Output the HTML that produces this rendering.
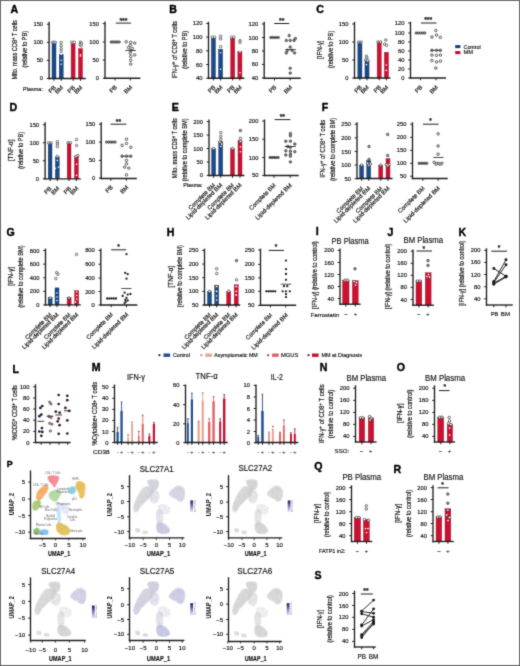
<!DOCTYPE html>
<html><head><meta charset="utf-8"><style>
html,body{margin:0;padding:0;background:#fff;}
body{width:520px;height:666px;overflow:hidden;position:relative;}
svg{position:absolute;left:0;top:0;display:block;}
svg text{font-family:"Liberation Sans", sans-serif;}
</style></head><body>
<svg width="520" height="666" viewBox="0 0 520 666" font-family='"Liberation Sans", sans-serif'>
<filter id="gb" x="0" y="0" width="520" height="666" filterUnits="userSpaceOnUse" color-interpolation-filters="sRGB"><feConvolveMatrix order="3" kernelMatrix="0.0192 0.1001 0.0192 0.1001 0.5228 0.1001 0.0192 0.1001 0.0192" edgeMode="duplicate"/></filter>
<g filter="url(#gb)">
<rect x="0" y="0" width="520" height="666" fill="#fff"/>
<text transform="translate(10.48 12.9) scale(1 1)" x="0" y="0" font-size="10.6" font-weight="bold" fill="#000" stroke="#000" stroke-width="0.4">A</text>
<text transform="translate(16.71 49.85) rotate(-90)" x="0" y="0" font-size="7" text-anchor="middle" fill="#111" stroke="#111" stroke-width="0.2" textLength="59.5" lengthAdjust="spacingAndGlyphs">Mito. mass CD8<tspan font-size="75%" dy="-1.6">+</tspan><tspan dy="1.6"> T cells</tspan></text>
<text transform="translate(27.09 49.2) rotate(-90)" x="0" y="0" font-size="7" text-anchor="middle" fill="#111" stroke="#111" stroke-width="0.2" textLength="36.5" lengthAdjust="spacingAndGlyphs">(relative to PB)</text>
<line x1="49.1" y1="21.8" x2="49.1" y2="79.17" stroke="#1e1e1e" stroke-width="1.35"/>
<line x1="46.8" y1="24.21" x2="49.1" y2="24.21" stroke="#1e1e1e" stroke-width="1"/>
<text x="43.1" y="26.29" font-size="5.8" text-anchor="end" fill="#111" stroke="#111" stroke-width="0.16">150</text>
<line x1="46.8" y1="42.27" x2="49.1" y2="42.27" stroke="#1e1e1e" stroke-width="1"/>
<text x="43.1" y="44.36" font-size="5.8" text-anchor="end" fill="#111" stroke="#111" stroke-width="0.16">100</text>
<line x1="46.8" y1="60.34" x2="49.1" y2="60.34" stroke="#1e1e1e" stroke-width="1"/>
<text x="43.1" y="62.42" font-size="5.8" text-anchor="end" fill="#111" stroke="#111" stroke-width="0.16">50</text>
<line x1="46.8" y1="78.4" x2="49.1" y2="78.4" stroke="#1e1e1e" stroke-width="1"/>
<text x="43.1" y="80.49" font-size="5.8" text-anchor="end" fill="#111" stroke="#111" stroke-width="0.16">0</text>
<rect x="52" y="42.47" width="4" height="35.93" fill="#1b4a88" stroke="#102f5a" stroke-width="0.4"/>
<rect x="59.2" y="54.39" width="4" height="24.01" fill="#1b4a88" stroke="#102f5a" stroke-width="0.4"/>
<rect x="71.1" y="42.47" width="4" height="35.93" fill="#cc1030" stroke="#901028" stroke-width="0.4"/>
<rect x="78.5" y="48.61" width="4" height="29.79" fill="#cc1030" stroke="#901028" stroke-width="0.4"/>
<line x1="48.43" y1="78.5" x2="85.7" y2="78.5" stroke="#1e1e1e" stroke-width="1.35"/>
<line x1="54" y1="78.5" x2="54" y2="80.8" stroke="#1e1e1e" stroke-width="1"/>
<line x1="61.2" y1="78.5" x2="61.2" y2="80.8" stroke="#1e1e1e" stroke-width="1"/>
<line x1="73.1" y1="78.5" x2="73.1" y2="80.8" stroke="#1e1e1e" stroke-width="1"/>
<line x1="80.5" y1="78.5" x2="80.5" y2="80.8" stroke="#1e1e1e" stroke-width="1"/>
<circle cx="52.6" cy="42.3" r="1.25" fill="#c8d0dc" stroke="#4a5a70" stroke-width="0.7"/>
<circle cx="54" cy="42.3" r="1.25" fill="#c8d0dc" stroke="#4a5a70" stroke-width="0.7"/>
<circle cx="55.4" cy="42.3" r="1.25" fill="#c8d0dc" stroke="#4a5a70" stroke-width="0.7"/>
<circle cx="71.7" cy="42.3" r="1.25" fill="#fff" stroke="#555" stroke-width="0.7"/>
<circle cx="73.1" cy="42.3" r="1.25" fill="#fff" stroke="#555" stroke-width="0.7"/>
<circle cx="74.5" cy="42.3" r="1.25" fill="#fff" stroke="#555" stroke-width="0.7"/>
<circle cx="61.2" cy="42.6" r="1.25" fill="#fff" stroke="#333" stroke-width="0.7"/>
<circle cx="61.2" cy="45.8" r="1.25" fill="#fff" stroke="#333" stroke-width="0.7"/>
<circle cx="61.2" cy="48.8" r="1.25" fill="#fff" stroke="#333" stroke-width="0.7"/>
<circle cx="61.2" cy="51.5" r="1.25" fill="#fff" stroke="#333" stroke-width="0.7"/>
<circle cx="61.2" cy="54.3" r="0.8" fill="#fff"/>
<circle cx="61.2" cy="60.3" r="0.8" fill="#fff"/>
<circle cx="61.2" cy="64.2" r="0.8" fill="#fff"/>
<circle cx="80.5" cy="42.2" r="1.25" fill="#fff" stroke="#333" stroke-width="0.7"/>
<circle cx="81.5" cy="43.4" r="1.25" fill="#fff" stroke="#333" stroke-width="0.7"/>
<circle cx="80" cy="44.6" r="1.25" fill="#fff" stroke="#333" stroke-width="0.7"/>
<circle cx="81.2" cy="45.8" r="1.25" fill="#fff" stroke="#333" stroke-width="0.7"/>
<circle cx="80.5" cy="54.9" r="0.8" fill="#fff"/>
<circle cx="80.5" cy="56" r="0.8" fill="#fff"/>
<text x="42.7" y="91" font-size="6" text-anchor="end" fill="#111" stroke="#111" stroke-width="0.16" textLength="19.6" lengthAdjust="spacingAndGlyphs">Plasma:</text>
<text transform="translate(56.4 87.9) rotate(-45)" x="0" y="0" font-size="6" text-anchor="end" fill="#111" stroke="#111" stroke-width="0.16">PB</text>
<text transform="translate(75.5 87.9) rotate(-45)" x="0" y="0" font-size="6" text-anchor="end" fill="#111" stroke="#111" stroke-width="0.16">PB</text>
<text transform="translate(63.6 87.9) rotate(-45)" x="0" y="0" font-size="6" text-anchor="end" fill="#111" stroke="#111" stroke-width="0.16">BM</text>
<text transform="translate(82.9 87.9) rotate(-45)" x="0" y="0" font-size="6" text-anchor="end" fill="#111" stroke="#111" stroke-width="0.16">BM</text>
<line x1="105" y1="21.5" x2="105" y2="78.88" stroke="#1e1e1e" stroke-width="1.35"/>
<line x1="102.7" y1="23.6" x2="105" y2="23.6" stroke="#1e1e1e" stroke-width="1"/>
<text x="99" y="25.69" font-size="5.8" text-anchor="end" fill="#111" stroke="#111" stroke-width="0.16">150</text>
<line x1="102.7" y1="42" x2="105" y2="42" stroke="#1e1e1e" stroke-width="1"/>
<text x="99" y="44.09" font-size="5.8" text-anchor="end" fill="#111" stroke="#111" stroke-width="0.16">100</text>
<line x1="102.7" y1="60" x2="105" y2="60" stroke="#1e1e1e" stroke-width="1"/>
<text x="99" y="62.09" font-size="5.8" text-anchor="end" fill="#111" stroke="#111" stroke-width="0.16">50</text>
<line x1="102.7" y1="78.2" x2="105" y2="78.2" stroke="#1e1e1e" stroke-width="1"/>
<text x="99" y="80.29" font-size="5.8" text-anchor="end" fill="#111" stroke="#111" stroke-width="0.16">0</text>
<line x1="104.33" y1="78.2" x2="140.4" y2="78.2" stroke="#1e1e1e" stroke-width="1.35"/>
<line x1="115" y1="78.2" x2="115" y2="80.5" stroke="#1e1e1e" stroke-width="1"/>
<line x1="130.3" y1="78.2" x2="130.3" y2="80.5" stroke="#1e1e1e" stroke-width="1"/>
<circle cx="111.15" cy="42" r="1.15" fill="#fff" stroke="#2a2a2a" stroke-width="0.7"/>
<circle cx="112.77" cy="42" r="1.15" fill="#fff" stroke="#2a2a2a" stroke-width="0.7"/>
<circle cx="114.39" cy="42" r="1.15" fill="#fff" stroke="#2a2a2a" stroke-width="0.7"/>
<circle cx="116.01" cy="42" r="1.15" fill="#fff" stroke="#2a2a2a" stroke-width="0.7"/>
<circle cx="117.63" cy="42" r="1.15" fill="#fff" stroke="#2a2a2a" stroke-width="0.7"/>
<circle cx="119.25" cy="42" r="1.15" fill="#fff" stroke="#2a2a2a" stroke-width="0.7"/>
<line x1="110.3" y1="42" x2="120.1" y2="42" stroke="#1e1e1e" stroke-width="0.8"/>
<circle cx="126.2" cy="41.8" r="1.25" fill="#fff" stroke="#1a1a1a" stroke-width="0.7"/>
<circle cx="130.7" cy="42.4" r="1.25" fill="#fff" stroke="#1a1a1a" stroke-width="0.7"/>
<circle cx="134.7" cy="43.1" r="1.25" fill="#fff" stroke="#1a1a1a" stroke-width="0.7"/>
<circle cx="130.3" cy="45.4" r="1.25" fill="#fff" stroke="#1a1a1a" stroke-width="0.7"/>
<circle cx="128.5" cy="47.6" r="1.25" fill="#fff" stroke="#1a1a1a" stroke-width="0.7"/>
<circle cx="132.3" cy="48.5" r="1.25" fill="#fff" stroke="#1a1a1a" stroke-width="0.7"/>
<circle cx="130.7" cy="50.5" r="1.25" fill="#fff" stroke="#1a1a1a" stroke-width="0.7"/>
<circle cx="134.7" cy="54.9" r="1.25" fill="#fff" stroke="#1a1a1a" stroke-width="0.7"/>
<circle cx="130.3" cy="53.2" r="1.25" fill="#fff" stroke="#1a1a1a" stroke-width="0.7"/>
<circle cx="130.7" cy="56.6" r="1.25" fill="#fff" stroke="#1a1a1a" stroke-width="0.7"/>
<circle cx="130.7" cy="60.3" r="1.25" fill="#fff" stroke="#1a1a1a" stroke-width="0.7"/>
<circle cx="130.7" cy="64.1" r="1.25" fill="#fff" stroke="#1a1a1a" stroke-width="0.7"/>
<line x1="125.3" y1="50.5" x2="136" y2="50.5" stroke="#1e1e1e" stroke-width="0.8"/>
<text x="123.4" y="22.87" font-size="6.6" text-anchor="middle" font-weight="bold" fill="#111" stroke="#111" stroke-width="0.16" textLength="8.05" lengthAdjust="spacingAndGlyphs">***</text>
<line x1="115.8" y1="23.1" x2="131" y2="23.1" stroke="#1e1e1e" stroke-width="1"/>
<text transform="translate(117.4 87.7) rotate(-45)" x="0" y="0" font-size="6" text-anchor="end" fill="#111" stroke="#111" stroke-width="0.16">PB</text>
<text transform="translate(132.7 87.7) rotate(-45)" x="0" y="0" font-size="6" text-anchor="end" fill="#111" stroke="#111" stroke-width="0.16">BM</text>
<text transform="translate(169.34 12.9) scale(1 1)" x="0" y="0" font-size="10.6" font-weight="bold" fill="#000" stroke="#000" stroke-width="0.4">B</text>
<text transform="translate(176.71 49.75) rotate(-90)" x="0" y="0" font-size="7" text-anchor="middle" fill="#111" stroke="#111" stroke-width="0.2" textLength="57.5" lengthAdjust="spacingAndGlyphs">IFN-γ<tspan font-size="75%" dy="-1.6">+</tspan><tspan dy="1.6"> of CD8</tspan><tspan font-size="75%" dy="-1.6">+</tspan><tspan dy="1.6"> T cells</tspan></text>
<text transform="translate(187.19 49.75) rotate(-90)" x="0" y="0" font-size="7" text-anchor="middle" fill="#111" stroke="#111" stroke-width="0.2" textLength="37.9" lengthAdjust="spacingAndGlyphs">(relative to PB)</text>
<line x1="208.5" y1="21.8" x2="208.5" y2="78.88" stroke="#1e1e1e" stroke-width="1.35"/>
<line x1="206.2" y1="23.4" x2="208.5" y2="23.4" stroke="#1e1e1e" stroke-width="1"/>
<text x="202.5" y="25.49" font-size="5.8" text-anchor="end" fill="#111" stroke="#111" stroke-width="0.16">120</text>
<line x1="206.2" y1="37.1" x2="208.5" y2="37.1" stroke="#1e1e1e" stroke-width="1"/>
<text x="202.5" y="39.19" font-size="5.8" text-anchor="end" fill="#111" stroke="#111" stroke-width="0.16">100</text>
<line x1="206.2" y1="50.8" x2="208.5" y2="50.8" stroke="#1e1e1e" stroke-width="1"/>
<text x="202.5" y="52.89" font-size="5.8" text-anchor="end" fill="#111" stroke="#111" stroke-width="0.16">80</text>
<line x1="206.2" y1="64.5" x2="208.5" y2="64.5" stroke="#1e1e1e" stroke-width="1"/>
<text x="202.5" y="66.59" font-size="5.8" text-anchor="end" fill="#111" stroke="#111" stroke-width="0.16">60</text>
<line x1="206.2" y1="78.2" x2="208.5" y2="78.2" stroke="#1e1e1e" stroke-width="1"/>
<text x="202.5" y="80.29" font-size="5.8" text-anchor="end" fill="#111" stroke="#111" stroke-width="0.16">40</text>
<rect x="211.35" y="37.3" width="4.1" height="40.9" fill="#1b4a88" stroke="#102f5a" stroke-width="0.4"/>
<rect x="218.55" y="49.2" width="4.1" height="29" fill="#1b4a88" stroke="#102f5a" stroke-width="0.4"/>
<rect x="230.65" y="37.3" width="4.1" height="40.9" fill="#cc1030" stroke="#901028" stroke-width="0.4"/>
<rect x="237.85" y="51.2" width="4.1" height="27" fill="#cc1030" stroke="#901028" stroke-width="0.4"/>
<line x1="207.82" y1="78.2" x2="244.4" y2="78.2" stroke="#1e1e1e" stroke-width="1.35"/>
<line x1="213.4" y1="78.2" x2="213.4" y2="80.5" stroke="#1e1e1e" stroke-width="1"/>
<line x1="220.6" y1="78.2" x2="220.6" y2="80.5" stroke="#1e1e1e" stroke-width="1"/>
<line x1="232.7" y1="78.2" x2="232.7" y2="80.5" stroke="#1e1e1e" stroke-width="1"/>
<line x1="239.9" y1="78.2" x2="239.9" y2="80.5" stroke="#1e1e1e" stroke-width="1"/>
<circle cx="212.2" cy="37.1" r="1.25" fill="#fff" stroke="#555" stroke-width="0.7"/>
<circle cx="214.6" cy="37.1" r="1.25" fill="#fff" stroke="#555" stroke-width="0.7"/>
<circle cx="231.5" cy="37.1" r="1.25" fill="#fff" stroke="#555" stroke-width="0.7"/>
<circle cx="233.9" cy="37.1" r="1.25" fill="#fff" stroke="#555" stroke-width="0.7"/>
<circle cx="220.6" cy="36.3" r="1.25" fill="#fff" stroke="#333" stroke-width="0.7"/>
<circle cx="220.6" cy="38.9" r="1.25" fill="#fff" stroke="#333" stroke-width="0.7"/>
<circle cx="220.6" cy="46.7" r="1.25" fill="#fff" stroke="#3a3a3a" stroke-width="0.7"/>
<circle cx="220.6" cy="52.8" r="0.8" fill="#fff"/>
<circle cx="220.6" cy="69.2" r="0.8" fill="#fff"/>
<circle cx="240" cy="40.7" r="1.25" fill="#fff" stroke="#333" stroke-width="0.7"/>
<circle cx="240" cy="42.4" r="1.25" fill="#fff" stroke="#333" stroke-width="0.7"/>
<circle cx="240" cy="51.9" r="0.8" fill="#fff"/>
<circle cx="240" cy="72.7" r="0.8" fill="#fff"/>
<text transform="translate(215.8 87.7) rotate(-45)" x="0" y="0" font-size="6" text-anchor="end" fill="#111" stroke="#111" stroke-width="0.16">PB</text>
<text transform="translate(235.1 87.7) rotate(-45)" x="0" y="0" font-size="6" text-anchor="end" fill="#111" stroke="#111" stroke-width="0.16">PB</text>
<text transform="translate(223 87.7) rotate(-45)" x="0" y="0" font-size="6" text-anchor="end" fill="#111" stroke="#111" stroke-width="0.16">BM</text>
<text transform="translate(242.3 87.7) rotate(-45)" x="0" y="0" font-size="6" text-anchor="end" fill="#111" stroke="#111" stroke-width="0.16">BM</text>
<line x1="264.2" y1="21.8" x2="264.2" y2="78.88" stroke="#1e1e1e" stroke-width="1.35"/>
<line x1="261.9" y1="24" x2="264.2" y2="24" stroke="#1e1e1e" stroke-width="1"/>
<text x="258.2" y="26.09" font-size="5.8" text-anchor="end" fill="#111" stroke="#111" stroke-width="0.16">120</text>
<line x1="261.9" y1="37.5" x2="264.2" y2="37.5" stroke="#1e1e1e" stroke-width="1"/>
<text x="258.2" y="39.59" font-size="5.8" text-anchor="end" fill="#111" stroke="#111" stroke-width="0.16">100</text>
<line x1="261.9" y1="51" x2="264.2" y2="51" stroke="#1e1e1e" stroke-width="1"/>
<text x="258.2" y="53.09" font-size="5.8" text-anchor="end" fill="#111" stroke="#111" stroke-width="0.16">80</text>
<line x1="261.9" y1="64.4" x2="264.2" y2="64.4" stroke="#1e1e1e" stroke-width="1"/>
<text x="258.2" y="66.49" font-size="5.8" text-anchor="end" fill="#111" stroke="#111" stroke-width="0.16">60</text>
<line x1="261.9" y1="78" x2="264.2" y2="78" stroke="#1e1e1e" stroke-width="1"/>
<text x="258.2" y="80.09" font-size="5.8" text-anchor="end" fill="#111" stroke="#111" stroke-width="0.16">40</text>
<line x1="263.52" y1="78.2" x2="300.8" y2="78.2" stroke="#1e1e1e" stroke-width="1.35"/>
<line x1="274.5" y1="78.2" x2="274.5" y2="80.5" stroke="#1e1e1e" stroke-width="1"/>
<line x1="290.2" y1="78.2" x2="290.2" y2="80.5" stroke="#1e1e1e" stroke-width="1"/>
<circle cx="270.75" cy="37.5" r="1.15" fill="#fff" stroke="#2a2a2a" stroke-width="0.7"/>
<circle cx="272.68" cy="37.5" r="1.15" fill="#fff" stroke="#2a2a2a" stroke-width="0.7"/>
<circle cx="274.6" cy="37.5" r="1.15" fill="#fff" stroke="#2a2a2a" stroke-width="0.7"/>
<circle cx="276.52" cy="37.5" r="1.15" fill="#fff" stroke="#2a2a2a" stroke-width="0.7"/>
<circle cx="278.45" cy="37.5" r="1.15" fill="#fff" stroke="#2a2a2a" stroke-width="0.7"/>
<line x1="269.9" y1="37.5" x2="279.3" y2="37.5" stroke="#1e1e1e" stroke-width="0.8"/>
<circle cx="289.2" cy="35.6" r="1.25" fill="#8a8a8a" stroke="#333" stroke-width="0.7"/>
<circle cx="286.3" cy="40.4" r="1.25" fill="#8a8a8a" stroke="#333" stroke-width="0.7"/>
<circle cx="290.2" cy="40.4" r="1.25" fill="#8a8a8a" stroke="#333" stroke-width="0.7"/>
<circle cx="294" cy="40.4" r="1.25" fill="#8a8a8a" stroke="#333" stroke-width="0.7"/>
<circle cx="295.4" cy="38.5" r="1.25" fill="#8a8a8a" stroke="#333" stroke-width="0.7"/>
<circle cx="290.2" cy="47.1" r="1.25" fill="#8a8a8a" stroke="#333" stroke-width="0.7"/>
<circle cx="287.3" cy="50.4" r="1.25" fill="#8a8a8a" stroke="#333" stroke-width="0.7"/>
<circle cx="292.1" cy="50.4" r="1.25" fill="#8a8a8a" stroke="#333" stroke-width="0.7"/>
<circle cx="294.6" cy="52.9" r="1.25" fill="#8a8a8a" stroke="#333" stroke-width="0.7"/>
<circle cx="286.3" cy="52.9" r="1.25" fill="#8a8a8a" stroke="#333" stroke-width="0.7"/>
<circle cx="290.2" cy="68.3" r="1.25" fill="#8a8a8a" stroke="#333" stroke-width="0.7"/>
<circle cx="290.2" cy="73.1" r="1.25" fill="#8a8a8a" stroke="#333" stroke-width="0.7"/>
<line x1="285.4" y1="49.6" x2="296" y2="49.6" stroke="#1e1e1e" stroke-width="0.8"/>
<text x="281.7" y="22.87" font-size="6.6" text-anchor="middle" font-weight="bold" fill="#111" stroke="#111" stroke-width="0.16" textLength="5.3" lengthAdjust="spacingAndGlyphs">**</text>
<line x1="274.2" y1="23.5" x2="289.2" y2="23.5" stroke="#1e1e1e" stroke-width="1"/>
<text transform="translate(276.9 87.7) rotate(-45)" x="0" y="0" font-size="6" text-anchor="end" fill="#111" stroke="#111" stroke-width="0.16">PB</text>
<text transform="translate(292.6 87.7) rotate(-45)" x="0" y="0" font-size="6" text-anchor="end" fill="#111" stroke="#111" stroke-width="0.16">BM</text>
<text transform="translate(316.2 12.9) scale(1 1)" x="0" y="0" font-size="10.6" font-weight="bold" fill="#000" stroke="#000" stroke-width="0.4">C</text>
<text transform="translate(322.39 49.7) rotate(-90)" x="0" y="0" font-size="7" text-anchor="middle" fill="#111" stroke="#111" stroke-width="0.2" textLength="18.5" lengthAdjust="spacingAndGlyphs">[IFN-γ]</text>
<text transform="translate(332.89 49.4) rotate(-90)" x="0" y="0" font-size="7" text-anchor="middle" fill="#111" stroke="#111" stroke-width="0.2" textLength="37.3" lengthAdjust="spacingAndGlyphs">(relative to PB)</text>
<line x1="354.5" y1="21.8" x2="354.5" y2="78.67" stroke="#1e1e1e" stroke-width="1.35"/>
<line x1="352.2" y1="24" x2="354.5" y2="24" stroke="#1e1e1e" stroke-width="1"/>
<text x="348.5" y="26.09" font-size="5.8" text-anchor="end" fill="#111" stroke="#111" stroke-width="0.16">150</text>
<line x1="352.2" y1="42" x2="354.5" y2="42" stroke="#1e1e1e" stroke-width="1"/>
<text x="348.5" y="44.09" font-size="5.8" text-anchor="end" fill="#111" stroke="#111" stroke-width="0.16">100</text>
<line x1="352.2" y1="60" x2="354.5" y2="60" stroke="#1e1e1e" stroke-width="1"/>
<text x="348.5" y="62.09" font-size="5.8" text-anchor="end" fill="#111" stroke="#111" stroke-width="0.16">50</text>
<line x1="352.2" y1="78" x2="354.5" y2="78" stroke="#1e1e1e" stroke-width="1"/>
<text x="348.5" y="80.09" font-size="5.8" text-anchor="end" fill="#111" stroke="#111" stroke-width="0.16">0</text>
<rect x="357.85" y="42.2" width="4.1" height="35.8" fill="#1b4a88" stroke="#102f5a" stroke-width="0.4"/>
<rect x="364.95" y="60.2" width="4.1" height="17.8" fill="#1b4a88" stroke="#102f5a" stroke-width="0.4"/>
<rect x="377.15" y="42.2" width="4.1" height="35.8" fill="#cc1030" stroke="#901028" stroke-width="0.4"/>
<rect x="384.35" y="52.28" width="4.1" height="25.72" fill="#cc1030" stroke="#901028" stroke-width="0.4"/>
<line x1="353.82" y1="78" x2="390.4" y2="78" stroke="#1e1e1e" stroke-width="1.35"/>
<line x1="359.9" y1="78" x2="359.9" y2="80.3" stroke="#1e1e1e" stroke-width="1"/>
<line x1="367" y1="78" x2="367" y2="80.3" stroke="#1e1e1e" stroke-width="1"/>
<line x1="379.2" y1="78" x2="379.2" y2="80.3" stroke="#1e1e1e" stroke-width="1"/>
<line x1="386.4" y1="78" x2="386.4" y2="80.3" stroke="#1e1e1e" stroke-width="1"/>
<circle cx="358.7" cy="42" r="1.25" fill="#c8d0dc" stroke="#4a5a70" stroke-width="0.7"/>
<circle cx="361.1" cy="42" r="1.25" fill="#c8d0dc" stroke="#4a5a70" stroke-width="0.7"/>
<circle cx="378" cy="42" r="1.25" fill="#fff" stroke="#2a2a2a" stroke-width="0.7"/>
<circle cx="380.4" cy="42" r="1.25" fill="#fff" stroke="#2a2a2a" stroke-width="0.7"/>
<circle cx="366.5" cy="56.2" r="1.25" fill="#fff" stroke="#333" stroke-width="0.7"/>
<circle cx="366.9" cy="58.1" r="1.25" fill="#fff" stroke="#333" stroke-width="0.7"/>
<circle cx="365.8" cy="60" r="1.25" fill="#fff" stroke="#333" stroke-width="0.7"/>
<circle cx="367.7" cy="60.8" r="1.25" fill="#fff" stroke="#333" stroke-width="0.7"/>
<circle cx="366.5" cy="64.6" r="0.8" fill="#fff"/>
<circle cx="385.8" cy="40" r="1.25" fill="#fff" stroke="#333" stroke-width="0.7"/>
<circle cx="384.6" cy="44.2" r="1.25" fill="#fff" stroke="#333" stroke-width="0.7"/>
<circle cx="386.5" cy="45.4" r="1.25" fill="#fff" stroke="#333" stroke-width="0.7"/>
<circle cx="386.2" cy="65" r="0.8" fill="#fff"/>
<circle cx="386.2" cy="70.4" r="0.8" fill="#fff"/>
<text transform="translate(362.3 87.7) rotate(-45)" x="0" y="0" font-size="6" text-anchor="end" fill="#111" stroke="#111" stroke-width="0.16">PB</text>
<text transform="translate(381.6 87.7) rotate(-45)" x="0" y="0" font-size="6" text-anchor="end" fill="#111" stroke="#111" stroke-width="0.16">PB</text>
<text transform="translate(369.4 87.7) rotate(-45)" x="0" y="0" font-size="6" text-anchor="end" fill="#111" stroke="#111" stroke-width="0.16">BM</text>
<text transform="translate(388.8 87.7) rotate(-45)" x="0" y="0" font-size="6" text-anchor="end" fill="#111" stroke="#111" stroke-width="0.16">BM</text>
<line x1="410.5" y1="21.8" x2="410.5" y2="78.67" stroke="#1e1e1e" stroke-width="1.35"/>
<line x1="408.2" y1="23" x2="410.5" y2="23" stroke="#1e1e1e" stroke-width="1"/>
<text x="404.5" y="25.09" font-size="5.8" text-anchor="end" fill="#111" stroke="#111" stroke-width="0.16">120</text>
<line x1="408.2" y1="33" x2="410.5" y2="33" stroke="#1e1e1e" stroke-width="1"/>
<text x="404.5" y="35.09" font-size="5.8" text-anchor="end" fill="#111" stroke="#111" stroke-width="0.16">100</text>
<line x1="408.2" y1="42" x2="410.5" y2="42" stroke="#1e1e1e" stroke-width="1"/>
<text x="404.5" y="44.09" font-size="5.8" text-anchor="end" fill="#111" stroke="#111" stroke-width="0.16">80</text>
<line x1="408.2" y1="51" x2="410.5" y2="51" stroke="#1e1e1e" stroke-width="1"/>
<text x="404.5" y="53.09" font-size="5.8" text-anchor="end" fill="#111" stroke="#111" stroke-width="0.16">60</text>
<line x1="408.2" y1="60" x2="410.5" y2="60" stroke="#1e1e1e" stroke-width="1"/>
<text x="404.5" y="62.09" font-size="5.8" text-anchor="end" fill="#111" stroke="#111" stroke-width="0.16">40</text>
<line x1="408.2" y1="69" x2="410.5" y2="69" stroke="#1e1e1e" stroke-width="1"/>
<text x="404.5" y="71.09" font-size="5.8" text-anchor="end" fill="#111" stroke="#111" stroke-width="0.16">20</text>
<line x1="408.2" y1="78" x2="410.5" y2="78" stroke="#1e1e1e" stroke-width="1"/>
<text x="404.5" y="80.09" font-size="5.8" text-anchor="end" fill="#111" stroke="#111" stroke-width="0.16">0</text>
<line x1="409.82" y1="78" x2="446" y2="78" stroke="#1e1e1e" stroke-width="1.35"/>
<line x1="420.5" y1="78" x2="420.5" y2="80.3" stroke="#1e1e1e" stroke-width="1"/>
<line x1="436" y1="78" x2="436" y2="80.3" stroke="#1e1e1e" stroke-width="1"/>
<circle cx="416.15" cy="33" r="1.15" fill="#fff" stroke="#2a2a2a" stroke-width="0.7"/>
<circle cx="418.32" cy="33" r="1.15" fill="#fff" stroke="#2a2a2a" stroke-width="0.7"/>
<circle cx="420.5" cy="33" r="1.15" fill="#fff" stroke="#2a2a2a" stroke-width="0.7"/>
<circle cx="422.67" cy="33" r="1.15" fill="#fff" stroke="#2a2a2a" stroke-width="0.7"/>
<circle cx="424.85" cy="33" r="1.15" fill="#fff" stroke="#2a2a2a" stroke-width="0.7"/>
<line x1="415.3" y1="33" x2="425.7" y2="33" stroke="#1e1e1e" stroke-width="0.8"/>
<circle cx="435.8" cy="30.5" r="1.25" fill="#fff" stroke="#1a1a1a" stroke-width="0.7"/>
<circle cx="431.9" cy="37" r="1.25" fill="#fff" stroke="#1a1a1a" stroke-width="0.7"/>
<circle cx="436.5" cy="35.1" r="1.25" fill="#fff" stroke="#1a1a1a" stroke-width="0.7"/>
<circle cx="440.4" cy="37.4" r="1.25" fill="#fff" stroke="#1a1a1a" stroke-width="0.7"/>
<circle cx="431.9" cy="50.3" r="1.25" fill="#fff" stroke="#1a1a1a" stroke-width="0.7"/>
<circle cx="436.5" cy="50.3" r="1.25" fill="#fff" stroke="#1a1a1a" stroke-width="0.7"/>
<circle cx="440.4" cy="50.3" r="1.25" fill="#fff" stroke="#1a1a1a" stroke-width="0.7"/>
<circle cx="431.9" cy="55" r="1.25" fill="#fff" stroke="#1a1a1a" stroke-width="0.7"/>
<circle cx="436.5" cy="55.4" r="1.25" fill="#fff" stroke="#1a1a1a" stroke-width="0.7"/>
<circle cx="440.4" cy="55" r="1.25" fill="#fff" stroke="#1a1a1a" stroke-width="0.7"/>
<circle cx="431.9" cy="60.5" r="1.25" fill="#fff" stroke="#1a1a1a" stroke-width="0.7"/>
<circle cx="436.5" cy="61.9" r="1.25" fill="#fff" stroke="#1a1a1a" stroke-width="0.7"/>
<circle cx="440.4" cy="61.2" r="1.25" fill="#fff" stroke="#1a1a1a" stroke-width="0.7"/>
<circle cx="435.8" cy="68.1" r="1.25" fill="#fff" stroke="#1a1a1a" stroke-width="0.7"/>
<line x1="430.5" y1="50.3" x2="441.5" y2="50.3" stroke="#1e1e1e" stroke-width="0.8"/>
<text x="428.2" y="21.67" font-size="6.6" text-anchor="middle" font-weight="bold" fill="#111" stroke="#111" stroke-width="0.16" textLength="8.05" lengthAdjust="spacingAndGlyphs">***</text>
<line x1="421" y1="23" x2="436.5" y2="23" stroke="#1e1e1e" stroke-width="1"/>
<text transform="translate(422.9 87.7) rotate(-45)" x="0" y="0" font-size="6" text-anchor="end" fill="#111" stroke="#111" stroke-width="0.16">PB</text>
<text transform="translate(438.4 87.7) rotate(-45)" x="0" y="0" font-size="6" text-anchor="end" fill="#111" stroke="#111" stroke-width="0.16">BM</text>
<rect x="455.2" y="45.1" width="5.2" height="3" fill="#1a3f86"/>
<rect x="455.2" y="51.1" width="5.2" height="3" fill="#b8102c"/>
<text x="463.5" y="48.56" font-size="6" text-anchor="start" fill="#111" stroke="#111" stroke-width="0.16" textLength="17.3" lengthAdjust="spacingAndGlyphs">Control</text>
<text x="463.5" y="54.46" font-size="6" text-anchor="start" fill="#111" stroke="#111" stroke-width="0.16" textLength="9.5" lengthAdjust="spacingAndGlyphs">MM</text>
<text transform="translate(9.54 110.9) scale(1 1)" x="0" y="0" font-size="10.6" font-weight="bold" fill="#000" stroke="#000" stroke-width="0.4">D</text>
<text transform="translate(12.79 150.3) rotate(-90)" x="0" y="0" font-size="7" text-anchor="middle" fill="#111" stroke="#111" stroke-width="0.2" textLength="21.4" lengthAdjust="spacingAndGlyphs">[TNF-α]</text>
<text transform="translate(22.59 150.3) rotate(-90)" x="0" y="0" font-size="7" text-anchor="middle" fill="#111" stroke="#111" stroke-width="0.2" textLength="37" lengthAdjust="spacingAndGlyphs">(relative to PB)</text>
<line x1="45.1" y1="122.3" x2="45.1" y2="179.48" stroke="#1e1e1e" stroke-width="1.35"/>
<line x1="42.8" y1="124.8" x2="45.1" y2="124.8" stroke="#1e1e1e" stroke-width="1"/>
<text x="39.1" y="126.89" font-size="5.8" text-anchor="end" fill="#111" stroke="#111" stroke-width="0.16">150</text>
<line x1="42.8" y1="142.8" x2="45.1" y2="142.8" stroke="#1e1e1e" stroke-width="1"/>
<text x="39.1" y="144.89" font-size="5.8" text-anchor="end" fill="#111" stroke="#111" stroke-width="0.16">100</text>
<line x1="42.8" y1="160.8" x2="45.1" y2="160.8" stroke="#1e1e1e" stroke-width="1"/>
<text x="39.1" y="162.89" font-size="5.8" text-anchor="end" fill="#111" stroke="#111" stroke-width="0.16">50</text>
<line x1="42.8" y1="178.8" x2="45.1" y2="178.8" stroke="#1e1e1e" stroke-width="1"/>
<text x="39.1" y="180.89" font-size="5.8" text-anchor="end" fill="#111" stroke="#111" stroke-width="0.16">0</text>
<rect x="48.2" y="143" width="3.8" height="35.8" fill="#1b4a88" stroke="#102f5a" stroke-width="0.4"/>
<rect x="55.4" y="156.9" width="3.8" height="21.9" fill="#1b4a88" stroke="#102f5a" stroke-width="0.4"/>
<rect x="67.2" y="143" width="3.8" height="35.8" fill="#cc1030" stroke="#901028" stroke-width="0.4"/>
<rect x="74.5" y="156.5" width="3.8" height="22.3" fill="#cc1030" stroke="#901028" stroke-width="0.4"/>
<line x1="44.43" y1="178.8" x2="80.8" y2="178.8" stroke="#1e1e1e" stroke-width="1.35"/>
<line x1="50.1" y1="178.8" x2="50.1" y2="181.1" stroke="#1e1e1e" stroke-width="1"/>
<line x1="57.3" y1="178.8" x2="57.3" y2="181.1" stroke="#1e1e1e" stroke-width="1"/>
<line x1="69.1" y1="178.8" x2="69.1" y2="181.1" stroke="#1e1e1e" stroke-width="1"/>
<line x1="76.4" y1="178.8" x2="76.4" y2="181.1" stroke="#1e1e1e" stroke-width="1"/>
<circle cx="48.5" cy="142.8" r="1.25" fill="#c8d0dc" stroke="#4a5a70" stroke-width="0.7"/>
<circle cx="51" cy="142.8" r="1.25" fill="#c8d0dc" stroke="#4a5a70" stroke-width="0.7"/>
<circle cx="68" cy="142.8" r="1.25" fill="#fff" stroke="#2a2a2a" stroke-width="0.7"/>
<circle cx="70.4" cy="142.8" r="1.25" fill="#fff" stroke="#2a2a2a" stroke-width="0.7"/>
<circle cx="57.4" cy="141.7" r="1.25" fill="#fff" stroke="#333" stroke-width="0.7"/>
<circle cx="57.4" cy="144" r="1.25" fill="#fff" stroke="#333" stroke-width="0.7"/>
<circle cx="57.4" cy="146.6" r="1.25" fill="#fff" stroke="#333" stroke-width="0.7"/>
<circle cx="57.4" cy="156.4" r="1.25" fill="#fff" stroke="#333" stroke-width="0.7"/>
<circle cx="57.4" cy="160.4" r="0.8" fill="#fff"/>
<circle cx="55.4" cy="168.5" r="0.8" fill="#fff"/>
<circle cx="58.5" cy="167.3" r="0.8" fill="#fff"/>
<circle cx="76.5" cy="139.6" r="1.25" fill="#fff" stroke="#333" stroke-width="0.7"/>
<circle cx="76.5" cy="145.5" r="1.25" fill="#fff" stroke="#333" stroke-width="0.7"/>
<circle cx="76.1" cy="156.4" r="1.25" fill="#fff" stroke="#333" stroke-width="0.7"/>
<circle cx="77.9" cy="155.6" r="1.25" fill="#fff" stroke="#333" stroke-width="0.7"/>
<circle cx="76.5" cy="164.2" r="0.8" fill="#fff"/>
<circle cx="76.5" cy="175.4" r="0.8" fill="#fff"/>
<text transform="translate(52.15 188.8) rotate(-45)" x="0" y="0" font-size="6" text-anchor="end" fill="#111" stroke="#111" stroke-width="0.16">PB</text>
<text transform="translate(71.6 188.8) rotate(-45)" x="0" y="0" font-size="6" text-anchor="end" fill="#111" stroke="#111" stroke-width="0.16">PB</text>
<text transform="translate(59.9 188.8) rotate(-45)" x="0" y="0" font-size="6" text-anchor="end" fill="#111" stroke="#111" stroke-width="0.16">BM</text>
<text transform="translate(78.9 188.8) rotate(-45)" x="0" y="0" font-size="6" text-anchor="end" fill="#111" stroke="#111" stroke-width="0.16">BM</text>
<line x1="101.2" y1="122.3" x2="101.2" y2="179.18" stroke="#1e1e1e" stroke-width="1.35"/>
<line x1="98.9" y1="124.2" x2="101.2" y2="124.2" stroke="#1e1e1e" stroke-width="1"/>
<text x="95.2" y="126.29" font-size="5.8" text-anchor="end" fill="#111" stroke="#111" stroke-width="0.16">150</text>
<line x1="98.9" y1="142.1" x2="101.2" y2="142.1" stroke="#1e1e1e" stroke-width="1"/>
<text x="95.2" y="144.19" font-size="5.8" text-anchor="end" fill="#111" stroke="#111" stroke-width="0.16">100</text>
<line x1="98.9" y1="160.4" x2="101.2" y2="160.4" stroke="#1e1e1e" stroke-width="1"/>
<text x="95.2" y="162.49" font-size="5.8" text-anchor="end" fill="#111" stroke="#111" stroke-width="0.16">50</text>
<line x1="98.9" y1="178" x2="101.2" y2="178" stroke="#1e1e1e" stroke-width="1"/>
<text x="95.2" y="180.09" font-size="5.8" text-anchor="end" fill="#111" stroke="#111" stroke-width="0.16">0</text>
<line x1="100.53" y1="178.5" x2="136.8" y2="178.5" stroke="#1e1e1e" stroke-width="1.35"/>
<line x1="110.9" y1="178.5" x2="110.9" y2="180.8" stroke="#1e1e1e" stroke-width="1"/>
<line x1="126.3" y1="178.5" x2="126.3" y2="180.8" stroke="#1e1e1e" stroke-width="1"/>
<circle cx="106.55" cy="142.1" r="1.15" fill="#fff" stroke="#2a2a2a" stroke-width="0.7"/>
<circle cx="108.7" cy="142.1" r="1.15" fill="#fff" stroke="#2a2a2a" stroke-width="0.7"/>
<circle cx="110.85" cy="142.1" r="1.15" fill="#fff" stroke="#2a2a2a" stroke-width="0.7"/>
<circle cx="113" cy="142.1" r="1.15" fill="#fff" stroke="#2a2a2a" stroke-width="0.7"/>
<circle cx="115.15" cy="142.1" r="1.15" fill="#fff" stroke="#2a2a2a" stroke-width="0.7"/>
<line x1="105.7" y1="142.1" x2="116" y2="142.1" stroke="#1e1e1e" stroke-width="0.8"/>
<circle cx="126.5" cy="139.2" r="1.25" fill="#fff" stroke="#1a1a1a" stroke-width="0.7"/>
<circle cx="122.1" cy="145.4" r="1.25" fill="#fff" stroke="#1a1a1a" stroke-width="0.7"/>
<circle cx="126.5" cy="143.5" r="1.25" fill="#fff" stroke="#1a1a1a" stroke-width="0.7"/>
<circle cx="130.8" cy="147.3" r="1.25" fill="#fff" stroke="#1a1a1a" stroke-width="0.7"/>
<circle cx="122.1" cy="156.2" r="1.25" fill="#fff" stroke="#1a1a1a" stroke-width="0.7"/>
<circle cx="126.5" cy="156.2" r="1.25" fill="#fff" stroke="#1a1a1a" stroke-width="0.7"/>
<circle cx="130.8" cy="156.2" r="1.25" fill="#fff" stroke="#1a1a1a" stroke-width="0.7"/>
<circle cx="126.5" cy="160.4" r="1.25" fill="#fff" stroke="#1a1a1a" stroke-width="0.7"/>
<circle cx="126.5" cy="163.8" r="1.25" fill="#fff" stroke="#1a1a1a" stroke-width="0.7"/>
<circle cx="124.6" cy="167.1" r="1.25" fill="#fff" stroke="#1a1a1a" stroke-width="0.7"/>
<circle cx="128.8" cy="168.1" r="1.25" fill="#fff" stroke="#1a1a1a" stroke-width="0.7"/>
<circle cx="126.5" cy="174.8" r="1.25" fill="#fff" stroke="#1a1a1a" stroke-width="0.7"/>
<line x1="121" y1="156.2" x2="131.7" y2="156.2" stroke="#1e1e1e" stroke-width="0.8"/>
<text x="118.4" y="123.67" font-size="6.6" text-anchor="middle" font-weight="bold" fill="#111" stroke="#111" stroke-width="0.16" textLength="5.3" lengthAdjust="spacingAndGlyphs">**</text>
<line x1="110.6" y1="124.2" x2="126.5" y2="124.2" stroke="#1e1e1e" stroke-width="1"/>
<text transform="translate(113.4 187.6) rotate(-45)" x="0" y="0" font-size="6" text-anchor="end" fill="#111" stroke="#111" stroke-width="0.16">PB</text>
<text transform="translate(128.9 187.6) rotate(-45)" x="0" y="0" font-size="6" text-anchor="end" fill="#111" stroke="#111" stroke-width="0.16">BM</text>
<text transform="translate(171.74 111.2) scale(1 1)" x="0" y="0" font-size="10.6" font-weight="bold" fill="#000" stroke="#000" stroke-width="0.4">E</text>
<text transform="translate(176.91 148.2) rotate(-90)" x="0" y="0" font-size="7" text-anchor="middle" fill="#111" stroke="#111" stroke-width="0.2" textLength="60" lengthAdjust="spacingAndGlyphs">Mito. mass CD8<tspan font-size="75%" dy="-1.6">+</tspan><tspan dy="1.6"> T cells</tspan></text>
<text transform="translate(186.89 149.8) rotate(-90)" x="0" y="0" font-size="7" text-anchor="middle" fill="#111" stroke="#111" stroke-width="0.2" textLength="63" lengthAdjust="spacingAndGlyphs">(relative to complete BM)</text>
<line x1="209" y1="119.5" x2="209" y2="176.18" stroke="#1e1e1e" stroke-width="1.35"/>
<line x1="206.7" y1="121.6" x2="209" y2="121.6" stroke="#1e1e1e" stroke-width="1"/>
<text x="203" y="123.69" font-size="5.8" text-anchor="end" fill="#111" stroke="#111" stroke-width="0.16">200</text>
<line x1="206.7" y1="135.05" x2="209" y2="135.05" stroke="#1e1e1e" stroke-width="1"/>
<text x="203" y="137.14" font-size="5.8" text-anchor="end" fill="#111" stroke="#111" stroke-width="0.16">150</text>
<line x1="206.7" y1="148.5" x2="209" y2="148.5" stroke="#1e1e1e" stroke-width="1"/>
<text x="203" y="150.59" font-size="5.8" text-anchor="end" fill="#111" stroke="#111" stroke-width="0.16">100</text>
<line x1="206.7" y1="161.95" x2="209" y2="161.95" stroke="#1e1e1e" stroke-width="1"/>
<text x="203" y="164.04" font-size="5.8" text-anchor="end" fill="#111" stroke="#111" stroke-width="0.16">50</text>
<line x1="206.7" y1="175.4" x2="209" y2="175.4" stroke="#1e1e1e" stroke-width="1"/>
<text x="203" y="177.49" font-size="5.8" text-anchor="end" fill="#111" stroke="#111" stroke-width="0.16">0</text>
<rect x="211.6" y="148.7" width="4" height="26.7" fill="#1b4a88" stroke="#102f5a" stroke-width="0.4"/>
<rect x="218.7" y="141.4" width="4" height="34" fill="#1b4a88" stroke="#102f5a" stroke-width="0.4"/>
<rect x="230.5" y="148.7" width="4" height="26.7" fill="#cc1030" stroke="#901028" stroke-width="0.4"/>
<rect x="238" y="140.4" width="4" height="35" fill="#cc1030" stroke="#901028" stroke-width="0.4"/>
<line x1="208.32" y1="175.5" x2="244.4" y2="175.5" stroke="#1e1e1e" stroke-width="1.35"/>
<line x1="213.6" y1="175.5" x2="213.6" y2="177.8" stroke="#1e1e1e" stroke-width="1"/>
<line x1="220.7" y1="175.5" x2="220.7" y2="177.8" stroke="#1e1e1e" stroke-width="1"/>
<line x1="232.5" y1="175.5" x2="232.5" y2="177.8" stroke="#1e1e1e" stroke-width="1"/>
<line x1="240" y1="175.5" x2="240" y2="177.8" stroke="#1e1e1e" stroke-width="1"/>
<circle cx="213.6" cy="148.5" r="1.25" fill="#fff" stroke="#2a2a2a" stroke-width="0.7"/>
<circle cx="232.5" cy="148.5" r="1.25" fill="#fff" stroke="#2a2a2a" stroke-width="0.7"/>
<circle cx="220.8" cy="132.5" r="1.25" fill="#fff" stroke="#333" stroke-width="0.7"/>
<circle cx="220.8" cy="136.3" r="1.25" fill="#fff" stroke="#333" stroke-width="0.7"/>
<circle cx="220.8" cy="139.2" r="1.25" fill="#fff" stroke="#333" stroke-width="0.7"/>
<circle cx="219.8" cy="142.1" r="1.25" fill="#fff" stroke="#333" stroke-width="0.7"/>
<circle cx="221.7" cy="144" r="1.25" fill="#fff" stroke="#333" stroke-width="0.7"/>
<circle cx="220.8" cy="146.5" r="0.8" fill="#fff"/>
<circle cx="240.4" cy="130.6" r="1.25" fill="#999" stroke="#333" stroke-width="0.7"/>
<circle cx="240.4" cy="138.3" r="1.25" fill="#fff" stroke="#333" stroke-width="0.7"/>
<circle cx="240.4" cy="141.2" r="1.25" fill="#fff" stroke="#333" stroke-width="0.7"/>
<circle cx="240.4" cy="146.9" r="0.8" fill="#fff"/>
<circle cx="240.4" cy="151.7" r="0.8" fill="#fff"/>
<text x="202.5" y="187.4" font-size="6" text-anchor="end" fill="#111" stroke="#111" stroke-width="0.16" textLength="19.2" lengthAdjust="spacingAndGlyphs">Plasma:</text>
<text transform="translate(215.6 185.5) rotate(-45)" x="0" y="0" font-size="6" text-anchor="end" fill="#111" stroke="#111" stroke-width="0.16" textLength="34.98" lengthAdjust="spacingAndGlyphs">Complete BM</text>
<text transform="translate(234.5 185.5) rotate(-45)" x="0" y="0" font-size="6" text-anchor="end" fill="#111" stroke="#111" stroke-width="0.16" textLength="34.98" lengthAdjust="spacingAndGlyphs">Complete BM</text>
<text transform="translate(222.7 185.5) rotate(-45)" x="0" y="0" font-size="6" text-anchor="end" fill="#111" stroke="#111" stroke-width="0.16" textLength="48.76" lengthAdjust="spacingAndGlyphs">Lipid-depleted BM</text>
<text transform="translate(242 185.5) rotate(-45)" x="0" y="0" font-size="6" text-anchor="end" fill="#111" stroke="#111" stroke-width="0.16" textLength="48.76" lengthAdjust="spacingAndGlyphs">Lipid-depleted BM</text>
<line x1="264.5" y1="119.5" x2="264.5" y2="176.18" stroke="#1e1e1e" stroke-width="1.35"/>
<line x1="262.2" y1="121" x2="264.5" y2="121" stroke="#1e1e1e" stroke-width="1"/>
<text x="258.5" y="123.09" font-size="5.8" text-anchor="end" fill="#111" stroke="#111" stroke-width="0.16">200</text>
<line x1="262.2" y1="139.2" x2="264.5" y2="139.2" stroke="#1e1e1e" stroke-width="1"/>
<text x="258.5" y="141.29" font-size="5.8" text-anchor="end" fill="#111" stroke="#111" stroke-width="0.16">150</text>
<line x1="262.2" y1="157.5" x2="264.5" y2="157.5" stroke="#1e1e1e" stroke-width="1"/>
<text x="258.5" y="159.59" font-size="5.8" text-anchor="end" fill="#111" stroke="#111" stroke-width="0.16">100</text>
<line x1="262.2" y1="175.4" x2="264.5" y2="175.4" stroke="#1e1e1e" stroke-width="1"/>
<text x="258.5" y="177.49" font-size="5.8" text-anchor="end" fill="#111" stroke="#111" stroke-width="0.16">50</text>
<line x1="263.82" y1="175.5" x2="298.7" y2="175.5" stroke="#1e1e1e" stroke-width="1.35"/>
<line x1="274" y1="175.5" x2="274" y2="177.8" stroke="#1e1e1e" stroke-width="1"/>
<line x1="290.2" y1="175.5" x2="290.2" y2="177.8" stroke="#1e1e1e" stroke-width="1"/>
<circle cx="269.95" cy="157.5" r="1.15" fill="#fff" stroke="#2a2a2a" stroke-width="0.7"/>
<circle cx="272.02" cy="157.5" r="1.15" fill="#fff" stroke="#2a2a2a" stroke-width="0.7"/>
<circle cx="274.1" cy="157.5" r="1.15" fill="#fff" stroke="#2a2a2a" stroke-width="0.7"/>
<circle cx="276.17" cy="157.5" r="1.15" fill="#fff" stroke="#2a2a2a" stroke-width="0.7"/>
<circle cx="278.25" cy="157.5" r="1.15" fill="#fff" stroke="#2a2a2a" stroke-width="0.7"/>
<line x1="269.1" y1="157.5" x2="279.1" y2="157.5" stroke="#1e1e1e" stroke-width="0.8"/>
<circle cx="290.4" cy="133.5" r="1.25" fill="#8a8a8a" stroke="#333" stroke-width="0.7"/>
<circle cx="290.4" cy="135.8" r="1.25" fill="#8a8a8a" stroke="#333" stroke-width="0.7"/>
<circle cx="285.8" cy="141.2" r="1.25" fill="#8a8a8a" stroke="#333" stroke-width="0.7"/>
<circle cx="290.4" cy="141.2" r="1.25" fill="#8a8a8a" stroke="#333" stroke-width="0.7"/>
<circle cx="294.8" cy="144" r="1.25" fill="#8a8a8a" stroke="#333" stroke-width="0.7"/>
<circle cx="287.7" cy="146.5" r="1.25" fill="#8a8a8a" stroke="#333" stroke-width="0.7"/>
<circle cx="290.4" cy="147.3" r="1.25" fill="#8a8a8a" stroke="#333" stroke-width="0.7"/>
<circle cx="285.8" cy="150.8" r="1.25" fill="#8a8a8a" stroke="#333" stroke-width="0.7"/>
<circle cx="290.4" cy="151.2" r="1.25" fill="#8a8a8a" stroke="#333" stroke-width="0.7"/>
<circle cx="294.8" cy="151.7" r="1.25" fill="#8a8a8a" stroke="#333" stroke-width="0.7"/>
<circle cx="290.4" cy="154.2" r="1.25" fill="#8a8a8a" stroke="#333" stroke-width="0.7"/>
<circle cx="285.8" cy="155" r="1.25" fill="#8a8a8a" stroke="#333" stroke-width="0.7"/>
<circle cx="290.4" cy="156.2" r="1.25" fill="#8a8a8a" stroke="#333" stroke-width="0.7"/>
<circle cx="290.4" cy="161.9" r="1.25" fill="#8a8a8a" stroke="#333" stroke-width="0.7"/>
<line x1="284.6" y1="146.5" x2="295.8" y2="146.5" stroke="#1e1e1e" stroke-width="0.8"/>
<text x="282.3" y="118.87" font-size="6.6" text-anchor="middle" font-weight="bold" fill="#111" stroke="#111" stroke-width="0.16" textLength="5.3" lengthAdjust="spacingAndGlyphs">**</text>
<line x1="274.6" y1="119.6" x2="290.4" y2="119.6" stroke="#1e1e1e" stroke-width="1"/>
<text transform="translate(276.2 185.7) rotate(-45)" x="0" y="0" font-size="6" text-anchor="end" fill="#111" stroke="#111" stroke-width="0.16" textLength="34.98" lengthAdjust="spacingAndGlyphs">Complete BM</text>
<text transform="translate(292.2 185.7) rotate(-45)" x="0" y="0" font-size="6" text-anchor="end" fill="#111" stroke="#111" stroke-width="0.16" textLength="48.76" lengthAdjust="spacingAndGlyphs">Lipid-depleted BM</text>
<text transform="translate(321.74 110.7) scale(1 1)" x="0" y="0" font-size="10.6" font-weight="bold" fill="#000" stroke="#000" stroke-width="0.4">F</text>
<text transform="translate(324.61 148.7) rotate(-90)" x="0" y="0" font-size="7" text-anchor="middle" fill="#111" stroke="#111" stroke-width="0.2" textLength="58" lengthAdjust="spacingAndGlyphs">IFN-γ<tspan font-size="75%" dy="-1.6">+</tspan><tspan dy="1.6"> of CD8</tspan><tspan font-size="75%" dy="-1.6">+</tspan><tspan dy="1.6"> T cells</tspan></text>
<text transform="translate(335.09 149.3) rotate(-90)" x="0" y="0" font-size="7" text-anchor="middle" fill="#111" stroke="#111" stroke-width="0.2" textLength="63" lengthAdjust="spacingAndGlyphs">(relative to complete BM)</text>
<line x1="357" y1="122.3" x2="357" y2="179.18" stroke="#1e1e1e" stroke-width="1.35"/>
<line x1="354.7" y1="124.2" x2="357" y2="124.2" stroke="#1e1e1e" stroke-width="1"/>
<text x="351" y="126.29" font-size="5.8" text-anchor="end" fill="#111" stroke="#111" stroke-width="0.16">250</text>
<line x1="354.7" y1="137.82" x2="357" y2="137.82" stroke="#1e1e1e" stroke-width="1"/>
<text x="351" y="139.91" font-size="5.8" text-anchor="end" fill="#111" stroke="#111" stroke-width="0.16">200</text>
<line x1="354.7" y1="151.45" x2="357" y2="151.45" stroke="#1e1e1e" stroke-width="1"/>
<text x="351" y="153.54" font-size="5.8" text-anchor="end" fill="#111" stroke="#111" stroke-width="0.16">150</text>
<line x1="354.7" y1="165.07" x2="357" y2="165.07" stroke="#1e1e1e" stroke-width="1"/>
<text x="351" y="167.16" font-size="5.8" text-anchor="end" fill="#111" stroke="#111" stroke-width="0.16">100</text>
<line x1="354.7" y1="178.7" x2="357" y2="178.7" stroke="#1e1e1e" stroke-width="1"/>
<text x="351" y="180.79" font-size="5.8" text-anchor="end" fill="#111" stroke="#111" stroke-width="0.16">50</text>
<rect x="359.6" y="165.27" width="4" height="13.43" fill="#1b4a88" stroke="#102f5a" stroke-width="0.4"/>
<rect x="366.7" y="160.6" width="4" height="18.1" fill="#1b4a88" stroke="#102f5a" stroke-width="0.4"/>
<rect x="378.8" y="165.27" width="4" height="13.43" fill="#cc1030" stroke="#901028" stroke-width="0.4"/>
<rect x="386" y="158.7" width="4" height="20" fill="#cc1030" stroke="#901028" stroke-width="0.4"/>
<line x1="356.32" y1="178.5" x2="392.6" y2="178.5" stroke="#1e1e1e" stroke-width="1.35"/>
<line x1="361.6" y1="178.5" x2="361.6" y2="180.8" stroke="#1e1e1e" stroke-width="1"/>
<line x1="368.7" y1="178.5" x2="368.7" y2="180.8" stroke="#1e1e1e" stroke-width="1"/>
<line x1="380.8" y1="178.5" x2="380.8" y2="180.8" stroke="#1e1e1e" stroke-width="1"/>
<line x1="388" y1="178.5" x2="388" y2="180.8" stroke="#1e1e1e" stroke-width="1"/>
<circle cx="361.6" cy="165.07" r="1.25" fill="#fff" stroke="#2a2a2a" stroke-width="0.7"/>
<circle cx="380.8" cy="165.07" r="1.25" fill="#fff" stroke="#2a2a2a" stroke-width="0.7"/>
<circle cx="369" cy="146.5" r="1.25" fill="#999" stroke="#333" stroke-width="0.7"/>
<circle cx="369" cy="159.4" r="1.25" fill="#999" stroke="#333" stroke-width="0.7"/>
<circle cx="367.7" cy="163.3" r="1.25" fill="#fff" stroke="#2a2a2a" stroke-width="0.7"/>
<circle cx="370.4" cy="163.8" r="1.25" fill="#fff" stroke="#2a2a2a" stroke-width="0.7"/>
<circle cx="369" cy="165.2" r="1.25" fill="#fff" stroke="#2a2a2a" stroke-width="0.7"/>
<circle cx="387.7" cy="134.4" r="1.25" fill="#999" stroke="#333" stroke-width="0.7"/>
<circle cx="387.7" cy="155.6" r="1.25" fill="#999" stroke="#333" stroke-width="0.7"/>
<circle cx="386.3" cy="164.6" r="1.25" fill="#fff" stroke="#2a2a2a" stroke-width="0.7"/>
<circle cx="389.2" cy="164.6" r="1.25" fill="#fff" stroke="#2a2a2a" stroke-width="0.7"/>
<circle cx="387.7" cy="165.8" r="1.25" fill="#fff" stroke="#2a2a2a" stroke-width="0.7"/>
<text transform="translate(363.6 188.8) rotate(-45)" x="0" y="0" font-size="6" text-anchor="end" fill="#111" stroke="#111" stroke-width="0.16" textLength="34.98" lengthAdjust="spacingAndGlyphs">Complete BM</text>
<text transform="translate(382.8 188.8) rotate(-45)" x="0" y="0" font-size="6" text-anchor="end" fill="#111" stroke="#111" stroke-width="0.16" textLength="34.98" lengthAdjust="spacingAndGlyphs">Complete BM</text>
<text transform="translate(370.7 188.8) rotate(-45)" x="0" y="0" font-size="6" text-anchor="end" fill="#111" stroke="#111" stroke-width="0.16" textLength="48.76" lengthAdjust="spacingAndGlyphs">Lipid-depleted BM</text>
<text transform="translate(390 188.8) rotate(-45)" x="0" y="0" font-size="6" text-anchor="end" fill="#111" stroke="#111" stroke-width="0.16" textLength="48.76" lengthAdjust="spacingAndGlyphs">Lipid-depleted BM</text>
<line x1="412.5" y1="122.3" x2="412.5" y2="179.18" stroke="#1e1e1e" stroke-width="1.35"/>
<line x1="410.2" y1="124.2" x2="412.5" y2="124.2" stroke="#1e1e1e" stroke-width="1"/>
<text x="406.5" y="126.29" font-size="5.8" text-anchor="end" fill="#111" stroke="#111" stroke-width="0.16">250</text>
<line x1="410.2" y1="137.3" x2="412.5" y2="137.3" stroke="#1e1e1e" stroke-width="1"/>
<text x="406.5" y="139.39" font-size="5.8" text-anchor="end" fill="#111" stroke="#111" stroke-width="0.16">200</text>
<line x1="410.2" y1="150.4" x2="412.5" y2="150.4" stroke="#1e1e1e" stroke-width="1"/>
<text x="406.5" y="152.49" font-size="5.8" text-anchor="end" fill="#111" stroke="#111" stroke-width="0.16">150</text>
<line x1="410.2" y1="163.3" x2="412.5" y2="163.3" stroke="#1e1e1e" stroke-width="1"/>
<text x="406.5" y="165.39" font-size="5.8" text-anchor="end" fill="#111" stroke="#111" stroke-width="0.16">100</text>
<line x1="410.2" y1="176.2" x2="412.5" y2="176.2" stroke="#1e1e1e" stroke-width="1"/>
<text x="406.5" y="178.29" font-size="5.8" text-anchor="end" fill="#111" stroke="#111" stroke-width="0.16">50</text>
<line x1="411.82" y1="178.5" x2="447.7" y2="178.5" stroke="#1e1e1e" stroke-width="1.35"/>
<line x1="422.9" y1="178.5" x2="422.9" y2="180.8" stroke="#1e1e1e" stroke-width="1"/>
<line x1="438.1" y1="178.5" x2="438.1" y2="180.8" stroke="#1e1e1e" stroke-width="1"/>
<circle cx="419.05" cy="163.3" r="1.15" fill="#fff" stroke="#2a2a2a" stroke-width="0.7"/>
<circle cx="421" cy="163.3" r="1.15" fill="#fff" stroke="#2a2a2a" stroke-width="0.7"/>
<circle cx="422.95" cy="163.3" r="1.15" fill="#fff" stroke="#2a2a2a" stroke-width="0.7"/>
<circle cx="424.9" cy="163.3" r="1.15" fill="#fff" stroke="#2a2a2a" stroke-width="0.7"/>
<circle cx="426.85" cy="163.3" r="1.15" fill="#fff" stroke="#2a2a2a" stroke-width="0.7"/>
<line x1="418.2" y1="163.3" x2="427.7" y2="163.3" stroke="#1e1e1e" stroke-width="0.8"/>
<circle cx="438.1" cy="133.8" r="1.25" fill="#fff" stroke="#1a1a1a" stroke-width="0.7"/>
<circle cx="438.1" cy="146" r="1.25" fill="#fff" stroke="#1a1a1a" stroke-width="0.7"/>
<circle cx="438.1" cy="154.2" r="1.25" fill="#fff" stroke="#1a1a1a" stroke-width="0.7"/>
<circle cx="434.2" cy="162.3" r="1.25" fill="#fff" stroke="#1a1a1a" stroke-width="0.7"/>
<circle cx="438.1" cy="163.3" r="1.25" fill="#fff" stroke="#1a1a1a" stroke-width="0.7"/>
<circle cx="441.9" cy="163.3" r="1.25" fill="#fff" stroke="#1a1a1a" stroke-width="0.7"/>
<circle cx="436.2" cy="164.2" r="1.25" fill="#fff" stroke="#1a1a1a" stroke-width="0.7"/>
<circle cx="440" cy="164.2" r="1.25" fill="#fff" stroke="#1a1a1a" stroke-width="0.7"/>
<line x1="433.3" y1="157.5" x2="443.5" y2="157.5" stroke="#1e1e1e" stroke-width="0.8"/>
<text x="430.4" y="123.27" font-size="6.6" text-anchor="middle" font-weight="bold" fill="#111" stroke="#111" stroke-width="0.16" textLength="2.55" lengthAdjust="spacingAndGlyphs">*</text>
<line x1="423" y1="124.2" x2="438.5" y2="124.2" stroke="#1e1e1e" stroke-width="1"/>
<text transform="translate(425.1 188.7) rotate(-45)" x="0" y="0" font-size="6" text-anchor="end" fill="#111" stroke="#111" stroke-width="0.16" textLength="34.98" lengthAdjust="spacingAndGlyphs">Complete BM</text>
<text transform="translate(440.3 188.7) rotate(-45)" x="0" y="0" font-size="6" text-anchor="end" fill="#111" stroke="#111" stroke-width="0.16" textLength="48.76" lengthAdjust="spacingAndGlyphs">Lipid-depleted BM</text>
<text transform="translate(6.41 235.6) scale(1 1)" x="0" y="0" font-size="10.6" font-weight="bold" fill="#000" stroke="#000" stroke-width="0.4">G</text>
<text transform="translate(13.19 276.3) rotate(-90)" x="0" y="0" font-size="7" text-anchor="middle" fill="#111" stroke="#111" stroke-width="0.2" textLength="19" lengthAdjust="spacingAndGlyphs">[IFN-γ]</text>
<text transform="translate(23.09 276.5) rotate(-90)" x="0" y="0" font-size="7" text-anchor="middle" fill="#111" stroke="#111" stroke-width="0.2" textLength="62" lengthAdjust="spacingAndGlyphs">(relative to complete BM)</text>
<line x1="45.5" y1="248.6" x2="45.5" y2="305.48" stroke="#1e1e1e" stroke-width="1.35"/>
<line x1="43.2" y1="250.52" x2="45.5" y2="250.52" stroke="#1e1e1e" stroke-width="1"/>
<text x="39.5" y="252.61" font-size="5.8" text-anchor="end" fill="#111" stroke="#111" stroke-width="0.16">800</text>
<line x1="43.2" y1="264.14" x2="45.5" y2="264.14" stroke="#1e1e1e" stroke-width="1"/>
<text x="39.5" y="266.23" font-size="5.8" text-anchor="end" fill="#111" stroke="#111" stroke-width="0.16">600</text>
<line x1="43.2" y1="277.76" x2="45.5" y2="277.76" stroke="#1e1e1e" stroke-width="1"/>
<text x="39.5" y="279.85" font-size="5.8" text-anchor="end" fill="#111" stroke="#111" stroke-width="0.16">400</text>
<line x1="43.2" y1="291.38" x2="45.5" y2="291.38" stroke="#1e1e1e" stroke-width="1"/>
<text x="39.5" y="293.47" font-size="5.8" text-anchor="end" fill="#111" stroke="#111" stroke-width="0.16">200</text>
<line x1="43.2" y1="305" x2="45.5" y2="305" stroke="#1e1e1e" stroke-width="1"/>
<text x="39.5" y="307.09" font-size="5.8" text-anchor="end" fill="#111" stroke="#111" stroke-width="0.16">0</text>
<rect x="48.15" y="297.5" width="4" height="7.5" fill="#1b4a88" stroke="#102f5a" stroke-width="0.4"/>
<rect x="55" y="287.9" width="4" height="17.1" fill="#1b4a88" stroke="#102f5a" stroke-width="0.4"/>
<rect x="67.1" y="297.5" width="4" height="7.5" fill="#cc1030" stroke="#901028" stroke-width="0.4"/>
<rect x="74.7" y="290.6" width="4" height="14.4" fill="#cc1030" stroke="#901028" stroke-width="0.4"/>
<line x1="44.83" y1="304.8" x2="80.8" y2="304.8" stroke="#1e1e1e" stroke-width="1.35"/>
<line x1="50.15" y1="304.8" x2="50.15" y2="307.1" stroke="#1e1e1e" stroke-width="1"/>
<line x1="57" y1="304.8" x2="57" y2="307.1" stroke="#1e1e1e" stroke-width="1"/>
<line x1="69.1" y1="304.8" x2="69.1" y2="307.1" stroke="#1e1e1e" stroke-width="1"/>
<line x1="76.7" y1="304.8" x2="76.7" y2="307.1" stroke="#1e1e1e" stroke-width="1"/>
<circle cx="50.15" cy="298" r="1.25" fill="#fff" stroke="#2a2a2a" stroke-width="0.7"/>
<circle cx="69.1" cy="298" r="1.25" fill="#fff" stroke="#2a2a2a" stroke-width="0.7"/>
<circle cx="56.7" cy="272.7" r="1.25" fill="#fff" stroke="#333" stroke-width="0.7"/>
<circle cx="57.9" cy="274.2" r="1.25" fill="#fff" stroke="#333" stroke-width="0.7"/>
<circle cx="55.8" cy="278.5" r="1.25" fill="#fff" stroke="#333" stroke-width="0.7"/>
<circle cx="57" cy="293" r="0.8" fill="#fff"/>
<circle cx="57" cy="297" r="0.8" fill="#fff"/>
<circle cx="57" cy="300.5" r="0.8" fill="#fff"/>
<circle cx="76.5" cy="254.4" r="1.25" fill="#fff" stroke="#333" stroke-width="0.7"/>
<circle cx="76.7" cy="292" r="0.8" fill="#fff"/>
<circle cx="76.7" cy="295.5" r="0.8" fill="#fff"/>
<circle cx="76.7" cy="299" r="0.8" fill="#fff"/>
<circle cx="75.8" cy="302" r="0.8" fill="#fff"/>
<text transform="translate(52.15 315.1) rotate(-45)" x="0" y="0" font-size="6" text-anchor="end" fill="#111" stroke="#111" stroke-width="0.16" textLength="34.98" lengthAdjust="spacingAndGlyphs">Complete BM</text>
<text transform="translate(71.1 315.1) rotate(-45)" x="0" y="0" font-size="6" text-anchor="end" fill="#111" stroke="#111" stroke-width="0.16" textLength="34.98" lengthAdjust="spacingAndGlyphs">Complete BM</text>
<text transform="translate(59 315.1) rotate(-45)" x="0" y="0" font-size="6" text-anchor="end" fill="#111" stroke="#111" stroke-width="0.16" textLength="48.76" lengthAdjust="spacingAndGlyphs">Lipid-depleted BM</text>
<text transform="translate(78.7 315.1) rotate(-45)" x="0" y="0" font-size="6" text-anchor="end" fill="#111" stroke="#111" stroke-width="0.16" textLength="48.76" lengthAdjust="spacingAndGlyphs">Lipid-depleted BM</text>
<line x1="100.8" y1="248.6" x2="100.8" y2="305.68" stroke="#1e1e1e" stroke-width="1.35"/>
<line x1="98.5" y1="250.4" x2="100.8" y2="250.4" stroke="#1e1e1e" stroke-width="1"/>
<text x="94.8" y="252.49" font-size="5.8" text-anchor="end" fill="#111" stroke="#111" stroke-width="0.16">800</text>
<line x1="98.5" y1="264.2" x2="100.8" y2="264.2" stroke="#1e1e1e" stroke-width="1"/>
<text x="94.8" y="266.29" font-size="5.8" text-anchor="end" fill="#111" stroke="#111" stroke-width="0.16">600</text>
<line x1="98.5" y1="278" x2="100.8" y2="278" stroke="#1e1e1e" stroke-width="1"/>
<text x="94.8" y="280.09" font-size="5.8" text-anchor="end" fill="#111" stroke="#111" stroke-width="0.16">400</text>
<line x1="98.5" y1="291.5" x2="100.8" y2="291.5" stroke="#1e1e1e" stroke-width="1"/>
<text x="94.8" y="293.59" font-size="5.8" text-anchor="end" fill="#111" stroke="#111" stroke-width="0.16">200</text>
<line x1="98.5" y1="305" x2="100.8" y2="305" stroke="#1e1e1e" stroke-width="1"/>
<text x="94.8" y="307.09" font-size="5.8" text-anchor="end" fill="#111" stroke="#111" stroke-width="0.16">0</text>
<line x1="100.12" y1="305" x2="137.3" y2="305" stroke="#1e1e1e" stroke-width="1.35"/>
<line x1="111.2" y1="305" x2="111.2" y2="307.3" stroke="#1e1e1e" stroke-width="1"/>
<line x1="126.5" y1="305" x2="126.5" y2="307.3" stroke="#1e1e1e" stroke-width="1"/>
<circle cx="107.2" cy="298.5" r="1.15" fill="#222"/>
<circle cx="109.4" cy="298.5" r="1.15" fill="#222"/>
<circle cx="111.6" cy="298.5" r="1.15" fill="#222"/>
<circle cx="113.8" cy="298.5" r="1.15" fill="#222"/>
<circle cx="116" cy="298.5" r="1.15" fill="#222"/>
<line x1="106" y1="298.5" x2="116.5" y2="298.5" stroke="#1e1e1e" stroke-width="0.8"/>
<circle cx="126.5" cy="254.2" r="1.15" fill="#222"/>
<circle cx="125.2" cy="272.9" r="1.15" fill="#222"/>
<circle cx="127.7" cy="274.2" r="1.15" fill="#222"/>
<circle cx="126.5" cy="278.7" r="1.15" fill="#222"/>
<circle cx="124.6" cy="292.7" r="1.15" fill="#222"/>
<circle cx="127.7" cy="294.6" r="1.15" fill="#222"/>
<circle cx="130.4" cy="294" r="1.15" fill="#222"/>
<circle cx="122.7" cy="296" r="1.15" fill="#222"/>
<circle cx="126.5" cy="297.9" r="1.15" fill="#222"/>
<circle cx="125.2" cy="299.8" r="1.15" fill="#222"/>
<circle cx="127.7" cy="300.4" r="1.15" fill="#222"/>
<circle cx="125.8" cy="301.7" r="1.15" fill="#222"/>
<circle cx="124.6" cy="303.1" r="1.15" fill="#222"/>
<line x1="121.3" y1="288.5" x2="131.5" y2="288.5" stroke="#1e1e1e" stroke-width="0.8"/>
<text x="118.5" y="248.67" font-size="6.6" text-anchor="middle" font-weight="bold" fill="#111" stroke="#111" stroke-width="0.16" textLength="2.55" lengthAdjust="spacingAndGlyphs">*</text>
<line x1="111.2" y1="249.8" x2="126.2" y2="249.8" stroke="#1e1e1e" stroke-width="1"/>
<text transform="translate(113.5 314.9) rotate(-45)" x="0" y="0" font-size="6" text-anchor="end" fill="#111" stroke="#111" stroke-width="0.16" textLength="34.98" lengthAdjust="spacingAndGlyphs">Complete BM</text>
<text transform="translate(128.8 314.9) rotate(-45)" x="0" y="0" font-size="6" text-anchor="end" fill="#111" stroke="#111" stroke-width="0.16" textLength="48.76" lengthAdjust="spacingAndGlyphs">Lipid-depleted BM</text>
<text transform="translate(166.74 236.1) scale(1 1)" x="0" y="0" font-size="10.6" font-weight="bold" fill="#000" stroke="#000" stroke-width="0.4">H</text>
<text transform="translate(172.69 276.6) rotate(-90)" x="0" y="0" font-size="7" text-anchor="middle" fill="#111" stroke="#111" stroke-width="0.2" textLength="21.6" lengthAdjust="spacingAndGlyphs">[TNF-α]</text>
<text transform="translate(182.09 276.2) rotate(-90)" x="0" y="0" font-size="7" text-anchor="middle" fill="#111" stroke="#111" stroke-width="0.2" textLength="62" lengthAdjust="spacingAndGlyphs">(relative to complete BM)</text>
<line x1="204.5" y1="248.6" x2="204.5" y2="305.68" stroke="#1e1e1e" stroke-width="1.35"/>
<line x1="202.2" y1="250.4" x2="204.5" y2="250.4" stroke="#1e1e1e" stroke-width="1"/>
<text x="198.5" y="252.49" font-size="5.8" text-anchor="end" fill="#111" stroke="#111" stroke-width="0.16">250</text>
<line x1="202.2" y1="264.05" x2="204.5" y2="264.05" stroke="#1e1e1e" stroke-width="1"/>
<text x="198.5" y="266.14" font-size="5.8" text-anchor="end" fill="#111" stroke="#111" stroke-width="0.16">200</text>
<line x1="202.2" y1="277.7" x2="204.5" y2="277.7" stroke="#1e1e1e" stroke-width="1"/>
<text x="198.5" y="279.79" font-size="5.8" text-anchor="end" fill="#111" stroke="#111" stroke-width="0.16">150</text>
<line x1="202.2" y1="291.35" x2="204.5" y2="291.35" stroke="#1e1e1e" stroke-width="1"/>
<text x="198.5" y="293.44" font-size="5.8" text-anchor="end" fill="#111" stroke="#111" stroke-width="0.16">100</text>
<line x1="202.2" y1="305" x2="204.5" y2="305" stroke="#1e1e1e" stroke-width="1"/>
<text x="198.5" y="307.09" font-size="5.8" text-anchor="end" fill="#111" stroke="#111" stroke-width="0.16">50</text>
<rect x="207.5" y="291.55" width="4" height="13.45" fill="#1b4a88" stroke="#102f5a" stroke-width="0.4"/>
<rect x="214.7" y="285.2" width="4" height="19.8" fill="#1b4a88" stroke="#102f5a" stroke-width="0.4"/>
<rect x="226.7" y="291.55" width="4" height="13.45" fill="#cc1030" stroke="#901028" stroke-width="0.4"/>
<rect x="234.2" y="284.8" width="4" height="20.2" fill="#cc1030" stroke="#901028" stroke-width="0.4"/>
<line x1="203.82" y1="305" x2="240.2" y2="305" stroke="#1e1e1e" stroke-width="1.35"/>
<line x1="209.5" y1="305" x2="209.5" y2="307.3" stroke="#1e1e1e" stroke-width="1"/>
<line x1="216.7" y1="305" x2="216.7" y2="307.3" stroke="#1e1e1e" stroke-width="1"/>
<line x1="228.7" y1="305" x2="228.7" y2="307.3" stroke="#1e1e1e" stroke-width="1"/>
<line x1="236.2" y1="305" x2="236.2" y2="307.3" stroke="#1e1e1e" stroke-width="1"/>
<circle cx="209.5" cy="291.35" r="1.25" fill="#fff" stroke="#2a2a2a" stroke-width="0.7"/>
<circle cx="228.7" cy="291.35" r="1.25" fill="#fff" stroke="#2a2a2a" stroke-width="0.7"/>
<circle cx="216.7" cy="268.8" r="1.25" fill="#fff" stroke="#333" stroke-width="0.7"/>
<circle cx="216.7" cy="273.5" r="1.25" fill="#fff" stroke="#333" stroke-width="0.7"/>
<circle cx="216.7" cy="286.5" r="1.25" fill="#fff" stroke="#2a2a2a" stroke-width="0.7"/>
<circle cx="216.7" cy="291.3" r="1.25" fill="#fff" stroke="#2a2a2a" stroke-width="0.7"/>
<circle cx="216.7" cy="296" r="0.8" fill="#fff"/>
<circle cx="216.7" cy="300" r="0.8" fill="#fff"/>
<circle cx="236.5" cy="260.6" r="1.25" fill="#999" stroke="#333" stroke-width="0.7"/>
<circle cx="236.5" cy="279.8" r="1.25" fill="#fff" stroke="#333" stroke-width="0.7"/>
<circle cx="236.2" cy="286.5" r="0.9" fill="#fff"/>
<circle cx="236.2" cy="291.3" r="0.9" fill="#fff"/>
<circle cx="236.2" cy="295" r="0.9" fill="#fff"/>
<text transform="translate(211.5 315.1) rotate(-45)" x="0" y="0" font-size="6" text-anchor="end" fill="#111" stroke="#111" stroke-width="0.16" textLength="34.98" lengthAdjust="spacingAndGlyphs">Complete BM</text>
<text transform="translate(230.7 315.1) rotate(-45)" x="0" y="0" font-size="6" text-anchor="end" fill="#111" stroke="#111" stroke-width="0.16" textLength="34.98" lengthAdjust="spacingAndGlyphs">Complete BM</text>
<text transform="translate(218.7 315.1) rotate(-45)" x="0" y="0" font-size="6" text-anchor="end" fill="#111" stroke="#111" stroke-width="0.16" textLength="48.76" lengthAdjust="spacingAndGlyphs">Lipid-depleted BM</text>
<text transform="translate(238.2 315.1) rotate(-45)" x="0" y="0" font-size="6" text-anchor="end" fill="#111" stroke="#111" stroke-width="0.16" textLength="48.76" lengthAdjust="spacingAndGlyphs">Lipid-depleted BM</text>
<line x1="260.5" y1="248.6" x2="260.5" y2="305.88" stroke="#1e1e1e" stroke-width="1.35"/>
<line x1="258.2" y1="250" x2="260.5" y2="250" stroke="#1e1e1e" stroke-width="1"/>
<text x="254.5" y="252.09" font-size="5.8" text-anchor="end" fill="#111" stroke="#111" stroke-width="0.16">250</text>
<line x1="258.2" y1="264.4" x2="260.5" y2="264.4" stroke="#1e1e1e" stroke-width="1"/>
<text x="254.5" y="266.49" font-size="5.8" text-anchor="end" fill="#111" stroke="#111" stroke-width="0.16">200</text>
<line x1="258.2" y1="277.9" x2="260.5" y2="277.9" stroke="#1e1e1e" stroke-width="1"/>
<text x="254.5" y="279.99" font-size="5.8" text-anchor="end" fill="#111" stroke="#111" stroke-width="0.16">150</text>
<line x1="258.2" y1="291.3" x2="260.5" y2="291.3" stroke="#1e1e1e" stroke-width="1"/>
<text x="254.5" y="293.39" font-size="5.8" text-anchor="end" fill="#111" stroke="#111" stroke-width="0.16">100</text>
<line x1="258.2" y1="305.4" x2="260.5" y2="305.4" stroke="#1e1e1e" stroke-width="1"/>
<text x="254.5" y="307.49" font-size="5.8" text-anchor="end" fill="#111" stroke="#111" stroke-width="0.16">50</text>
<line x1="259.82" y1="305.2" x2="296.2" y2="305.2" stroke="#1e1e1e" stroke-width="1.35"/>
<line x1="270.4" y1="305.2" x2="270.4" y2="307.5" stroke="#1e1e1e" stroke-width="1"/>
<line x1="285.7" y1="305.2" x2="285.7" y2="307.5" stroke="#1e1e1e" stroke-width="1"/>
<circle cx="266.5" cy="291.3" r="1.15" fill="#222"/>
<circle cx="268.7" cy="291.3" r="1.15" fill="#222"/>
<circle cx="270.9" cy="291.3" r="1.15" fill="#222"/>
<circle cx="273.1" cy="291.3" r="1.15" fill="#222"/>
<circle cx="275.3" cy="291.3" r="1.15" fill="#222"/>
<line x1="265.4" y1="291.3" x2="275.4" y2="291.3" stroke="#1e1e1e" stroke-width="0.8"/>
<circle cx="286" cy="260.6" r="1.15" fill="#222"/>
<circle cx="286" cy="269.2" r="1.15" fill="#222"/>
<circle cx="286" cy="274" r="1.15" fill="#222"/>
<circle cx="286" cy="279.8" r="1.15" fill="#222"/>
<circle cx="284" cy="286.2" r="1.15" fill="#222"/>
<circle cx="287.3" cy="286.2" r="1.15" fill="#222"/>
<circle cx="282.7" cy="291.3" r="1.15" fill="#222"/>
<circle cx="286" cy="291.3" r="1.15" fill="#222"/>
<circle cx="289.8" cy="291.3" r="1.15" fill="#222"/>
<circle cx="286" cy="294.2" r="1.15" fill="#222"/>
<circle cx="286" cy="297.1" r="1.15" fill="#222"/>
<line x1="280.8" y1="284.2" x2="291.2" y2="284.2" stroke="#1e1e1e" stroke-width="0.8"/>
<text x="276" y="249.47" font-size="6.6" text-anchor="middle" font-weight="bold" fill="#111" stroke="#111" stroke-width="0.16" textLength="2.55" lengthAdjust="spacingAndGlyphs">*</text>
<line x1="268.7" y1="250.4" x2="284" y2="250.4" stroke="#1e1e1e" stroke-width="1"/>
<text transform="translate(272.7 315.5) rotate(-45)" x="0" y="0" font-size="6" text-anchor="end" fill="#111" stroke="#111" stroke-width="0.16" textLength="34.98" lengthAdjust="spacingAndGlyphs">Complete BM</text>
<text transform="translate(288.3 315.5) rotate(-45)" x="0" y="0" font-size="6" text-anchor="end" fill="#111" stroke="#111" stroke-width="0.16" textLength="48.76" lengthAdjust="spacingAndGlyphs">Lipid-depleted BM</text>
<text transform="translate(315.64 234.5) scale(1 1)" x="0" y="0" font-size="10.6" font-weight="bold" fill="#000" stroke="#000" stroke-width="0.4">I</text>
<text x="350.15" y="243.5" font-size="8.6" text-anchor="middle" fill="#111" stroke="#111" stroke-width="0.16" textLength="37.3" lengthAdjust="spacingAndGlyphs">PB Plasma</text>
<text transform="translate(317.49 275.2) rotate(-90)" x="0" y="0" font-size="7" text-anchor="middle" fill="#111" stroke="#111" stroke-width="0.2" textLength="67.8" lengthAdjust="spacingAndGlyphs">[IFN-γ] (relative to control)</text>
<line x1="340" y1="248.6" x2="340" y2="304.88" stroke="#1e1e1e" stroke-width="1.35"/>
<line x1="337.7" y1="250.4" x2="340" y2="250.4" stroke="#1e1e1e" stroke-width="1"/>
<text x="334" y="252.49" font-size="5.8" text-anchor="end" fill="#111" stroke="#111" stroke-width="0.16">200</text>
<line x1="337.7" y1="262.5" x2="340" y2="262.5" stroke="#1e1e1e" stroke-width="1"/>
<text x="334" y="264.59" font-size="5.8" text-anchor="end" fill="#111" stroke="#111" stroke-width="0.16">160</text>
<line x1="337.7" y1="274.5" x2="340" y2="274.5" stroke="#1e1e1e" stroke-width="1"/>
<text x="334" y="276.59" font-size="5.8" text-anchor="end" fill="#111" stroke="#111" stroke-width="0.16">120</text>
<line x1="337.7" y1="286.5" x2="340" y2="286.5" stroke="#1e1e1e" stroke-width="1"/>
<text x="334" y="288.59" font-size="5.8" text-anchor="end" fill="#111" stroke="#111" stroke-width="0.16">80</text>
<line x1="337.7" y1="298.5" x2="340" y2="298.5" stroke="#1e1e1e" stroke-width="1"/>
<text x="334" y="300.59" font-size="5.8" text-anchor="end" fill="#111" stroke="#111" stroke-width="0.16">40</text>
<rect x="342.55" y="280.1" width="6.5" height="24.1" fill="#cc1030" stroke="#901028" stroke-width="0.4"/>
<rect x="352.4" y="280.7" width="5.8" height="23.5" fill="#cc1030" stroke="#901028" stroke-width="0.4"/>
<line x1="339.32" y1="304.2" x2="360.7" y2="304.2" stroke="#1e1e1e" stroke-width="1.35"/>
<line x1="345.8" y1="304.2" x2="345.8" y2="306.5" stroke="#1e1e1e" stroke-width="1"/>
<line x1="355.3" y1="304.2" x2="355.3" y2="306.5" stroke="#1e1e1e" stroke-width="1"/>
<circle cx="345" cy="280.2" r="1.25" fill="#fff" stroke="#333" stroke-width="0.7"/>
<circle cx="347.5" cy="280.2" r="1.25" fill="#fff" stroke="#333" stroke-width="0.7"/>
<circle cx="355" cy="268.8" r="1.25" fill="#999" stroke="#333" stroke-width="0.7"/>
<circle cx="354" cy="281.5" r="1.25" fill="#fff" stroke="#333" stroke-width="0.7"/>
<circle cx="356.5" cy="282.5" r="0.85" fill="#fff"/>
<circle cx="355.5" cy="285" r="0.85" fill="#fff"/>
<text x="346" y="316.34" font-size="5.4" text-anchor="middle" fill="#333" stroke="#333" stroke-width="0.16">–</text>
<text x="355.4" y="316.42" font-size="5.6" text-anchor="middle" fill="#333" stroke="#333" stroke-width="0.16">+</text>
<text x="310.8" y="316.56" font-size="6" text-anchor="start" fill="#111" stroke="#111" stroke-width="0.16" textLength="28.4" lengthAdjust="spacingAndGlyphs">Ferrostatin</text>
<text transform="translate(387.59 235.5) scale(1 1)" x="0" y="0" font-size="10.6" font-weight="bold" fill="#000" stroke="#000" stroke-width="0.4">J</text>
<text x="423.25" y="243.1" font-size="8.6" text-anchor="middle" fill="#111" stroke="#111" stroke-width="0.16" textLength="39.5" lengthAdjust="spacingAndGlyphs">BM Plasma</text>
<text transform="translate(389.79 276.35) rotate(-90)" x="0" y="0" font-size="7" text-anchor="middle" fill="#111" stroke="#111" stroke-width="0.2" textLength="65.5" lengthAdjust="spacingAndGlyphs">[IFN-γ] (relative to control)</text>
<line x1="413" y1="249.4" x2="413" y2="305.88" stroke="#1e1e1e" stroke-width="1.35"/>
<line x1="410.7" y1="251.2" x2="413" y2="251.2" stroke="#1e1e1e" stroke-width="1"/>
<text x="407" y="253.29" font-size="5.8" text-anchor="end" fill="#111" stroke="#111" stroke-width="0.16">200</text>
<line x1="410.7" y1="263.3" x2="413" y2="263.3" stroke="#1e1e1e" stroke-width="1"/>
<text x="407" y="265.39" font-size="5.8" text-anchor="end" fill="#111" stroke="#111" stroke-width="0.16">160</text>
<line x1="410.7" y1="275.3" x2="413" y2="275.3" stroke="#1e1e1e" stroke-width="1"/>
<text x="407" y="277.39" font-size="5.8" text-anchor="end" fill="#111" stroke="#111" stroke-width="0.16">120</text>
<line x1="410.7" y1="287.4" x2="413" y2="287.4" stroke="#1e1e1e" stroke-width="1"/>
<text x="407" y="289.49" font-size="5.8" text-anchor="end" fill="#111" stroke="#111" stroke-width="0.16">80</text>
<line x1="410.7" y1="299.5" x2="413" y2="299.5" stroke="#1e1e1e" stroke-width="1"/>
<text x="407" y="301.59" font-size="5.8" text-anchor="end" fill="#111" stroke="#111" stroke-width="0.16">40</text>
<rect x="416" y="280.8" width="5.8" height="24.4" fill="#cc1030" stroke="#901028" stroke-width="0.4"/>
<rect x="425.3" y="272.8" width="5.8" height="32.4" fill="#cc1030" stroke="#901028" stroke-width="0.4"/>
<line x1="412.32" y1="305.2" x2="433.9" y2="305.2" stroke="#1e1e1e" stroke-width="1.35"/>
<line x1="418.9" y1="305.2" x2="418.9" y2="307.5" stroke="#1e1e1e" stroke-width="1"/>
<line x1="428.2" y1="305.2" x2="428.2" y2="307.5" stroke="#1e1e1e" stroke-width="1"/>
<circle cx="417.5" cy="281" r="1.25" fill="#fff" stroke="#333" stroke-width="0.7"/>
<circle cx="420" cy="281" r="1.25" fill="#fff" stroke="#333" stroke-width="0.7"/>
<circle cx="428" cy="260.6" r="1.25" fill="#999" stroke="#333" stroke-width="0.7"/>
<circle cx="428" cy="265.4" r="1.25" fill="#999" stroke="#333" stroke-width="0.7"/>
<circle cx="428.5" cy="274.5" r="0.85" fill="#fff"/>
<circle cx="427" cy="276.5" r="0.85" fill="#fff"/>
<circle cx="429.5" cy="277" r="1.25" fill="#fff" stroke="#333" stroke-width="0.7"/>
<text x="423.8" y="250.77" font-size="6.6" text-anchor="middle" font-weight="bold" fill="#111" stroke="#111" stroke-width="0.16" textLength="2.55" lengthAdjust="spacingAndGlyphs">*</text>
<line x1="416.5" y1="251" x2="432" y2="251" stroke="#1e1e1e" stroke-width="1"/>
<text x="418.8" y="316.34" font-size="5.4" text-anchor="middle" fill="#333" stroke="#333" stroke-width="0.16">–</text>
<text x="428" y="316.42" font-size="5.6" text-anchor="middle" fill="#333" stroke="#333" stroke-width="0.16">+</text>
<text transform="translate(458.54 236.4) scale(1 1)" x="0" y="0" font-size="10.6" font-weight="bold" fill="#000" stroke="#000" stroke-width="0.4">K</text>
<text transform="translate(464.39 273.2) rotate(-90)" x="0" y="0" font-size="7" text-anchor="middle" fill="#111" stroke="#111" stroke-width="0.2" textLength="65" lengthAdjust="spacingAndGlyphs">[IFN-γ] (relative to control)</text>
<line x1="486.5" y1="248.3" x2="486.5" y2="305.68" stroke="#1e1e1e" stroke-width="1.35"/>
<line x1="484.2" y1="250.4" x2="486.5" y2="250.4" stroke="#1e1e1e" stroke-width="1"/>
<text x="480.5" y="252.49" font-size="5.8" text-anchor="end" fill="#111" stroke="#111" stroke-width="0.16">200</text>
<line x1="484.2" y1="262.4" x2="486.5" y2="262.4" stroke="#1e1e1e" stroke-width="1"/>
<text x="480.5" y="264.49" font-size="5.8" text-anchor="end" fill="#111" stroke="#111" stroke-width="0.16">160</text>
<line x1="484.2" y1="274.5" x2="486.5" y2="274.5" stroke="#1e1e1e" stroke-width="1"/>
<text x="480.5" y="276.59" font-size="5.8" text-anchor="end" fill="#111" stroke="#111" stroke-width="0.16">120</text>
<line x1="484.2" y1="286.8" x2="486.5" y2="286.8" stroke="#1e1e1e" stroke-width="1"/>
<text x="480.5" y="288.89" font-size="5.8" text-anchor="end" fill="#111" stroke="#111" stroke-width="0.16">80</text>
<line x1="484.2" y1="298.8" x2="486.5" y2="298.8" stroke="#1e1e1e" stroke-width="1"/>
<text x="480.5" y="300.89" font-size="5.8" text-anchor="end" fill="#111" stroke="#111" stroke-width="0.16">40</text>
<line x1="485.82" y1="305" x2="512.8" y2="305" stroke="#1e1e1e" stroke-width="1.35"/>
<line x1="493.8" y1="305" x2="493.8" y2="307.3" stroke="#1e1e1e" stroke-width="1"/>
<line x1="506" y1="305" x2="506" y2="307.3" stroke="#1e1e1e" stroke-width="1"/>
<line x1="493.8" y1="268.4" x2="506" y2="276.3" stroke="#222" stroke-width="1"/>
<circle cx="493.8" cy="268.4" r="1.45" fill="#1a1a1a"/>
<circle cx="506" cy="276.3" r="1.45" fill="#1a1a1a"/>
<line x1="493.8" y1="281.5" x2="506" y2="259.8" stroke="#222" stroke-width="1"/>
<circle cx="493.8" cy="281.5" r="1.45" fill="#1a1a1a"/>
<circle cx="506" cy="259.8" r="1.45" fill="#1a1a1a"/>
<line x1="493.8" y1="282.6" x2="506" y2="264.7" stroke="#222" stroke-width="1"/>
<circle cx="493.8" cy="282.6" r="1.45" fill="#1a1a1a"/>
<circle cx="506" cy="264.7" r="1.45" fill="#1a1a1a"/>
<line x1="493.8" y1="283.1" x2="506" y2="276.3" stroke="#222" stroke-width="1"/>
<circle cx="493.8" cy="283.1" r="1.45" fill="#1a1a1a"/>
<circle cx="506" cy="276.3" r="1.45" fill="#1a1a1a"/>
<line x1="493.8" y1="284.2" x2="506" y2="277" stroke="#222" stroke-width="1"/>
<circle cx="493.8" cy="284.2" r="1.45" fill="#1a1a1a"/>
<circle cx="506" cy="277" r="1.45" fill="#1a1a1a"/>
<text x="499" y="250.47" font-size="6.6" text-anchor="middle" font-weight="bold" fill="#111" stroke="#111" stroke-width="0.16" textLength="2.55" lengthAdjust="spacingAndGlyphs">*</text>
<line x1="491.3" y1="251.2" x2="507" y2="251.2" stroke="#1e1e1e" stroke-width="1"/>
<text x="494.5" y="316.23" font-size="6.2" text-anchor="middle" fill="#111" stroke="#111" stroke-width="0.16" textLength="7.4" lengthAdjust="spacingAndGlyphs">PB</text>
<text x="505.4" y="316.23" font-size="6.2" text-anchor="middle" fill="#111" stroke="#111" stroke-width="0.16" textLength="9.2" lengthAdjust="spacingAndGlyphs">BM</text>
<circle cx="159.4" cy="355.2" r="1.15" fill="#1a2f5a"/>
<rect x="163.5" y="353.5" width="6.6" height="3.4" fill="#1f4f8f"/>
<text x="172.9" y="357.22" font-size="5.6" text-anchor="start" fill="#111" stroke="#111" stroke-width="0.16" textLength="17" lengthAdjust="spacingAndGlyphs">Control</text>
<circle cx="201.2" cy="355.2" r="1.15" fill="#d88a80"/>
<rect x="205.3" y="353.5" width="6.6" height="3.4" fill="#eba39a"/>
<text x="214.2" y="357.22" font-size="5.6" text-anchor="start" fill="#111" stroke="#111" stroke-width="0.16" textLength="43.6" lengthAdjust="spacingAndGlyphs">Asymptomatic MM</text>
<circle cx="268.1" cy="355.2" r="1.15" fill="#b04050"/>
<rect x="272.1" y="353.5" width="6.6" height="3.4" fill="#e0606a"/>
<text x="281" y="357.22" font-size="5.6" text-anchor="start" fill="#111" stroke="#111" stroke-width="0.16" textLength="17.3" lengthAdjust="spacingAndGlyphs">MGUS</text>
<circle cx="308.5" cy="355.2" r="1.15" fill="#a01028"/>
<rect x="312" y="353.5" width="6.6" height="3.4" fill="#c8102e"/>
<text x="321.5" y="357.22" font-size="5.6" text-anchor="start" fill="#111" stroke="#111" stroke-width="0.16" textLength="40.4" lengthAdjust="spacingAndGlyphs">MM at Diagnosis</text>
<text transform="translate(12.54 373.2) scale(1 1)" x="0" y="0" font-size="10.6" font-weight="bold" fill="#000" stroke="#000" stroke-width="0.4">L</text>
<text transform="translate(16.81 412.7) rotate(-90)" x="0" y="0" font-size="7" text-anchor="middle" fill="#111" stroke="#111" stroke-width="0.2" textLength="55" lengthAdjust="spacingAndGlyphs">%ICOS<tspan font-size="75%" dy="-1.6">+</tspan><tspan dy="1.6"> CD8</tspan><tspan font-size="75%" dy="-1.6">+</tspan><tspan dy="1.6"> T cells</tspan></text>
<line x1="35.5" y1="384.3" x2="35.5" y2="443.18" stroke="#1e1e1e" stroke-width="1.35"/>
<line x1="33.2" y1="386.8" x2="35.5" y2="386.8" stroke="#1e1e1e" stroke-width="1"/>
<text x="29.5" y="388.89" font-size="5.8" text-anchor="end" fill="#111" stroke="#111" stroke-width="0.16">100</text>
<line x1="33.2" y1="397.94" x2="35.5" y2="397.94" stroke="#1e1e1e" stroke-width="1"/>
<text x="29.5" y="400.03" font-size="5.8" text-anchor="end" fill="#111" stroke="#111" stroke-width="0.16">80</text>
<line x1="33.2" y1="409.08" x2="35.5" y2="409.08" stroke="#1e1e1e" stroke-width="1"/>
<text x="29.5" y="411.17" font-size="5.8" text-anchor="end" fill="#111" stroke="#111" stroke-width="0.16">60</text>
<line x1="33.2" y1="420.22" x2="35.5" y2="420.22" stroke="#1e1e1e" stroke-width="1"/>
<text x="29.5" y="422.31" font-size="5.8" text-anchor="end" fill="#111" stroke="#111" stroke-width="0.16">40</text>
<line x1="33.2" y1="431.36" x2="35.5" y2="431.36" stroke="#1e1e1e" stroke-width="1"/>
<text x="29.5" y="433.45" font-size="5.8" text-anchor="end" fill="#111" stroke="#111" stroke-width="0.16">20</text>
<line x1="33.2" y1="442.5" x2="35.5" y2="442.5" stroke="#1e1e1e" stroke-width="1"/>
<text x="29.5" y="444.59" font-size="5.8" text-anchor="end" fill="#111" stroke="#111" stroke-width="0.16">0</text>
<line x1="34.83" y1="442.5" x2="70.6" y2="442.5" stroke="#1e1e1e" stroke-width="1.35"/>
<line x1="41.1" y1="442.5" x2="41.1" y2="444.8" stroke="#1e1e1e" stroke-width="1"/>
<line x1="50" y1="442.5" x2="50" y2="444.8" stroke="#1e1e1e" stroke-width="1"/>
<line x1="59" y1="442.5" x2="59" y2="444.8" stroke="#1e1e1e" stroke-width="1"/>
<line x1="67.7" y1="442.5" x2="67.7" y2="444.8" stroke="#1e1e1e" stroke-width="1"/>
<circle cx="42.3" cy="406" r="1.35" fill="#141e3a"/>
<circle cx="40.4" cy="407.9" r="1.35" fill="#141e3a"/>
<circle cx="41.3" cy="414.6" r="1.35" fill="#141e3a"/>
<circle cx="39.4" cy="416.2" r="1.35" fill="#141e3a"/>
<circle cx="41.9" cy="428.1" r="1.35" fill="#141e3a"/>
<circle cx="39.4" cy="431.5" r="1.35" fill="#141e3a"/>
<circle cx="42.3" cy="431.9" r="1.35" fill="#141e3a"/>
<circle cx="41.3" cy="435.8" r="1.35" fill="#141e3a"/>
<line x1="37.5" y1="421.3" x2="44.1" y2="421.3" stroke="#222" stroke-width="0.9"/>
<circle cx="49.6" cy="402.1" r="1.15" fill="#b8a0a0" stroke="#4a3434" stroke-width="0.6"/>
<circle cx="51" cy="404" r="1.15" fill="#b8a0a0" stroke="#4a3434" stroke-width="0.6"/>
<circle cx="49" cy="416.5" r="1.15" fill="#b8a0a0" stroke="#4a3434" stroke-width="0.6"/>
<circle cx="51" cy="417.5" r="1.15" fill="#b8a0a0" stroke="#4a3434" stroke-width="0.6"/>
<circle cx="49.6" cy="423.3" r="1.15" fill="#b8a0a0" stroke="#4a3434" stroke-width="0.6"/>
<circle cx="51.9" cy="424.2" r="1.15" fill="#b8a0a0" stroke="#4a3434" stroke-width="0.6"/>
<circle cx="50.4" cy="431" r="1.15" fill="#b8a0a0" stroke="#4a3434" stroke-width="0.6"/>
<line x1="46.7" y1="416.2" x2="53.3" y2="416.2" stroke="#222" stroke-width="0.9"/>
<circle cx="58.7" cy="395" r="1.35" fill="#3a1c20"/>
<circle cx="58.7" cy="404" r="1.35" fill="#3a1c20"/>
<circle cx="55.8" cy="411.7" r="1.35" fill="#3a1c20"/>
<circle cx="59.6" cy="412.7" r="1.35" fill="#3a1c20"/>
<circle cx="58.7" cy="418.5" r="1.35" fill="#3a1c20"/>
<circle cx="57.7" cy="421.3" r="1.35" fill="#3a1c20"/>
<circle cx="59.6" cy="425.2" r="1.35" fill="#3a1c20"/>
<circle cx="58.7" cy="433.8" r="1.35" fill="#3a1c20"/>
<line x1="55.4" y1="415" x2="62" y2="415" stroke="#222" stroke-width="0.9"/>
<circle cx="67.3" cy="395.8" r="1.35" fill="#401820"/>
<circle cx="67.3" cy="400.2" r="1.35" fill="#401820"/>
<circle cx="65.4" cy="407.9" r="1.35" fill="#401820"/>
<circle cx="69.2" cy="410.8" r="1.35" fill="#401820"/>
<circle cx="67.3" cy="420.4" r="1.35" fill="#401820"/>
<circle cx="67.3" cy="433.5" r="1.35" fill="#401820"/>
<line x1="64" y1="410.8" x2="70.6" y2="410.8" stroke="#222" stroke-width="0.9"/>
<text transform="translate(91.74 371.2) scale(1 1)" x="0" y="0" font-size="10.6" font-weight="bold" fill="#000" stroke="#000" stroke-width="0.4">M</text>
<text transform="translate(97.31 413.7) rotate(-90)" x="0" y="0" font-size="7" text-anchor="middle" fill="#111" stroke="#111" stroke-width="0.2" textLength="63.4" lengthAdjust="spacingAndGlyphs">%Cytokine<tspan font-size="75%" dy="-1.6">+</tspan><tspan dy="1.6"> CD8</tspan><tspan font-size="75%" dy="-1.6">+</tspan><tspan dy="1.6"> T cells</tspan></text>
<text x="135.95" y="379.52" font-size="8.4" text-anchor="middle" fill="#111" stroke="#111" stroke-width="0.16" textLength="18.1" lengthAdjust="spacingAndGlyphs">IFN-γ</text>
<line x1="114.5" y1="384.5" x2="114.5" y2="443.18" stroke="#1e1e1e" stroke-width="1.35"/>
<line x1="112.2" y1="387.3" x2="114.5" y2="387.3" stroke="#1e1e1e" stroke-width="1"/>
<text x="108.5" y="389.39" font-size="5.8" text-anchor="end" fill="#111" stroke="#111" stroke-width="0.16">50</text>
<line x1="112.2" y1="398.3" x2="114.5" y2="398.3" stroke="#1e1e1e" stroke-width="1"/>
<text x="108.5" y="400.39" font-size="5.8" text-anchor="end" fill="#111" stroke="#111" stroke-width="0.16">40</text>
<line x1="112.2" y1="409.4" x2="114.5" y2="409.4" stroke="#1e1e1e" stroke-width="1"/>
<text x="108.5" y="411.49" font-size="5.8" text-anchor="end" fill="#111" stroke="#111" stroke-width="0.16">30</text>
<line x1="112.2" y1="420.4" x2="114.5" y2="420.4" stroke="#1e1e1e" stroke-width="1"/>
<text x="108.5" y="422.49" font-size="5.8" text-anchor="end" fill="#111" stroke="#111" stroke-width="0.16">20</text>
<line x1="112.2" y1="431.5" x2="114.5" y2="431.5" stroke="#1e1e1e" stroke-width="1"/>
<text x="108.5" y="433.59" font-size="5.8" text-anchor="end" fill="#111" stroke="#111" stroke-width="0.16">10</text>
<line x1="112.2" y1="442.5" x2="114.5" y2="442.5" stroke="#1e1e1e" stroke-width="1"/>
<text x="108.5" y="444.59" font-size="5.8" text-anchor="end" fill="#111" stroke="#111" stroke-width="0.16">0</text>
<line x1="117.6" y1="427.2" x2="117.6" y2="432" stroke="#1f4f8f" stroke-width="0.9"/>
<line x1="116.7" y1="427.2" x2="118.5" y2="427.2" stroke="#333" stroke-width="0.7"/>
<rect x="116.5" y="432" width="2.2" height="10.6" fill="#1f4f8f"/>
<line x1="121.55" y1="401.9" x2="121.55" y2="410.9" stroke="#1f4f8f" stroke-width="0.9"/>
<line x1="120.65" y1="401.9" x2="122.45" y2="401.9" stroke="#333" stroke-width="0.7"/>
<rect x="120.4" y="410.9" width="2.3" height="31.7" fill="#1f4f8f"/>
<line x1="128.15" y1="434.9" x2="128.15" y2="437.3" stroke="#eda090" stroke-width="0.9"/>
<line x1="127.25" y1="434.9" x2="129.05" y2="434.9" stroke="#333" stroke-width="0.7"/>
<rect x="127.3" y="437.3" width="1.7" height="5.3" fill="#eda090"/>
<line x1="132.1" y1="422.2" x2="132.1" y2="423.8" stroke="#eda090" stroke-width="0.9"/>
<line x1="131.2" y1="422.2" x2="133" y2="422.2" stroke="#333" stroke-width="0.7"/>
<rect x="131.2" y="423.8" width="1.8" height="18.8" fill="#eda090"/>
<line x1="138.75" y1="431.3" x2="138.75" y2="435.9" stroke="#e06868" stroke-width="0.9"/>
<line x1="137.85" y1="431.3" x2="139.65" y2="431.3" stroke="#333" stroke-width="0.7"/>
<rect x="137.9" y="435.9" width="1.7" height="6.7" fill="#e06868"/>
<line x1="142.75" y1="415.2" x2="142.75" y2="423.8" stroke="#e06868" stroke-width="0.9"/>
<line x1="141.85" y1="415.2" x2="143.65" y2="415.2" stroke="#333" stroke-width="0.7"/>
<rect x="141.7" y="423.8" width="2.1" height="18.8" fill="#e06868"/>
<line x1="149.35" y1="434" x2="149.35" y2="435.9" stroke="#c8102e" stroke-width="0.9"/>
<line x1="148.45" y1="434" x2="150.25" y2="434" stroke="#333" stroke-width="0.7"/>
<rect x="148.3" y="435.9" width="2.1" height="6.7" fill="#c8102e"/>
<line x1="153.9" y1="422.4" x2="153.9" y2="423.8" stroke="#c8102e" stroke-width="0.9"/>
<line x1="153" y1="422.4" x2="154.8" y2="422.4" stroke="#333" stroke-width="0.7"/>
<rect x="152.8" y="423.8" width="2.2" height="18.8" fill="#c8102e"/>
<line x1="113.83" y1="442.5" x2="157.7" y2="442.5" stroke="#1e1e1e" stroke-width="1.35"/>
<line x1="117.6" y1="442.5" x2="117.6" y2="444.8" stroke="#1e1e1e" stroke-width="1"/>
<line x1="121.55" y1="442.5" x2="121.55" y2="444.8" stroke="#1e1e1e" stroke-width="1"/>
<line x1="128.15" y1="442.5" x2="128.15" y2="444.8" stroke="#1e1e1e" stroke-width="1"/>
<line x1="132.1" y1="442.5" x2="132.1" y2="444.8" stroke="#1e1e1e" stroke-width="1"/>
<line x1="138.75" y1="442.5" x2="138.75" y2="444.8" stroke="#1e1e1e" stroke-width="1"/>
<line x1="142.75" y1="442.5" x2="142.75" y2="444.8" stroke="#1e1e1e" stroke-width="1"/>
<line x1="149.35" y1="442.5" x2="149.35" y2="444.8" stroke="#1e1e1e" stroke-width="1"/>
<line x1="153.9" y1="442.5" x2="153.9" y2="444.8" stroke="#1e1e1e" stroke-width="1"/>
<text x="117.6" y="453.98" font-size="5.5" text-anchor="middle" fill="#555" stroke="#555" stroke-width="0.16">-</text>
<text x="121.55" y="453.98" font-size="5.5" text-anchor="middle" fill="#555" stroke="#555" stroke-width="0.16">+</text>
<text x="128.15" y="453.98" font-size="5.5" text-anchor="middle" fill="#555" stroke="#555" stroke-width="0.16">-</text>
<text x="132.1" y="453.98" font-size="5.5" text-anchor="middle" fill="#555" stroke="#555" stroke-width="0.16">+</text>
<text x="138.75" y="453.98" font-size="5.5" text-anchor="middle" fill="#555" stroke="#555" stroke-width="0.16">-</text>
<text x="142.75" y="453.98" font-size="5.5" text-anchor="middle" fill="#555" stroke="#555" stroke-width="0.16">+</text>
<text x="149.35" y="453.98" font-size="5.5" text-anchor="middle" fill="#555" stroke="#555" stroke-width="0.16">-</text>
<text x="153.9" y="453.98" font-size="5.5" text-anchor="middle" fill="#555" stroke="#555" stroke-width="0.16">+</text>
<text x="206.65" y="379.32" font-size="8.4" text-anchor="middle" fill="#111" stroke="#111" stroke-width="0.16" textLength="22.1" lengthAdjust="spacingAndGlyphs">TNF-α</text>
<line x1="185.5" y1="384.5" x2="185.5" y2="443.18" stroke="#1e1e1e" stroke-width="1.35"/>
<line x1="183.2" y1="385.4" x2="185.5" y2="385.4" stroke="#1e1e1e" stroke-width="1"/>
<text x="179.5" y="387.49" font-size="5.8" text-anchor="end" fill="#111" stroke="#111" stroke-width="0.16">60</text>
<line x1="183.2" y1="404.6" x2="185.5" y2="404.6" stroke="#1e1e1e" stroke-width="1"/>
<text x="179.5" y="406.69" font-size="5.8" text-anchor="end" fill="#111" stroke="#111" stroke-width="0.16">40</text>
<line x1="183.2" y1="423.8" x2="185.5" y2="423.8" stroke="#1e1e1e" stroke-width="1"/>
<text x="179.5" y="425.89" font-size="5.8" text-anchor="end" fill="#111" stroke="#111" stroke-width="0.16">20</text>
<line x1="183.2" y1="442.7" x2="185.5" y2="442.7" stroke="#1e1e1e" stroke-width="1"/>
<text x="179.5" y="444.79" font-size="5.8" text-anchor="end" fill="#111" stroke="#111" stroke-width="0.16">0</text>
<line x1="187.85" y1="418.7" x2="187.85" y2="423.1" stroke="#1f4f8f" stroke-width="0.9"/>
<line x1="186.95" y1="418.7" x2="188.75" y2="418.7" stroke="#333" stroke-width="0.7"/>
<rect x="186.9" y="423.1" width="1.9" height="19.5" fill="#1f4f8f"/>
<line x1="191.9" y1="393" x2="191.9" y2="399.4" stroke="#1f4f8f" stroke-width="0.9"/>
<line x1="191" y1="393" x2="192.8" y2="393" stroke="#333" stroke-width="0.7"/>
<rect x="190.8" y="399.4" width="2.2" height="43.2" fill="#1f4f8f"/>
<line x1="198.65" y1="421.2" x2="198.65" y2="421.9" stroke="#eda090" stroke-width="0.9"/>
<line x1="197.75" y1="421.2" x2="199.55" y2="421.2" stroke="#333" stroke-width="0.7"/>
<rect x="197.5" y="421.9" width="2.3" height="20.7" fill="#eda090"/>
<line x1="202.75" y1="393" x2="202.75" y2="400.4" stroke="#eda090" stroke-width="0.9"/>
<line x1="201.85" y1="393" x2="203.65" y2="393" stroke="#333" stroke-width="0.7"/>
<rect x="201.7" y="400.4" width="2.1" height="42.2" fill="#eda090"/>
<line x1="209.2" y1="418.7" x2="209.2" y2="422" stroke="#e06868" stroke-width="0.9"/>
<line x1="208.3" y1="418.7" x2="210.1" y2="418.7" stroke="#333" stroke-width="0.7"/>
<rect x="208" y="422" width="2.4" height="20.6" fill="#e06868"/>
<line x1="213.55" y1="396.5" x2="213.55" y2="401.3" stroke="#e06868" stroke-width="0.9"/>
<line x1="212.65" y1="396.5" x2="214.45" y2="396.5" stroke="#333" stroke-width="0.7"/>
<rect x="212.3" y="401.3" width="2.5" height="41.3" fill="#e06868"/>
<line x1="220.2" y1="418.7" x2="220.2" y2="421.5" stroke="#c8102e" stroke-width="0.9"/>
<line x1="219.3" y1="418.7" x2="221.1" y2="418.7" stroke="#333" stroke-width="0.7"/>
<rect x="219.2" y="421.5" width="2" height="21.1" fill="#c8102e"/>
<line x1="224.2" y1="394.6" x2="224.2" y2="398.5" stroke="#c8102e" stroke-width="0.9"/>
<line x1="223.3" y1="394.6" x2="225.1" y2="394.6" stroke="#333" stroke-width="0.7"/>
<rect x="223" y="398.5" width="2.4" height="44.1" fill="#c8102e"/>
<line x1="184.82" y1="442.5" x2="227.7" y2="442.5" stroke="#1e1e1e" stroke-width="1.35"/>
<line x1="187.85" y1="442.5" x2="187.85" y2="444.8" stroke="#1e1e1e" stroke-width="1"/>
<line x1="191.9" y1="442.5" x2="191.9" y2="444.8" stroke="#1e1e1e" stroke-width="1"/>
<line x1="198.65" y1="442.5" x2="198.65" y2="444.8" stroke="#1e1e1e" stroke-width="1"/>
<line x1="202.75" y1="442.5" x2="202.75" y2="444.8" stroke="#1e1e1e" stroke-width="1"/>
<line x1="209.2" y1="442.5" x2="209.2" y2="444.8" stroke="#1e1e1e" stroke-width="1"/>
<line x1="213.55" y1="442.5" x2="213.55" y2="444.8" stroke="#1e1e1e" stroke-width="1"/>
<line x1="220.2" y1="442.5" x2="220.2" y2="444.8" stroke="#1e1e1e" stroke-width="1"/>
<line x1="224.2" y1="442.5" x2="224.2" y2="444.8" stroke="#1e1e1e" stroke-width="1"/>
<text x="187.85" y="453.98" font-size="5.5" text-anchor="middle" fill="#555" stroke="#555" stroke-width="0.16">-</text>
<text x="191.9" y="453.98" font-size="5.5" text-anchor="middle" fill="#555" stroke="#555" stroke-width="0.16">+</text>
<text x="198.65" y="453.98" font-size="5.5" text-anchor="middle" fill="#555" stroke="#555" stroke-width="0.16">-</text>
<text x="202.75" y="453.98" font-size="5.5" text-anchor="middle" fill="#555" stroke="#555" stroke-width="0.16">+</text>
<text x="209.2" y="453.98" font-size="5.5" text-anchor="middle" fill="#555" stroke="#555" stroke-width="0.16">-</text>
<text x="213.55" y="453.98" font-size="5.5" text-anchor="middle" fill="#555" stroke="#555" stroke-width="0.16">+</text>
<text x="220.2" y="453.98" font-size="5.5" text-anchor="middle" fill="#555" stroke="#555" stroke-width="0.16">-</text>
<text x="224.2" y="453.98" font-size="5.5" text-anchor="middle" fill="#555" stroke="#555" stroke-width="0.16">+</text>
<text x="276.85" y="380.02" font-size="8.4" text-anchor="middle" fill="#111" stroke="#111" stroke-width="0.16" textLength="12.1" lengthAdjust="spacingAndGlyphs">IL-2</text>
<line x1="256" y1="384.5" x2="256" y2="443.18" stroke="#1e1e1e" stroke-width="1.35"/>
<line x1="253.7" y1="385.4" x2="256" y2="385.4" stroke="#1e1e1e" stroke-width="1"/>
<text x="250" y="387.49" font-size="5.8" text-anchor="end" fill="#111" stroke="#111" stroke-width="0.16">10</text>
<line x1="253.7" y1="397" x2="256" y2="397" stroke="#1e1e1e" stroke-width="1"/>
<text x="250" y="399.09" font-size="5.8" text-anchor="end" fill="#111" stroke="#111" stroke-width="0.16">8</text>
<line x1="253.7" y1="408.5" x2="256" y2="408.5" stroke="#1e1e1e" stroke-width="1"/>
<text x="250" y="410.59" font-size="5.8" text-anchor="end" fill="#111" stroke="#111" stroke-width="0.16">6</text>
<line x1="253.7" y1="420" x2="256" y2="420" stroke="#1e1e1e" stroke-width="1"/>
<text x="250" y="422.09" font-size="5.8" text-anchor="end" fill="#111" stroke="#111" stroke-width="0.16">4</text>
<line x1="253.7" y1="431.5" x2="256" y2="431.5" stroke="#1e1e1e" stroke-width="1"/>
<text x="250" y="433.59" font-size="5.8" text-anchor="end" fill="#111" stroke="#111" stroke-width="0.16">2</text>
<line x1="253.7" y1="442.7" x2="256" y2="442.7" stroke="#1e1e1e" stroke-width="1"/>
<text x="250" y="444.79" font-size="5.8" text-anchor="end" fill="#111" stroke="#111" stroke-width="0.16">0</text>
<line x1="258.25" y1="435.4" x2="258.25" y2="436.9" stroke="#1f4f8f" stroke-width="0.9"/>
<line x1="257.35" y1="435.4" x2="259.15" y2="435.4" stroke="#333" stroke-width="0.7"/>
<rect x="257.3" y="436.9" width="1.9" height="5.7" fill="#1f4f8f"/>
<line x1="262.45" y1="394.2" x2="262.45" y2="411" stroke="#1f4f8f" stroke-width="0.9"/>
<line x1="261.55" y1="394.2" x2="263.35" y2="394.2" stroke="#333" stroke-width="0.7"/>
<rect x="261.2" y="411" width="2.5" height="31.6" fill="#1f4f8f"/>
<line x1="269" y1="432.2" x2="269" y2="432.7" stroke="#eda090" stroke-width="0.9"/>
<line x1="268.1" y1="432.2" x2="269.9" y2="432.2" stroke="#333" stroke-width="0.7"/>
<rect x="268" y="432.7" width="2" height="9.9" fill="#eda090"/>
<line x1="272.85" y1="426.3" x2="272.85" y2="429" stroke="#eda090" stroke-width="0.9"/>
<line x1="271.95" y1="426.3" x2="273.75" y2="426.3" stroke="#333" stroke-width="0.7"/>
<rect x="271.9" y="429" width="1.9" height="13.6" fill="#eda090"/>
<line x1="280" y1="432.2" x2="280" y2="432.7" stroke="#e06868" stroke-width="0.9"/>
<line x1="279.1" y1="432.2" x2="280.9" y2="432.2" stroke="#333" stroke-width="0.7"/>
<rect x="279" y="432.7" width="2" height="9.9" fill="#e06868"/>
<line x1="283.85" y1="420" x2="283.85" y2="425.4" stroke="#e06868" stroke-width="0.9"/>
<line x1="282.95" y1="420" x2="284.75" y2="420" stroke="#333" stroke-width="0.7"/>
<rect x="282.9" y="425.4" width="1.9" height="17.2" fill="#e06868"/>
<line x1="290.95" y1="432.7" x2="290.95" y2="434" stroke="#c8102e" stroke-width="0.9"/>
<line x1="290.05" y1="432.7" x2="291.85" y2="432.7" stroke="#333" stroke-width="0.7"/>
<rect x="290" y="434" width="1.9" height="8.6" fill="#c8102e"/>
<line x1="294.8" y1="428.8" x2="294.8" y2="434" stroke="#c8102e" stroke-width="0.9"/>
<line x1="293.9" y1="428.8" x2="295.7" y2="428.8" stroke="#333" stroke-width="0.7"/>
<rect x="293.8" y="434" width="2" height="8.6" fill="#c8102e"/>
<line x1="255.32" y1="442.5" x2="298.3" y2="442.5" stroke="#1e1e1e" stroke-width="1.35"/>
<line x1="258.25" y1="442.5" x2="258.25" y2="444.8" stroke="#1e1e1e" stroke-width="1"/>
<line x1="262.45" y1="442.5" x2="262.45" y2="444.8" stroke="#1e1e1e" stroke-width="1"/>
<line x1="269" y1="442.5" x2="269" y2="444.8" stroke="#1e1e1e" stroke-width="1"/>
<line x1="272.85" y1="442.5" x2="272.85" y2="444.8" stroke="#1e1e1e" stroke-width="1"/>
<line x1="280" y1="442.5" x2="280" y2="444.8" stroke="#1e1e1e" stroke-width="1"/>
<line x1="283.85" y1="442.5" x2="283.85" y2="444.8" stroke="#1e1e1e" stroke-width="1"/>
<line x1="290.95" y1="442.5" x2="290.95" y2="444.8" stroke="#1e1e1e" stroke-width="1"/>
<line x1="294.8" y1="442.5" x2="294.8" y2="444.8" stroke="#1e1e1e" stroke-width="1"/>
<text x="258.25" y="453.98" font-size="5.5" text-anchor="middle" fill="#555" stroke="#555" stroke-width="0.16">-</text>
<text x="262.45" y="453.98" font-size="5.5" text-anchor="middle" fill="#555" stroke="#555" stroke-width="0.16">+</text>
<text x="269" y="453.98" font-size="5.5" text-anchor="middle" fill="#555" stroke="#555" stroke-width="0.16">-</text>
<text x="272.85" y="453.98" font-size="5.5" text-anchor="middle" fill="#555" stroke="#555" stroke-width="0.16">+</text>
<text x="280" y="453.98" font-size="5.5" text-anchor="middle" fill="#555" stroke="#555" stroke-width="0.16">-</text>
<text x="283.85" y="453.98" font-size="5.5" text-anchor="middle" fill="#555" stroke="#555" stroke-width="0.16">+</text>
<text x="290.95" y="453.98" font-size="5.5" text-anchor="middle" fill="#555" stroke="#555" stroke-width="0.16">-</text>
<text x="294.8" y="453.98" font-size="5.5" text-anchor="middle" fill="#555" stroke="#555" stroke-width="0.16">+</text>
<text x="93" y="454.26" font-size="6" text-anchor="start" fill="#111" stroke="#111" stroke-width="0.16" textLength="16.6" lengthAdjust="spacingAndGlyphs">CD38</text>
<text transform="translate(319.64 370.7) scale(1 1)" x="0" y="0" font-size="10.6" font-weight="bold" fill="#000" stroke="#000" stroke-width="0.4">N</text>
<text x="366.25" y="381.1" font-size="8.6" text-anchor="middle" fill="#111" stroke="#111" stroke-width="0.16" textLength="39.5" lengthAdjust="spacingAndGlyphs">BM Plasma</text>
<text transform="translate(324.01 413.7) rotate(-90)" x="0" y="0" font-size="7" text-anchor="middle" fill="#111" stroke="#111" stroke-width="0.2" textLength="58.7" lengthAdjust="spacingAndGlyphs">IFN-γ<tspan font-size="75%" dy="-1.6">+</tspan><tspan dy="1.6"> of CD8</tspan><tspan font-size="75%" dy="-1.6">+</tspan><tspan dy="1.6"> T cells</tspan></text>
<text transform="translate(333.49 414) rotate(-90)" x="0" y="0" font-size="7" text-anchor="middle" fill="#111" stroke="#111" stroke-width="0.2" textLength="48.5" lengthAdjust="spacingAndGlyphs">(relative to control)</text>
<line x1="355.5" y1="385.3" x2="355.5" y2="442.68" stroke="#1e1e1e" stroke-width="1.35"/>
<line x1="353.2" y1="388.2" x2="355.5" y2="388.2" stroke="#1e1e1e" stroke-width="1"/>
<text x="349.5" y="390.29" font-size="5.8" text-anchor="end" fill="#111" stroke="#111" stroke-width="0.16">200</text>
<line x1="353.2" y1="400.4" x2="355.5" y2="400.4" stroke="#1e1e1e" stroke-width="1"/>
<text x="349.5" y="402.49" font-size="5.8" text-anchor="end" fill="#111" stroke="#111" stroke-width="0.16">160</text>
<line x1="353.2" y1="412.4" x2="355.5" y2="412.4" stroke="#1e1e1e" stroke-width="1"/>
<text x="349.5" y="414.49" font-size="5.8" text-anchor="end" fill="#111" stroke="#111" stroke-width="0.16">120</text>
<line x1="353.2" y1="424.4" x2="355.5" y2="424.4" stroke="#1e1e1e" stroke-width="1"/>
<text x="349.5" y="426.49" font-size="5.8" text-anchor="end" fill="#111" stroke="#111" stroke-width="0.16">80</text>
<line x1="353.2" y1="436.4" x2="355.5" y2="436.4" stroke="#1e1e1e" stroke-width="1"/>
<text x="349.5" y="438.49" font-size="5.8" text-anchor="end" fill="#111" stroke="#111" stroke-width="0.16">40</text>
<rect x="359.15" y="417.6" width="5.5" height="24.4" fill="#cc1030" stroke="#901028" stroke-width="0.4"/>
<rect x="368.25" y="417.9" width="5.5" height="24.1" fill="#cc1030" stroke="#901028" stroke-width="0.4"/>
<line x1="354.82" y1="442" x2="376.6" y2="442" stroke="#1e1e1e" stroke-width="1.35"/>
<line x1="361.9" y1="442" x2="361.9" y2="444.3" stroke="#1e1e1e" stroke-width="1"/>
<line x1="371" y1="442" x2="371" y2="444.3" stroke="#1e1e1e" stroke-width="1"/>
<circle cx="360.5" cy="417.8" r="1.25" fill="#fff" stroke="#2a2a2a" stroke-width="0.7"/>
<circle cx="362.8" cy="417.8" r="1.25" fill="#fff" stroke="#2a2a2a" stroke-width="0.7"/>
<circle cx="369.5" cy="416.5" r="1.25" fill="#fff" stroke="#333" stroke-width="0.7"/>
<circle cx="371.2" cy="418.3" r="1.25" fill="#fff" stroke="#333" stroke-width="0.7"/>
<circle cx="370" cy="420" r="1.25" fill="#fff" stroke="#333" stroke-width="0.7"/>
<text x="334.6" y="453.36" font-size="6" text-anchor="start" fill="#111" stroke="#111" stroke-width="0.16" textLength="14.8" lengthAdjust="spacingAndGlyphs">SSO:</text>
<text x="361.5" y="453.14" font-size="5.4" text-anchor="middle" fill="#333" stroke="#333" stroke-width="0.16">–</text>
<text x="370.6" y="453.22" font-size="5.6" text-anchor="middle" fill="#333" stroke="#333" stroke-width="0.16">+</text>
<text transform="translate(396.78 370.7) scale(1 1)" x="0" y="0" font-size="10.6" font-weight="bold" fill="#000" stroke="#000" stroke-width="0.4">O</text>
<text x="445" y="381.1" font-size="8.6" text-anchor="middle" fill="#111" stroke="#111" stroke-width="0.16" textLength="40" lengthAdjust="spacingAndGlyphs">BM Plasma</text>
<text transform="translate(401.69 413.2) rotate(-90)" x="0" y="0" font-size="7" text-anchor="middle" fill="#111" stroke="#111" stroke-width="0.2" textLength="19.4" lengthAdjust="spacingAndGlyphs">[IFN-γ]</text>
<text transform="translate(412.09 413.7) rotate(-90)" x="0" y="0" font-size="7" text-anchor="middle" fill="#111" stroke="#111" stroke-width="0.2" textLength="48.1" lengthAdjust="spacingAndGlyphs">(relative to control)</text>
<line x1="434.5" y1="385.3" x2="434.5" y2="442.68" stroke="#1e1e1e" stroke-width="1.35"/>
<line x1="432.2" y1="388.2" x2="434.5" y2="388.2" stroke="#1e1e1e" stroke-width="1"/>
<text x="428.5" y="390.29" font-size="5.8" text-anchor="end" fill="#111" stroke="#111" stroke-width="0.16">200</text>
<line x1="432.2" y1="400.4" x2="434.5" y2="400.4" stroke="#1e1e1e" stroke-width="1"/>
<text x="428.5" y="402.49" font-size="5.8" text-anchor="end" fill="#111" stroke="#111" stroke-width="0.16">160</text>
<line x1="432.2" y1="412.4" x2="434.5" y2="412.4" stroke="#1e1e1e" stroke-width="1"/>
<text x="428.5" y="414.49" font-size="5.8" text-anchor="end" fill="#111" stroke="#111" stroke-width="0.16">120</text>
<line x1="432.2" y1="424.4" x2="434.5" y2="424.4" stroke="#1e1e1e" stroke-width="1"/>
<text x="428.5" y="426.49" font-size="5.8" text-anchor="end" fill="#111" stroke="#111" stroke-width="0.16">80</text>
<line x1="432.2" y1="436.4" x2="434.5" y2="436.4" stroke="#1e1e1e" stroke-width="1"/>
<text x="428.5" y="438.49" font-size="5.8" text-anchor="end" fill="#111" stroke="#111" stroke-width="0.16">40</text>
<rect x="437.75" y="417.4" width="6" height="24.6" fill="#cc1030" stroke="#901028" stroke-width="0.4"/>
<rect x="447.2" y="424.1" width="5.4" height="17.9" fill="#cc1030" stroke="#901028" stroke-width="0.4"/>
<line x1="433.82" y1="442" x2="455.1" y2="442" stroke="#1e1e1e" stroke-width="1.35"/>
<line x1="440.75" y1="442" x2="440.75" y2="444.3" stroke="#1e1e1e" stroke-width="1"/>
<line x1="449.9" y1="442" x2="449.9" y2="444.3" stroke="#1e1e1e" stroke-width="1"/>
<circle cx="439.6" cy="417.2" r="1.25" fill="#fff" stroke="#2a2a2a" stroke-width="0.7"/>
<circle cx="441.9" cy="417.2" r="1.25" fill="#fff" stroke="#2a2a2a" stroke-width="0.7"/>
<circle cx="449.2" cy="417.5" r="1.25" fill="#fff" stroke="#333" stroke-width="0.7"/>
<circle cx="449.6" cy="421" r="1.25" fill="#fff" stroke="#333" stroke-width="0.7"/>
<circle cx="448.5" cy="423.5" r="1.25" fill="#fff" stroke="#333" stroke-width="0.7"/>
<circle cx="450.8" cy="424.5" r="1.25" fill="#fff" stroke="#333" stroke-width="0.7"/>
<circle cx="449.6" cy="428" r="0.85" fill="#fff"/>
<circle cx="449.6" cy="435" r="0.85" fill="#fff"/>
<text x="444.8" y="389.47" font-size="6.6" text-anchor="middle" font-weight="bold" fill="#111" stroke="#111" stroke-width="0.16" textLength="2.55" lengthAdjust="spacingAndGlyphs">*</text>
<line x1="439" y1="390.6" x2="449.6" y2="390.6" stroke="#1e1e1e" stroke-width="1"/>
<text x="440.4" y="453.14" font-size="5.4" text-anchor="middle" fill="#333" stroke="#333" stroke-width="0.16">–</text>
<text x="449.6" y="453.22" font-size="5.6" text-anchor="middle" fill="#333" stroke="#333" stroke-width="0.16">+</text>
<text transform="translate(314.19 470) scale(1 1)" x="0" y="0" font-size="10.6" font-weight="bold" fill="#000" stroke="#000" stroke-width="0.4">Q</text>
<text x="361.75" y="480.3" font-size="8.6" text-anchor="middle" fill="#111" stroke="#111" stroke-width="0.16" textLength="38.7" lengthAdjust="spacingAndGlyphs">PB Plasma</text>
<text transform="translate(318.99 513.4) rotate(-90)" x="0" y="0" font-size="7" text-anchor="middle" fill="#111" stroke="#111" stroke-width="0.2" textLength="19.3" lengthAdjust="spacingAndGlyphs">[IFN-γ]</text>
<text transform="translate(329.19 514.3) rotate(-90)" x="0" y="0" font-size="7" text-anchor="middle" fill="#111" stroke="#111" stroke-width="0.2" textLength="45.5" lengthAdjust="spacingAndGlyphs">(relative to control)</text>
<line x1="351.5" y1="485.3" x2="351.5" y2="542.17" stroke="#1e1e1e" stroke-width="1.35"/>
<line x1="349.2" y1="487.6" x2="351.5" y2="487.6" stroke="#1e1e1e" stroke-width="1"/>
<text x="345.5" y="489.69" font-size="5.8" text-anchor="end" fill="#111" stroke="#111" stroke-width="0.16">200</text>
<line x1="349.2" y1="499.6" x2="351.5" y2="499.6" stroke="#1e1e1e" stroke-width="1"/>
<text x="345.5" y="501.69" font-size="5.8" text-anchor="end" fill="#111" stroke="#111" stroke-width="0.16">160</text>
<line x1="349.2" y1="511.7" x2="351.5" y2="511.7" stroke="#1e1e1e" stroke-width="1"/>
<text x="345.5" y="513.79" font-size="5.8" text-anchor="end" fill="#111" stroke="#111" stroke-width="0.16">120</text>
<line x1="349.2" y1="523.6" x2="351.5" y2="523.6" stroke="#1e1e1e" stroke-width="1"/>
<text x="345.5" y="525.69" font-size="5.8" text-anchor="end" fill="#111" stroke="#111" stroke-width="0.16">80</text>
<line x1="349.2" y1="535.7" x2="351.5" y2="535.7" stroke="#1e1e1e" stroke-width="1"/>
<text x="345.5" y="537.79" font-size="5.8" text-anchor="end" fill="#111" stroke="#111" stroke-width="0.16">40</text>
<rect x="354.2" y="517.4" width="6.4" height="24" fill="#cc1030" stroke="#901028" stroke-width="0.4"/>
<rect x="363.45" y="519.4" width="5.9" height="22" fill="#cc1030" stroke="#901028" stroke-width="0.4"/>
<line x1="350.82" y1="541.5" x2="372.3" y2="541.5" stroke="#1e1e1e" stroke-width="1.35"/>
<line x1="357.4" y1="541.5" x2="357.4" y2="543.8" stroke="#1e1e1e" stroke-width="1"/>
<line x1="366.5" y1="541.5" x2="366.5" y2="543.8" stroke="#1e1e1e" stroke-width="1"/>
<circle cx="356.5" cy="517.6" r="1.25" fill="#fff" stroke="#2a2a2a" stroke-width="0.7"/>
<circle cx="359" cy="517.6" r="1.25" fill="#fff" stroke="#2a2a2a" stroke-width="0.7"/>
<circle cx="366.3" cy="505.8" r="1.25" fill="#fff" stroke="#333" stroke-width="0.7"/>
<circle cx="366.3" cy="509" r="1.25" fill="#fff" stroke="#333" stroke-width="0.7"/>
<circle cx="364.5" cy="519.5" r="1.25" fill="#fff" stroke="#333" stroke-width="0.7"/>
<circle cx="368.5" cy="520.2" r="1.25" fill="#fff" stroke="#333" stroke-width="0.7"/>
<circle cx="365.5" cy="528.5" r="0.85" fill="#fff"/>
<circle cx="368" cy="528.5" r="0.85" fill="#fff"/>
<circle cx="366.5" cy="532.5" r="0.85" fill="#fff"/>
<text x="319.1" y="553.46" font-size="6" text-anchor="start" fill="#111" stroke="#111" stroke-width="0.16" textLength="26.5" lengthAdjust="spacingAndGlyphs">FATP1 in2:</text>
<text x="357.2" y="553.24" font-size="5.4" text-anchor="middle" fill="#333" stroke="#333" stroke-width="0.16">–</text>
<text x="366.3" y="553.32" font-size="5.6" text-anchor="middle" fill="#333" stroke="#333" stroke-width="0.16">+</text>
<text transform="translate(393.54 472.9) scale(1 1)" x="0" y="0" font-size="10.6" font-weight="bold" fill="#000" stroke="#000" stroke-width="0.4">R</text>
<text x="443.4" y="480.3" font-size="8.6" text-anchor="middle" fill="#111" stroke="#111" stroke-width="0.16" textLength="39.8" lengthAdjust="spacingAndGlyphs">BM Plasma</text>
<text transform="translate(399.59 513.2) rotate(-90)" x="0" y="0" font-size="7" text-anchor="middle" fill="#111" stroke="#111" stroke-width="0.2" textLength="19" lengthAdjust="spacingAndGlyphs">[IFN-γ]</text>
<text transform="translate(411.29 513.5) rotate(-90)" x="0" y="0" font-size="7" text-anchor="middle" fill="#111" stroke="#111" stroke-width="0.2" textLength="47.1" lengthAdjust="spacingAndGlyphs">(relative to control)</text>
<line x1="433" y1="485.3" x2="433" y2="542.17" stroke="#1e1e1e" stroke-width="1.35"/>
<line x1="430.7" y1="487.6" x2="433" y2="487.6" stroke="#1e1e1e" stroke-width="1"/>
<text x="427" y="489.69" font-size="5.8" text-anchor="end" fill="#111" stroke="#111" stroke-width="0.16">200</text>
<line x1="430.7" y1="499.6" x2="433" y2="499.6" stroke="#1e1e1e" stroke-width="1"/>
<text x="427" y="501.69" font-size="5.8" text-anchor="end" fill="#111" stroke="#111" stroke-width="0.16">160</text>
<line x1="430.7" y1="511.7" x2="433" y2="511.7" stroke="#1e1e1e" stroke-width="1"/>
<text x="427" y="513.79" font-size="5.8" text-anchor="end" fill="#111" stroke="#111" stroke-width="0.16">120</text>
<line x1="430.7" y1="523.6" x2="433" y2="523.6" stroke="#1e1e1e" stroke-width="1"/>
<text x="427" y="525.69" font-size="5.8" text-anchor="end" fill="#111" stroke="#111" stroke-width="0.16">80</text>
<line x1="430.7" y1="535.7" x2="433" y2="535.7" stroke="#1e1e1e" stroke-width="1"/>
<text x="427" y="537.79" font-size="5.8" text-anchor="end" fill="#111" stroke="#111" stroke-width="0.16">40</text>
<rect x="436.05" y="516.8" width="5.7" height="24.9" fill="#cc1030" stroke="#901028" stroke-width="0.4"/>
<rect x="445" y="508.8" width="5.8" height="32.9" fill="#cc1030" stroke="#901028" stroke-width="0.4"/>
<line x1="432.32" y1="541.5" x2="453.8" y2="541.5" stroke="#1e1e1e" stroke-width="1.35"/>
<line x1="438.9" y1="541.5" x2="438.9" y2="543.8" stroke="#1e1e1e" stroke-width="1"/>
<line x1="447.9" y1="541.5" x2="447.9" y2="543.8" stroke="#1e1e1e" stroke-width="1"/>
<circle cx="437.7" cy="517" r="1.25" fill="#fff" stroke="#2a2a2a" stroke-width="0.7"/>
<circle cx="440" cy="517" r="1.25" fill="#fff" stroke="#2a2a2a" stroke-width="0.7"/>
<circle cx="447.8" cy="494.1" r="1.25" fill="#999" stroke="#333" stroke-width="0.7"/>
<circle cx="447.8" cy="503.2" r="1.25" fill="#999" stroke="#333" stroke-width="0.7"/>
<circle cx="447.8" cy="510" r="1.25" fill="#fff" stroke="#333" stroke-width="0.7"/>
<circle cx="446.8" cy="515" r="1.25" fill="#fff" stroke="#333" stroke-width="0.7"/>
<circle cx="449.5" cy="517.5" r="1.25" fill="#fff" stroke="#333" stroke-width="0.7"/>
<circle cx="448" cy="520.5" r="0.85" fill="#fff"/>
<text x="442.5" y="486.57" font-size="6.6" text-anchor="middle" font-weight="bold" fill="#111" stroke="#111" stroke-width="0.16" textLength="2.55" lengthAdjust="spacingAndGlyphs">*</text>
<line x1="437.5" y1="487.8" x2="448.5" y2="487.8" stroke="#1e1e1e" stroke-width="1"/>
<text x="439" y="553.24" font-size="5.4" text-anchor="middle" fill="#333" stroke="#333" stroke-width="0.16">–</text>
<text x="448" y="553.32" font-size="5.6" text-anchor="middle" fill="#333" stroke="#333" stroke-width="0.16">+</text>
<text transform="translate(314.6 578.7) scale(1 1)" x="0" y="0" font-size="10.6" font-weight="bold" fill="#000" stroke="#000" stroke-width="0.4">S</text>
<text transform="translate(322.19 618.8) rotate(-90)" x="0" y="0" font-size="7" text-anchor="middle" fill="#111" stroke="#111" stroke-width="0.2" textLength="18.3" lengthAdjust="spacingAndGlyphs">[IFN-γ]</text>
<text transform="translate(331.79 618.8) rotate(-90)" x="0" y="0" font-size="7" text-anchor="middle" fill="#111" stroke="#111" stroke-width="0.2" textLength="47.2" lengthAdjust="spacingAndGlyphs">(relative to control)</text>
<line x1="354.5" y1="590.7" x2="354.5" y2="647.67" stroke="#1e1e1e" stroke-width="1.35"/>
<line x1="352.2" y1="593.5" x2="354.5" y2="593.5" stroke="#1e1e1e" stroke-width="1"/>
<text x="348.5" y="595.59" font-size="5.8" text-anchor="end" fill="#111" stroke="#111" stroke-width="0.16">200</text>
<line x1="352.2" y1="605.5" x2="354.5" y2="605.5" stroke="#1e1e1e" stroke-width="1"/>
<text x="348.5" y="607.59" font-size="5.8" text-anchor="end" fill="#111" stroke="#111" stroke-width="0.16">160</text>
<line x1="352.2" y1="617.3" x2="354.5" y2="617.3" stroke="#1e1e1e" stroke-width="1"/>
<text x="348.5" y="619.39" font-size="5.8" text-anchor="end" fill="#111" stroke="#111" stroke-width="0.16">120</text>
<line x1="352.2" y1="629.4" x2="354.5" y2="629.4" stroke="#1e1e1e" stroke-width="1"/>
<text x="348.5" y="631.49" font-size="5.8" text-anchor="end" fill="#111" stroke="#111" stroke-width="0.16">80</text>
<line x1="352.2" y1="641.4" x2="354.5" y2="641.4" stroke="#1e1e1e" stroke-width="1"/>
<text x="348.5" y="643.49" font-size="5.8" text-anchor="end" fill="#111" stroke="#111" stroke-width="0.16">40</text>
<line x1="353.82" y1="647" x2="375.7" y2="647" stroke="#1e1e1e" stroke-width="1.35"/>
<line x1="361.7" y1="647" x2="361.7" y2="649.3" stroke="#1e1e1e" stroke-width="1"/>
<line x1="373.6" y1="647" x2="373.6" y2="649.3" stroke="#1e1e1e" stroke-width="1"/>
<line x1="361.7" y1="611.1" x2="373.6" y2="600.1" stroke="#222" stroke-width="0.95"/>
<circle cx="361.7" cy="611.1" r="1.4" fill="#1a1a1a"/>
<circle cx="373.6" cy="600.1" r="1.4" fill="#1a1a1a"/>
<line x1="361.7" y1="611.5" x2="373.6" y2="613.3" stroke="#222" stroke-width="0.95"/>
<circle cx="361.7" cy="611.5" r="1.4" fill="#1a1a1a"/>
<circle cx="373.6" cy="613.3" r="1.4" fill="#1a1a1a"/>
<line x1="361.7" y1="613.8" x2="373.6" y2="617.2" stroke="#222" stroke-width="0.95"/>
<circle cx="361.7" cy="613.8" r="1.4" fill="#1a1a1a"/>
<circle cx="373.6" cy="617.2" r="1.4" fill="#1a1a1a"/>
<line x1="361.7" y1="625" x2="373.6" y2="608.9" stroke="#222" stroke-width="0.95"/>
<circle cx="361.7" cy="625" r="1.4" fill="#1a1a1a"/>
<circle cx="373.6" cy="608.9" r="1.4" fill="#1a1a1a"/>
<line x1="361.7" y1="626" x2="373.6" y2="619.6" stroke="#222" stroke-width="0.95"/>
<circle cx="361.7" cy="626" r="1.4" fill="#1a1a1a"/>
<circle cx="373.6" cy="619.6" r="1.4" fill="#1a1a1a"/>
<line x1="361.7" y1="634.7" x2="373.6" y2="621.5" stroke="#222" stroke-width="0.95"/>
<circle cx="361.7" cy="634.7" r="1.4" fill="#1a1a1a"/>
<circle cx="373.6" cy="621.5" r="1.4" fill="#1a1a1a"/>
<line x1="361.7" y1="635.7" x2="373.6" y2="624" stroke="#222" stroke-width="0.95"/>
<circle cx="361.7" cy="635.7" r="1.4" fill="#1a1a1a"/>
<circle cx="373.6" cy="624" r="1.4" fill="#1a1a1a"/>
<line x1="361.7" y1="637.6" x2="373.6" y2="623" stroke="#222" stroke-width="0.95"/>
<circle cx="361.7" cy="637.6" r="1.4" fill="#1a1a1a"/>
<circle cx="373.6" cy="623" r="1.4" fill="#1a1a1a"/>
<text x="365.9" y="592.97" font-size="6.6" text-anchor="middle" font-weight="bold" fill="#111" stroke="#111" stroke-width="0.16" textLength="5.3" lengthAdjust="spacingAndGlyphs">**</text>
<line x1="360.8" y1="594" x2="372.9" y2="594" stroke="#1e1e1e" stroke-width="1"/>
<text x="361.7" y="659.2" font-size="6.4" text-anchor="middle" fill="#111" stroke="#111" stroke-width="0.16" textLength="8.5" lengthAdjust="spacingAndGlyphs">PB</text>
<text x="373.5" y="659.2" font-size="6.4" text-anchor="middle" fill="#111" stroke="#111" stroke-width="0.16" textLength="9.5" lengthAdjust="spacingAndGlyphs">BM</text>
<text transform="translate(6.76 466.5) scale(1 1)" x="0" y="0" font-size="8.8" font-weight="bold" fill="#000" stroke="#000" stroke-width="0.4">P</text>
<defs><filter id="soft" x="-20%" y="-20%" width="140%" height="140%"><feGaussianBlur stdDeviation="0.35"/></filter><filter id="soft2" x="-20%" y="-20%" width="140%" height="140%"><feGaussianBlur stdDeviation="0.45"/></filter><linearGradient id="cb" x1="0" y1="1" x2="0" y2="0"><stop offset="0" stop-color="#e8e8f4"/><stop offset="0.5" stop-color="#8080c0"/><stop offset="1" stop-color="#14145e"/></linearGradient><g id="cd4"><path d="M312 88C321 78 347 73 369 70C390 68 418 72 441 75C465 78 499 77 510 88C521 99 513 121 507 140C500 158 483 180 470 199C458 217 446 249 434 252C422 255 413 231 398 216C382 201 355 176 341 162C328 148 321 145 316 132C311 120 303 98 312 88Z" opacity="0.68"/><g opacity="0.55"><circle cx="376" cy="98" r="7"/><circle cx="441" cy="83" r="7"/><circle cx="418" cy="137" r="7"/><circle cx="326" cy="87" r="7"/><circle cx="337" cy="111" r="7"/><circle cx="437" cy="242" r="7"/><circle cx="427" cy="142" r="7"/><circle cx="482" cy="123" r="7"/><circle cx="341" cy="92" r="7"/><circle cx="439" cy="138" r="7"/><circle cx="421" cy="82" r="7"/><circle cx="324" cy="108" r="7"/><circle cx="447" cy="148" r="7"/><circle cx="374" cy="177" r="7"/><circle cx="402" cy="125" r="7"/><circle cx="470" cy="197" r="7"/><circle cx="361" cy="175" r="7"/><circle cx="416" cy="229" r="7"/><circle cx="457" cy="123" r="7"/><circle cx="506" cy="92" r="7"/><circle cx="395" cy="208" r="7"/><circle cx="342" cy="159" r="7"/><circle cx="464" cy="174" r="7"/><circle cx="486" cy="127" r="7"/><circle cx="450" cy="178" r="7"/><circle cx="427" cy="153" r="7"/><circle cx="406" cy="191" r="7"/><circle cx="475" cy="122" r="7"/><circle cx="389" cy="192" r="7"/><circle cx="346" cy="92" r="7"/><circle cx="338" cy="115" r="7"/><circle cx="421" cy="231" r="7"/><circle cx="367" cy="146" r="7"/><circle cx="502" cy="98" r="7"/><circle cx="347" cy="112" r="7"/><circle cx="358" cy="158" r="7"/><circle cx="429" cy="118" r="7"/><circle cx="385" cy="173" r="7"/><circle cx="414" cy="182" r="7"/><circle cx="446" cy="80" r="7"/><circle cx="390" cy="143" r="7"/><circle cx="354" cy="100" r="7"/><circle cx="380" cy="80" r="7"/><circle cx="332" cy="136" r="7"/><circle cx="434" cy="97" r="7"/><circle cx="362" cy="133" r="7"/><circle cx="384" cy="93" r="7"/><circle cx="405" cy="158" r="7"/><circle cx="329" cy="89" r="7"/><circle cx="380" cy="118" r="7"/><circle cx="476" cy="100" r="7"/><circle cx="417" cy="97" r="7"/><circle cx="420" cy="75" r="7"/><circle cx="364" cy="137" r="7"/><circle cx="418" cy="212" r="7"/><circle cx="378" cy="111" r="7"/><circle cx="357" cy="164" r="7"/><circle cx="383" cy="76" r="7"/><circle cx="318" cy="121" r="7"/><circle cx="501" cy="136" r="7"/><circle cx="356" cy="111" r="7"/><circle cx="351" cy="107" r="7"/><circle cx="436" cy="234" r="7"/><circle cx="479" cy="157" r="7"/><circle cx="442" cy="215" r="7"/><circle cx="461" cy="157" r="7"/><circle cx="505" cy="142" r="7"/><circle cx="456" cy="101" r="7"/><circle cx="337" cy="98" r="7"/><circle cx="382" cy="170" r="7"/><circle cx="476" cy="109" r="7"/><circle cx="362" cy="123" r="7"/><circle cx="360" cy="177" r="7"/><circle cx="364" cy="146" r="7"/><circle cx="382" cy="153" r="7"/><circle cx="428" cy="234" r="7"/><circle cx="412" cy="167" r="7"/><circle cx="416" cy="74" r="7"/><circle cx="399" cy="104" r="7"/><circle cx="346" cy="156" r="7"/><circle cx="456" cy="171" r="7"/><circle cx="377" cy="164" r="7"/><circle cx="422" cy="213" r="7"/><circle cx="361" cy="121" r="7"/><circle cx="465" cy="162" r="7"/><circle cx="424" cy="208" r="7"/><circle cx="493" cy="151" r="7"/><circle cx="434" cy="162" r="7"/><circle cx="414" cy="196" r="7"/><circle cx="402" cy="167" r="7"/><circle cx="499" cy="117" r="7"/><circle cx="479" cy="95" r="7"/><circle cx="336" cy="151" r="7"/></g></g><g id="cd8"><path d="M301 218C314 224 325 241 323 258C322 274 306 297 292 317C278 336 256 357 238 376C219 394 203 420 183 429C163 438 132 437 118 429C104 420 98 399 100 379C101 358 113 326 129 305C144 284 170 265 190 252C210 238 230 228 249 222C267 217 289 212 301 218Z" opacity="0.68"/><g opacity="0.55"><circle cx="116" cy="359" r="7"/><circle cx="134" cy="369" r="7"/><circle cx="247" cy="248" r="7"/><circle cx="149" cy="419" r="7"/><circle cx="189" cy="321" r="7"/><circle cx="136" cy="309" r="7"/><circle cx="215" cy="289" r="7"/><circle cx="261" cy="222" r="7"/><circle cx="223" cy="311" r="7"/><circle cx="239" cy="326" r="7"/><circle cx="108" cy="382" r="7"/><circle cx="194" cy="410" r="7"/><circle cx="283" cy="272" r="7"/><circle cx="133" cy="412" r="7"/><circle cx="227" cy="366" r="7"/><circle cx="253" cy="307" r="7"/><circle cx="116" cy="416" r="7"/><circle cx="118" cy="398" r="7"/><circle cx="114" cy="400" r="7"/><circle cx="201" cy="289" r="7"/><circle cx="217" cy="268" r="7"/><circle cx="169" cy="282" r="7"/><circle cx="269" cy="279" r="7"/><circle cx="211" cy="255" r="7"/><circle cx="263" cy="334" r="7"/><circle cx="142" cy="318" r="7"/><circle cx="309" cy="240" r="7"/><circle cx="283" cy="309" r="7"/><circle cx="210" cy="394" r="7"/><circle cx="187" cy="325" r="7"/><circle cx="176" cy="393" r="7"/><circle cx="258" cy="352" r="7"/><circle cx="190" cy="291" r="7"/><circle cx="115" cy="374" r="7"/><circle cx="118" cy="395" r="7"/><circle cx="165" cy="315" r="7"/><circle cx="135" cy="312" r="7"/><circle cx="158" cy="421" r="7"/><circle cx="154" cy="421" r="7"/><circle cx="169" cy="293" r="7"/><circle cx="206" cy="324" r="7"/><circle cx="144" cy="324" r="7"/><circle cx="230" cy="329" r="7"/><circle cx="187" cy="287" r="7"/><circle cx="109" cy="394" r="7"/><circle cx="131" cy="328" r="7"/><circle cx="212" cy="394" r="7"/><circle cx="123" cy="394" r="7"/><circle cx="224" cy="350" r="7"/><circle cx="240" cy="361" r="7"/><circle cx="212" cy="331" r="7"/><circle cx="247" cy="232" r="7"/><circle cx="264" cy="271" r="7"/><circle cx="263" cy="261" r="7"/><circle cx="210" cy="298" r="7"/><circle cx="207" cy="362" r="7"/><circle cx="243" cy="234" r="7"/><circle cx="266" cy="282" r="7"/><circle cx="251" cy="279" r="7"/><circle cx="215" cy="316" r="7"/><circle cx="299" cy="260" r="7"/><circle cx="200" cy="274" r="7"/><circle cx="146" cy="417" r="7"/><circle cx="147" cy="340" r="7"/><circle cx="131" cy="328" r="7"/><circle cx="313" cy="246" r="7"/><circle cx="283" cy="325" r="7"/><circle cx="151" cy="407" r="7"/><circle cx="200" cy="281" r="7"/><circle cx="170" cy="395" r="7"/><circle cx="287" cy="243" r="7"/><circle cx="301" cy="279" r="7"/><circle cx="183" cy="301" r="7"/><circle cx="180" cy="308" r="7"/><circle cx="122" cy="394" r="7"/><circle cx="163" cy="415" r="7"/><circle cx="214" cy="258" r="7"/><circle cx="183" cy="419" r="7"/><circle cx="260" cy="228" r="7"/><circle cx="263" cy="313" r="7"/><circle cx="307" cy="245" r="7"/><circle cx="205" cy="290" r="7"/><circle cx="166" cy="374" r="7"/><circle cx="246" cy="281" r="7"/><circle cx="224" cy="301" r="7"/><circle cx="146" cy="409" r="7"/><circle cx="211" cy="264" r="7"/><circle cx="200" cy="247" r="7"/><circle cx="267" cy="305" r="7"/><circle cx="192" cy="328" r="7"/><circle cx="184" cy="289" r="7"/><circle cx="212" cy="351" r="7"/><circle cx="292" cy="263" r="7"/><circle cx="189" cy="312" r="7"/><circle cx="295" cy="222" r="7"/><circle cx="107" cy="367" r="7"/><circle cx="187" cy="413" r="7"/><circle cx="216" cy="362" r="7"/><circle cx="202" cy="334" r="7"/><circle cx="108" cy="383" r="7"/><circle cx="152" cy="412" r="7"/><circle cx="244" cy="282" r="7"/><circle cx="242" cy="365" r="7"/><circle cx="217" cy="341" r="7"/><circle cx="186" cy="265" r="7"/><circle cx="167" cy="315" r="7"/><circle cx="211" cy="360" r="7"/><circle cx="193" cy="272" r="7"/><circle cx="175" cy="306" r="7"/><circle cx="252" cy="260" r="7"/><circle cx="212" cy="261" r="7"/><circle cx="283" cy="266" r="7"/></g></g><g id="hspc"><path d="M834 169C847 159 873 155 896 157C918 160 952 171 969 184C985 197 991 217 994 237C997 257 992 279 989 302C985 325 983 357 972 376C962 394 939 411 925 414C911 417 898 407 889 393C879 380 879 351 870 331C861 312 843 294 834 275C825 256 816 234 816 216C816 199 821 179 834 169Z" opacity="0.68"/><g opacity="0.55"><circle cx="904" cy="205" r="7"/><circle cx="856" cy="264" r="7"/><circle cx="934" cy="401" r="7"/><circle cx="842" cy="258" r="7"/><circle cx="841" cy="171" r="7"/><circle cx="982" cy="242" r="7"/><circle cx="934" cy="254" r="7"/><circle cx="882" cy="242" r="7"/><circle cx="866" cy="248" r="7"/><circle cx="962" cy="268" r="7"/><circle cx="850" cy="251" r="7"/><circle cx="889" cy="366" r="7"/><circle cx="980" cy="223" r="7"/><circle cx="949" cy="388" r="7"/><circle cx="876" cy="227" r="7"/><circle cx="872" cy="228" r="7"/><circle cx="979" cy="320" r="7"/><circle cx="858" cy="279" r="7"/><circle cx="885" cy="222" r="7"/><circle cx="892" cy="284" r="7"/><circle cx="959" cy="347" r="7"/><circle cx="962" cy="356" r="7"/><circle cx="924" cy="241" r="7"/><circle cx="873" cy="250" r="7"/><circle cx="860" cy="174" r="7"/><circle cx="863" cy="179" r="7"/><circle cx="942" cy="272" r="7"/><circle cx="858" cy="264" r="7"/><circle cx="926" cy="330" r="7"/><circle cx="949" cy="375" r="7"/><circle cx="934" cy="188" r="7"/><circle cx="966" cy="233" r="7"/><circle cx="917" cy="253" r="7"/><circle cx="947" cy="208" r="7"/><circle cx="860" cy="220" r="7"/><circle cx="919" cy="241" r="7"/><circle cx="906" cy="217" r="7"/><circle cx="960" cy="325" r="7"/><circle cx="900" cy="368" r="7"/><circle cx="823" cy="233" r="7"/><circle cx="837" cy="206" r="7"/><circle cx="982" cy="253" r="7"/><circle cx="970" cy="273" r="7"/><circle cx="922" cy="316" r="7"/><circle cx="855" cy="252" r="7"/><circle cx="841" cy="210" r="7"/><circle cx="861" cy="311" r="7"/><circle cx="932" cy="210" r="7"/><circle cx="937" cy="205" r="7"/><circle cx="871" cy="210" r="7"/><circle cx="958" cy="298" r="7"/><circle cx="886" cy="299" r="7"/><circle cx="930" cy="181" r="7"/><circle cx="889" cy="230" r="7"/><circle cx="872" cy="303" r="7"/><circle cx="880" cy="264" r="7"/><circle cx="881" cy="208" r="7"/><circle cx="946" cy="210" r="7"/><circle cx="891" cy="368" r="7"/><circle cx="888" cy="384" r="7"/><circle cx="898" cy="199" r="7"/><circle cx="930" cy="391" r="7"/><circle cx="882" cy="287" r="7"/><circle cx="842" cy="230" r="7"/><circle cx="909" cy="395" r="7"/><circle cx="851" cy="190" r="7"/><circle cx="902" cy="171" r="7"/><circle cx="981" cy="257" r="7"/><circle cx="977" cy="317" r="7"/><circle cx="963" cy="198" r="7"/><circle cx="956" cy="214" r="7"/><circle cx="888" cy="375" r="7"/><circle cx="964" cy="204" r="7"/><circle cx="855" cy="260" r="7"/><circle cx="908" cy="256" r="7"/><circle cx="838" cy="221" r="7"/><circle cx="945" cy="388" r="7"/><circle cx="965" cy="188" r="7"/><circle cx="923" cy="298" r="7"/><circle cx="928" cy="236" r="7"/><circle cx="891" cy="307" r="7"/><circle cx="892" cy="326" r="7"/><circle cx="895" cy="270" r="7"/><circle cx="903" cy="218" r="7"/><circle cx="952" cy="357" r="7"/><circle cx="898" cy="203" r="7"/><circle cx="900" cy="185" r="7"/><circle cx="839" cy="268" r="7"/><circle cx="907" cy="168" r="7"/><circle cx="929" cy="178" r="7"/><circle cx="947" cy="357" r="7"/><circle cx="907" cy="171" r="7"/><circle cx="906" cy="254" r="7"/><circle cx="946" cy="366" r="7"/><circle cx="828" cy="247" r="7"/><circle cx="951" cy="198" r="7"/><circle cx="976" cy="228" r="7"/><circle cx="961" cy="194" r="7"/><circle cx="905" cy="393" r="7"/><circle cx="853" cy="225" r="7"/><circle cx="906" cy="239" r="7"/><circle cx="822" cy="204" r="7"/><circle cx="937" cy="387" r="7"/><circle cx="929" cy="250" r="7"/><circle cx="971" cy="300" r="7"/><circle cx="919" cy="384" r="7"/><circle cx="928" cy="258" r="7"/><circle cx="958" cy="225" r="7"/><circle cx="880" cy="354" r="7"/><circle cx="895" cy="203" r="7"/><circle cx="962" cy="222" r="7"/><circle cx="930" cy="410" r="7"/><circle cx="920" cy="328" r="7"/><circle cx="926" cy="268" r="7"/><circle cx="907" cy="387" r="7"/><circle cx="839" cy="216" r="7"/><circle cx="835" cy="249" r="7"/><circle cx="856" cy="307" r="7"/><circle cx="921" cy="210" r="7"/><circle cx="927" cy="279" r="7"/><circle cx="859" cy="196" r="7"/><circle cx="971" cy="358" r="7"/><circle cx="887" cy="225" r="7"/><circle cx="916" cy="247" r="7"/><circle cx="931" cy="271" r="7"/><circle cx="888" cy="218" r="7"/><circle cx="906" cy="322" r="7"/></g></g><g id="lymph"><path d="M696 258C706 245 732 238 750 235C769 233 793 234 805 243C817 251 826 271 825 287C823 303 811 328 796 339C780 349 750 354 732 349C714 344 695 324 689 309C683 294 686 270 696 258Z" opacity="0.68"/><g opacity="0.55"><circle cx="800" cy="255" r="7"/><circle cx="731" cy="270" r="7"/><circle cx="795" cy="317" r="7"/><circle cx="790" cy="288" r="7"/><circle cx="790" cy="287" r="7"/><circle cx="734" cy="321" r="7"/><circle cx="783" cy="331" r="7"/><circle cx="786" cy="266" r="7"/><circle cx="764" cy="285" r="7"/><circle cx="796" cy="295" r="7"/><circle cx="725" cy="308" r="7"/><circle cx="724" cy="262" r="7"/><circle cx="790" cy="273" r="7"/><circle cx="809" cy="273" r="7"/><circle cx="721" cy="339" r="7"/><circle cx="775" cy="314" r="7"/><circle cx="753" cy="331" r="7"/><circle cx="784" cy="333" r="7"/><circle cx="748" cy="318" r="7"/><circle cx="766" cy="270" r="7"/><circle cx="717" cy="306" r="7"/><circle cx="736" cy="252" r="7"/><circle cx="783" cy="307" r="7"/><circle cx="784" cy="319" r="7"/><circle cx="698" cy="303" r="7"/><circle cx="738" cy="328" r="7"/><circle cx="703" cy="259" r="7"/><circle cx="775" cy="329" r="7"/><circle cx="775" cy="268" r="7"/><circle cx="792" cy="259" r="7"/><circle cx="732" cy="284" r="7"/><circle cx="727" cy="317" r="7"/><circle cx="739" cy="272" r="7"/><circle cx="820" cy="293" r="7"/><circle cx="805" cy="306" r="7"/><circle cx="693" cy="282" r="7"/><circle cx="748" cy="323" r="7"/><circle cx="736" cy="316" r="7"/><circle cx="762" cy="260" r="7"/><circle cx="806" cy="246" r="7"/><circle cx="800" cy="255" r="7"/><circle cx="756" cy="326" r="7"/><circle cx="714" cy="292" r="7"/><circle cx="736" cy="330" r="7"/><circle cx="727" cy="260" r="7"/><circle cx="784" cy="292" r="7"/><circle cx="704" cy="308" r="7"/></g></g><g id="gc"><path d="M350 317C366 304 391 299 414 293C437 287 467 278 487 280C506 281 523 291 532 302C542 313 547 330 545 346C543 362 528 382 518 398C507 414 499 434 481 443C464 453 434 459 414 455C394 452 375 437 360 423C344 409 325 387 323 370C322 352 335 329 350 317Z" opacity="0.5"/><g opacity="0.55"><circle cx="478" cy="418" r="7"/><circle cx="462" cy="342" r="7"/><circle cx="412" cy="349" r="7"/><circle cx="369" cy="326" r="7"/><circle cx="523" cy="368" r="7"/><circle cx="407" cy="435" r="7"/><circle cx="375" cy="361" r="7"/><circle cx="441" cy="412" r="7"/><circle cx="490" cy="393" r="7"/><circle cx="400" cy="337" r="7"/><circle cx="470" cy="410" r="7"/><circle cx="361" cy="357" r="7"/><circle cx="495" cy="381" r="7"/><circle cx="351" cy="361" r="7"/><circle cx="519" cy="321" r="7"/><circle cx="366" cy="333" r="7"/><circle cx="479" cy="428" r="7"/><circle cx="378" cy="337" r="7"/><circle cx="439" cy="308" r="7"/><circle cx="396" cy="313" r="7"/><circle cx="346" cy="347" r="7"/><circle cx="486" cy="356" r="7"/><circle cx="367" cy="392" r="7"/><circle cx="412" cy="419" r="7"/><circle cx="477" cy="368" r="7"/><circle cx="463" cy="361" r="7"/><circle cx="355" cy="386" r="7"/><circle cx="413" cy="410" r="7"/><circle cx="525" cy="355" r="7"/><circle cx="450" cy="411" r="7"/><circle cx="417" cy="320" r="7"/><circle cx="483" cy="434" r="7"/><circle cx="495" cy="403" r="7"/><circle cx="512" cy="399" r="7"/><circle cx="465" cy="359" r="7"/><circle cx="393" cy="390" r="7"/><circle cx="345" cy="353" r="7"/><circle cx="497" cy="405" r="7"/><circle cx="463" cy="324" r="7"/><circle cx="417" cy="360" r="7"/><circle cx="461" cy="352" r="7"/><circle cx="473" cy="443" r="7"/><circle cx="364" cy="395" r="7"/><circle cx="496" cy="348" r="7"/><circle cx="432" cy="451" r="7"/><circle cx="332" cy="375" r="7"/><circle cx="359" cy="417" r="7"/><circle cx="532" cy="371" r="7"/><circle cx="346" cy="381" r="7"/><circle cx="443" cy="406" r="7"/><circle cx="437" cy="392" r="7"/><circle cx="507" cy="371" r="7"/><circle cx="414" cy="446" r="7"/><circle cx="370" cy="400" r="7"/><circle cx="410" cy="414" r="7"/><circle cx="384" cy="350" r="7"/><circle cx="416" cy="402" r="7"/><circle cx="401" cy="326" r="7"/><circle cx="373" cy="410" r="7"/><circle cx="372" cy="420" r="7"/><circle cx="410" cy="317" r="7"/><circle cx="503" cy="391" r="7"/><circle cx="427" cy="378" r="7"/><circle cx="401" cy="392" r="7"/><circle cx="427" cy="331" r="7"/><circle cx="445" cy="302" r="7"/><circle cx="508" cy="342" r="7"/><circle cx="512" cy="327" r="7"/><circle cx="407" cy="324" r="7"/><circle cx="418" cy="312" r="7"/><circle cx="386" cy="323" r="7"/><circle cx="390" cy="364" r="7"/><circle cx="418" cy="392" r="7"/><circle cx="469" cy="343" r="7"/><circle cx="469" cy="324" r="7"/><circle cx="375" cy="416" r="7"/><circle cx="400" cy="307" r="7"/><circle cx="458" cy="417" r="7"/><circle cx="471" cy="437" r="7"/><circle cx="367" cy="401" r="7"/><circle cx="441" cy="410" r="7"/><circle cx="420" cy="435" r="7"/><circle cx="446" cy="326" r="7"/><circle cx="433" cy="290" r="7"/><circle cx="427" cy="305" r="7"/><circle cx="432" cy="367" r="7"/><circle cx="443" cy="431" r="7"/><circle cx="427" cy="378" r="7"/><circle cx="471" cy="427" r="7"/><circle cx="406" cy="353" r="7"/><circle cx="464" cy="391" r="7"/><circle cx="475" cy="443" r="7"/><circle cx="436" cy="365" r="7"/><circle cx="482" cy="389" r="7"/><circle cx="398" cy="431" r="7"/><circle cx="404" cy="363" r="7"/><circle cx="440" cy="415" r="7"/><circle cx="370" cy="356" r="7"/><circle cx="417" cy="377" r="7"/><circle cx="507" cy="331" r="7"/><circle cx="507" cy="351" r="7"/><circle cx="435" cy="327" r="7"/><circle cx="435" cy="451" r="7"/><circle cx="468" cy="419" r="7"/><circle cx="397" cy="335" r="7"/><circle cx="390" cy="383" r="7"/><circle cx="464" cy="417" r="7"/><circle cx="520" cy="375" r="7"/><circle cx="469" cy="418" r="7"/><circle cx="460" cy="390" r="7"/><circle cx="478" cy="384" r="7"/></g></g><g id="nk"><path d="M96 441C114 436 144 431 160 436C175 441 187 457 189 471C190 486 180 507 170 523C161 540 150 559 134 570C119 582 93 592 78 592C62 592 50 583 41 570C33 558 27 533 29 516C30 498 39 477 50 464C62 452 78 445 96 441Z" opacity="0.68"/><g opacity="0.55"><circle cx="138" cy="469" r="7"/><circle cx="135" cy="508" r="7"/><circle cx="151" cy="452" r="7"/><circle cx="134" cy="494" r="7"/><circle cx="119" cy="476" r="7"/><circle cx="77" cy="502" r="7"/><circle cx="80" cy="503" r="7"/><circle cx="37" cy="525" r="7"/><circle cx="158" cy="526" r="7"/><circle cx="176" cy="506" r="7"/><circle cx="95" cy="452" r="7"/><circle cx="132" cy="469" r="7"/><circle cx="144" cy="474" r="7"/><circle cx="146" cy="465" r="7"/><circle cx="145" cy="449" r="7"/><circle cx="129" cy="547" r="7"/><circle cx="102" cy="582" r="7"/><circle cx="69" cy="587" r="7"/><circle cx="143" cy="438" r="7"/><circle cx="159" cy="449" r="7"/><circle cx="78" cy="550" r="7"/><circle cx="55" cy="571" r="7"/><circle cx="106" cy="445" r="7"/><circle cx="87" cy="526" r="7"/><circle cx="99" cy="542" r="7"/><circle cx="52" cy="561" r="7"/><circle cx="87" cy="537" r="7"/><circle cx="129" cy="501" r="7"/><circle cx="90" cy="559" r="7"/><circle cx="119" cy="482" r="7"/><circle cx="82" cy="531" r="7"/><circle cx="125" cy="484" r="7"/><circle cx="97" cy="575" r="7"/><circle cx="89" cy="543" r="7"/><circle cx="158" cy="480" r="7"/><circle cx="96" cy="528" r="7"/><circle cx="120" cy="479" r="7"/><circle cx="84" cy="449" r="7"/><circle cx="117" cy="561" r="7"/><circle cx="61" cy="553" r="7"/><circle cx="178" cy="473" r="7"/><circle cx="126" cy="542" r="7"/><circle cx="103" cy="468" r="7"/><circle cx="69" cy="554" r="7"/><circle cx="155" cy="508" r="7"/><circle cx="43" cy="562" r="7"/><circle cx="152" cy="472" r="7"/><circle cx="170" cy="518" r="7"/><circle cx="105" cy="528" r="7"/><circle cx="59" cy="466" r="7"/><circle cx="58" cy="546" r="7"/><circle cx="87" cy="524" r="7"/><circle cx="93" cy="517" r="7"/><circle cx="46" cy="535" r="7"/><circle cx="155" cy="460" r="7"/><circle cx="124" cy="490" r="7"/><circle cx="167" cy="512" r="7"/><circle cx="119" cy="477" r="7"/><circle cx="153" cy="503" r="7"/><circle cx="61" cy="464" r="7"/><circle cx="118" cy="572" r="7"/><circle cx="124" cy="498" r="7"/><circle cx="70" cy="524" r="7"/><circle cx="136" cy="498" r="7"/><circle cx="100" cy="461" r="7"/><circle cx="70" cy="491" r="7"/><circle cx="163" cy="443" r="7"/><circle cx="137" cy="483" r="7"/><circle cx="123" cy="555" r="7"/><circle cx="45" cy="487" r="7"/><circle cx="70" cy="455" r="7"/></g></g><g id="net"><path d="M469 479C479 465 522 463 550 467C579 471 616 487 641 501C666 515 692 530 700 553C707 575 701 618 687 634C673 650 635 655 614 648C593 642 581 613 560 597C538 581 502 572 487 553C472 533 458 493 469 479Z" opacity="0.22"/><g opacity="0.55"><circle cx="580" cy="498" r="7"/><circle cx="524" cy="493" r="7"/><circle cx="634" cy="502" r="7"/><circle cx="669" cy="628" r="7"/><circle cx="501" cy="548" r="7"/><circle cx="663" cy="581" r="7"/><circle cx="573" cy="529" r="7"/><circle cx="659" cy="554" r="7"/><circle cx="614" cy="493" r="7"/><circle cx="520" cy="477" r="7"/><circle cx="633" cy="567" r="7"/><circle cx="530" cy="542" r="7"/><circle cx="505" cy="516" r="7"/><circle cx="662" cy="528" r="7"/><circle cx="507" cy="556" r="7"/><circle cx="623" cy="505" r="7"/><circle cx="579" cy="519" r="7"/><circle cx="528" cy="504" r="7"/><circle cx="491" cy="520" r="7"/><circle cx="636" cy="520" r="7"/><circle cx="655" cy="529" r="7"/><circle cx="661" cy="563" r="7"/><circle cx="511" cy="546" r="7"/><circle cx="601" cy="492" r="7"/><circle cx="633" cy="503" r="7"/><circle cx="487" cy="483" r="7"/><circle cx="609" cy="557" r="7"/><circle cx="532" cy="504" r="7"/><circle cx="610" cy="595" r="7"/><circle cx="656" cy="573" r="7"/><circle cx="515" cy="479" r="7"/><circle cx="638" cy="541" r="7"/><circle cx="656" cy="528" r="7"/><circle cx="663" cy="624" r="7"/><circle cx="679" cy="554" r="7"/><circle cx="553" cy="497" r="7"/><circle cx="554" cy="575" r="7"/><circle cx="572" cy="561" r="7"/><circle cx="657" cy="624" r="7"/><circle cx="689" cy="557" r="7"/><circle cx="587" cy="563" r="7"/><circle cx="511" cy="486" r="7"/><circle cx="476" cy="485" r="7"/><circle cx="630" cy="502" r="7"/><circle cx="602" cy="562" r="7"/><circle cx="669" cy="597" r="7"/><circle cx="479" cy="489" r="7"/><circle cx="583" cy="558" r="7"/><circle cx="533" cy="489" r="7"/><circle cx="562" cy="492" r="7"/><circle cx="605" cy="623" r="7"/><circle cx="659" cy="637" r="7"/><circle cx="558" cy="543" r="7"/><circle cx="662" cy="562" r="7"/><circle cx="648" cy="528" r="7"/><circle cx="524" cy="528" r="7"/><circle cx="654" cy="633" r="7"/><circle cx="657" cy="621" r="7"/><circle cx="526" cy="544" r="7"/><circle cx="615" cy="533" r="7"/><circle cx="569" cy="559" r="7"/><circle cx="473" cy="492" r="7"/><circle cx="685" cy="582" r="7"/><circle cx="655" cy="627" r="7"/><circle cx="617" cy="515" r="7"/><circle cx="625" cy="517" r="7"/><circle cx="612" cy="513" r="7"/><circle cx="589" cy="546" r="7"/><circle cx="689" cy="560" r="7"/><circle cx="531" cy="552" r="7"/><circle cx="592" cy="494" r="7"/><circle cx="497" cy="491" r="7"/><circle cx="536" cy="541" r="7"/><circle cx="535" cy="511" r="7"/><circle cx="662" cy="578" r="7"/><circle cx="600" cy="585" r="7"/><circle cx="575" cy="566" r="7"/><circle cx="610" cy="552" r="7"/><circle cx="540" cy="511" r="7"/><circle cx="520" cy="560" r="7"/><circle cx="557" cy="573" r="7"/><circle cx="597" cy="556" r="7"/><circle cx="505" cy="479" r="7"/><circle cx="670" cy="547" r="7"/><circle cx="570" cy="600" r="7"/><circle cx="494" cy="508" r="7"/><circle cx="690" cy="601" r="7"/><circle cx="504" cy="528" r="7"/><circle cx="550" cy="590" r="7"/><circle cx="611" cy="621" r="7"/><circle cx="658" cy="561" r="7"/><circle cx="639" cy="602" r="7"/><circle cx="644" cy="553" r="7"/><circle cx="650" cy="596" r="7"/><circle cx="645" cy="573" r="7"/><circle cx="601" cy="543" r="7"/><circle cx="650" cy="625" r="7"/><circle cx="609" cy="536" r="7"/><circle cx="573" cy="550" r="7"/><circle cx="636" cy="520" r="7"/><circle cx="559" cy="568" r="7"/><circle cx="557" cy="525" r="7"/><circle cx="650" cy="621" r="7"/><circle cx="584" cy="548" r="7"/><circle cx="511" cy="522" r="7"/><circle cx="663" cy="619" r="7"/></g></g><g id="myel"><path d="M460 553C466 541 493 534 507 544C521 554 536 588 543 612C551 635 552 662 552 685C552 709 553 740 543 753C534 766 507 773 496 762C485 751 482 710 478 685C473 660 472 634 469 612C466 589 453 564 460 553Z" opacity="0.55"/><g opacity="0.55"><circle cx="499" cy="743" r="7"/><circle cx="460" cy="554" r="7"/><circle cx="512" cy="652" r="7"/><circle cx="545" cy="713" r="7"/><circle cx="507" cy="657" r="7"/><circle cx="523" cy="629" r="7"/><circle cx="493" cy="674" r="7"/><circle cx="522" cy="658" r="7"/><circle cx="497" cy="666" r="7"/><circle cx="513" cy="736" r="7"/><circle cx="500" cy="680" r="7"/><circle cx="509" cy="722" r="7"/><circle cx="475" cy="613" r="7"/><circle cx="507" cy="568" r="7"/><circle cx="542" cy="694" r="7"/><circle cx="542" cy="636" r="7"/><circle cx="474" cy="607" r="7"/><circle cx="507" cy="654" r="7"/><circle cx="477" cy="584" r="7"/><circle cx="518" cy="675" r="7"/><circle cx="498" cy="716" r="7"/><circle cx="488" cy="695" r="7"/><circle cx="538" cy="672" r="7"/><circle cx="521" cy="587" r="7"/><circle cx="506" cy="665" r="7"/><circle cx="484" cy="685" r="7"/><circle cx="513" cy="633" r="7"/><circle cx="471" cy="578" r="7"/><circle cx="469" cy="581" r="7"/><circle cx="508" cy="723" r="7"/><circle cx="516" cy="720" r="7"/><circle cx="531" cy="614" r="7"/><circle cx="526" cy="621" r="7"/><circle cx="475" cy="602" r="7"/><circle cx="513" cy="620" r="7"/><circle cx="501" cy="628" r="7"/><circle cx="514" cy="753" r="7"/><circle cx="500" cy="679" r="7"/><circle cx="483" cy="553" r="7"/><circle cx="546" cy="730" r="7"/><circle cx="535" cy="610" r="7"/><circle cx="515" cy="753" r="7"/><circle cx="505" cy="751" r="7"/><circle cx="482" cy="629" r="7"/><circle cx="526" cy="592" r="7"/><circle cx="504" cy="717" r="7"/><circle cx="482" cy="582" r="7"/><circle cx="493" cy="584" r="7"/><circle cx="512" cy="569" r="7"/><circle cx="509" cy="628" r="7"/><circle cx="497" cy="558" r="7"/><circle cx="492" cy="597" r="7"/><circle cx="477" cy="606" r="7"/><circle cx="481" cy="551" r="7"/><circle cx="521" cy="618" r="7"/><circle cx="468" cy="603" r="7"/></g></g><g id="mono"><path d="M469 789C476 778 488 769 505 768C522 766 546 773 569 780C591 787 620 798 641 809C663 821 683 833 696 848C708 863 719 883 716 899C713 915 699 936 678 945C656 954 614 957 587 954C559 950 534 937 514 924C494 912 478 895 469 880C460 865 460 848 460 833C460 818 461 799 469 789Z" opacity="0.68"/><g opacity="0.55"><circle cx="573" cy="923" r="7"/><circle cx="550" cy="902" r="7"/><circle cx="589" cy="810" r="7"/><circle cx="576" cy="792" r="7"/><circle cx="641" cy="816" r="7"/><circle cx="690" cy="877" r="7"/><circle cx="554" cy="814" r="7"/><circle cx="615" cy="807" r="7"/><circle cx="591" cy="869" r="7"/><circle cx="529" cy="911" r="7"/><circle cx="558" cy="890" r="7"/><circle cx="605" cy="826" r="7"/><circle cx="559" cy="784" r="7"/><circle cx="542" cy="891" r="7"/><circle cx="487" cy="872" r="7"/><circle cx="552" cy="861" r="7"/><circle cx="536" cy="780" r="7"/><circle cx="539" cy="810" r="7"/><circle cx="492" cy="901" r="7"/><circle cx="532" cy="843" r="7"/><circle cx="693" cy="912" r="7"/><circle cx="686" cy="928" r="7"/><circle cx="493" cy="819" r="7"/><circle cx="630" cy="833" r="7"/><circle cx="565" cy="890" r="7"/><circle cx="639" cy="814" r="7"/><circle cx="621" cy="802" r="7"/><circle cx="648" cy="900" r="7"/><circle cx="501" cy="805" r="7"/><circle cx="537" cy="839" r="7"/><circle cx="470" cy="826" r="7"/><circle cx="675" cy="874" r="7"/><circle cx="643" cy="815" r="7"/><circle cx="571" cy="895" r="7"/><circle cx="673" cy="912" r="7"/><circle cx="533" cy="776" r="7"/><circle cx="678" cy="881" r="7"/><circle cx="472" cy="813" r="7"/><circle cx="638" cy="841" r="7"/><circle cx="651" cy="922" r="7"/><circle cx="532" cy="785" r="7"/><circle cx="698" cy="896" r="7"/><circle cx="649" cy="922" r="7"/><circle cx="621" cy="852" r="7"/><circle cx="569" cy="863" r="7"/><circle cx="640" cy="918" r="7"/><circle cx="526" cy="869" r="7"/><circle cx="708" cy="886" r="7"/><circle cx="599" cy="814" r="7"/><circle cx="475" cy="834" r="7"/><circle cx="565" cy="805" r="7"/><circle cx="539" cy="793" r="7"/><circle cx="641" cy="893" r="7"/><circle cx="520" cy="813" r="7"/><circle cx="592" cy="851" r="7"/><circle cx="536" cy="932" r="7"/><circle cx="496" cy="873" r="7"/><circle cx="545" cy="919" r="7"/><circle cx="600" cy="909" r="7"/><circle cx="503" cy="892" r="7"/><circle cx="613" cy="854" r="7"/><circle cx="656" cy="922" r="7"/><circle cx="489" cy="822" r="7"/><circle cx="552" cy="806" r="7"/><circle cx="475" cy="820" r="7"/><circle cx="510" cy="898" r="7"/><circle cx="574" cy="789" r="7"/><circle cx="543" cy="855" r="7"/><circle cx="553" cy="799" r="7"/><circle cx="487" cy="859" r="7"/><circle cx="571" cy="803" r="7"/><circle cx="695" cy="888" r="7"/><circle cx="620" cy="942" r="7"/><circle cx="627" cy="815" r="7"/><circle cx="523" cy="794" r="7"/><circle cx="507" cy="887" r="7"/><circle cx="676" cy="940" r="7"/><circle cx="672" cy="906" r="7"/><circle cx="543" cy="802" r="7"/><circle cx="554" cy="870" r="7"/><circle cx="554" cy="922" r="7"/><circle cx="521" cy="776" r="7"/><circle cx="605" cy="885" r="7"/><circle cx="670" cy="899" r="7"/><circle cx="586" cy="861" r="7"/><circle cx="500" cy="824" r="7"/><circle cx="573" cy="948" r="7"/><circle cx="572" cy="803" r="7"/><circle cx="675" cy="927" r="7"/><circle cx="661" cy="847" r="7"/><circle cx="532" cy="891" r="7"/><circle cx="591" cy="846" r="7"/><circle cx="546" cy="849" r="7"/><circle cx="630" cy="921" r="7"/><circle cx="535" cy="850" r="7"/><circle cx="604" cy="833" r="7"/><circle cx="510" cy="784" r="7"/><circle cx="542" cy="854" r="7"/><circle cx="706" cy="883" r="7"/><circle cx="633" cy="881" r="7"/><circle cx="536" cy="874" r="7"/><circle cx="625" cy="824" r="7"/><circle cx="548" cy="932" r="7"/><circle cx="467" cy="803" r="7"/><circle cx="633" cy="851" r="7"/><circle cx="481" cy="891" r="7"/><circle cx="555" cy="876" r="7"/><circle cx="566" cy="866" r="7"/><circle cx="604" cy="842" r="7"/><circle cx="489" cy="801" r="7"/><circle cx="688" cy="870" r="7"/><circle cx="524" cy="786" r="7"/><circle cx="596" cy="815" r="7"/><circle cx="585" cy="871" r="7"/><circle cx="518" cy="874" r="7"/><circle cx="488" cy="863" r="7"/><circle cx="564" cy="782" r="7"/><circle cx="572" cy="928" r="7"/><circle cx="601" cy="901" r="7"/><circle cx="713" cy="902" r="7"/><circle cx="560" cy="800" r="7"/><circle cx="520" cy="837" r="7"/><circle cx="514" cy="824" r="7"/><circle cx="641" cy="847" r="7"/><circle cx="687" cy="883" r="7"/><circle cx="683" cy="873" r="7"/><circle cx="503" cy="906" r="7"/><circle cx="547" cy="910" r="7"/><circle cx="634" cy="921" r="7"/><circle cx="491" cy="837" r="7"/><circle cx="649" cy="944" r="7"/><circle cx="600" cy="917" r="7"/><circle cx="633" cy="815" r="7"/><circle cx="509" cy="851" r="7"/><circle cx="674" cy="876" r="7"/><circle cx="507" cy="871" r="7"/></g></g><g id="plasma"><path d="M60 862C75 854 124 847 141 852C159 857 165 877 165 892C165 907 159 933 141 941C124 948 75 946 60 939C44 932 49 912 49 899C49 886 44 870 60 862Z" opacity="0.68"/><g opacity="0.55"><circle cx="82" cy="913" r="7"/><circle cx="93" cy="865" r="7"/><circle cx="150" cy="900" r="7"/><circle cx="129" cy="924" r="7"/><circle cx="88" cy="865" r="7"/><circle cx="107" cy="929" r="7"/><circle cx="142" cy="855" r="7"/><circle cx="70" cy="924" r="7"/><circle cx="128" cy="887" r="7"/><circle cx="104" cy="866" r="7"/><circle cx="147" cy="887" r="7"/><circle cx="150" cy="906" r="7"/><circle cx="57" cy="881" r="7"/><circle cx="74" cy="931" r="7"/><circle cx="117" cy="856" r="7"/><circle cx="68" cy="884" r="7"/><circle cx="103" cy="903" r="7"/><circle cx="94" cy="883" r="7"/><circle cx="102" cy="939" r="7"/><circle cx="127" cy="876" r="7"/><circle cx="80" cy="896" r="7"/><circle cx="79" cy="902" r="7"/><circle cx="110" cy="937" r="7"/><circle cx="114" cy="920" r="7"/><circle cx="150" cy="921" r="7"/><circle cx="122" cy="908" r="7"/><circle cx="91" cy="877" r="7"/><circle cx="141" cy="929" r="7"/><circle cx="84" cy="920" r="7"/><circle cx="135" cy="897" r="7"/><circle cx="123" cy="883" r="7"/><circle cx="113" cy="888" r="7"/><circle cx="56" cy="882" r="7"/></g></g><g id="bcell"><path d="M169 884C181 876 217 871 241 870C266 868 300 870 314 877C328 884 328 902 325 914C322 926 316 944 296 949C276 955 227 951 205 946C183 942 171 932 165 921C159 911 156 893 169 884Z" opacity="0.68"/><g opacity="0.55"><circle cx="242" cy="899" r="7"/><circle cx="204" cy="888" r="7"/><circle cx="221" cy="881" r="7"/><circle cx="237" cy="905" r="7"/><circle cx="256" cy="894" r="7"/><circle cx="213" cy="894" r="7"/><circle cx="281" cy="914" r="7"/><circle cx="315" cy="897" r="7"/><circle cx="312" cy="916" r="7"/><circle cx="178" cy="884" r="7"/><circle cx="222" cy="931" r="7"/><circle cx="233" cy="939" r="7"/><circle cx="176" cy="908" r="7"/><circle cx="309" cy="892" r="7"/><circle cx="191" cy="891" r="7"/><circle cx="278" cy="887" r="7"/><circle cx="229" cy="886" r="7"/><circle cx="261" cy="939" r="7"/><circle cx="269" cy="885" r="7"/><circle cx="282" cy="946" r="7"/><circle cx="261" cy="876" r="7"/><circle cx="294" cy="939" r="7"/><circle cx="220" cy="881" r="7"/><circle cx="195" cy="912" r="7"/><circle cx="305" cy="921" r="7"/><circle cx="313" cy="887" r="7"/><circle cx="217" cy="929" r="7"/><circle cx="269" cy="902" r="7"/><circle cx="274" cy="897" r="7"/><circle cx="174" cy="903" r="7"/><circle cx="172" cy="920" r="7"/><circle cx="218" cy="909" r="7"/><circle cx="261" cy="890" r="7"/><circle cx="239" cy="871" r="7"/><circle cx="313" cy="915" r="7"/><circle cx="263" cy="927" r="7"/><circle cx="218" cy="877" r="7"/><circle cx="190" cy="881" r="7"/><circle cx="288" cy="877" r="7"/><circle cx="295" cy="903" r="7"/><circle cx="251" cy="917" r="7"/><circle cx="254" cy="922" r="7"/></g></g><g id="bridges" opacity="0.45"><path d="M387 213C399 197 444 199 460 213C475 228 490 286 478 302C466 318 402 324 387 309C372 294 375 229 387 213Z"/><path d="M105 390C122 379 176 384 187 398C197 411 185 460 169 471C152 483 97 478 87 464C76 451 88 401 105 390Z"/><path d="M450 435C461 415 510 415 523 435C537 454 543 533 532 553C522 572 473 572 460 553C446 533 440 454 450 435Z"/><path d="M796 258C802 242 829 231 841 243C853 255 875 315 869 331C863 347 817 351 805 339C793 326 790 274 796 258Z"/><path d="M478 730C490 720 535 720 550 730C566 739 581 779 569 789C556 798 493 798 478 789C463 779 466 739 478 730Z"/><path d="M287 280C302 265 341 276 350 294C360 313 356 376 341 390C326 405 269 401 260 383C250 365 272 294 287 280Z"/><path d="M532 346C543 335 578 333 605 324C632 315 677 294 692 294C707 294 709 313 696 324C683 335 640 350 614 361C588 372 555 393 541 390C528 388 522 357 532 346Z"/></g><g id="g_cd4"><path d="M332 87C348 74 402 67 435 68C468 68 515 75 531 91C548 108 540 145 536 166C532 186 523 201 509 215C494 228 465 249 447 248C429 247 418 226 401 209C384 192 355 166 344 146C332 126 317 100 332 87Z" opacity="0.72"/><g opacity="0.6"><circle cx="455" cy="127" r="8"/><circle cx="483" cy="114" r="8"/><circle cx="477" cy="205" r="8"/><circle cx="490" cy="123" r="8"/><circle cx="425" cy="118" r="8"/><circle cx="439" cy="237" r="8"/><circle cx="429" cy="186" r="8"/><circle cx="490" cy="133" r="8"/><circle cx="486" cy="84" r="8"/><circle cx="338" cy="92" r="8"/><circle cx="445" cy="101" r="8"/><circle cx="524" cy="134" r="8"/><circle cx="363" cy="100" r="8"/><circle cx="491" cy="111" r="8"/><circle cx="532" cy="158" r="8"/><circle cx="462" cy="130" r="8"/><circle cx="495" cy="151" r="8"/><circle cx="525" cy="181" r="8"/><circle cx="378" cy="113" r="8"/><circle cx="386" cy="146" r="8"/><circle cx="379" cy="104" r="8"/><circle cx="487" cy="184" r="8"/><circle cx="376" cy="170" r="8"/><circle cx="509" cy="116" r="8"/><circle cx="485" cy="216" r="8"/><circle cx="390" cy="128" r="8"/><circle cx="431" cy="228" r="8"/><circle cx="454" cy="149" r="8"/><circle cx="450" cy="227" r="8"/><circle cx="406" cy="208" r="8"/><circle cx="508" cy="101" r="8"/><circle cx="352" cy="98" r="8"/><circle cx="471" cy="84" r="8"/><circle cx="478" cy="227" r="8"/><circle cx="435" cy="109" r="8"/><circle cx="420" cy="87" r="8"/><circle cx="357" cy="156" r="8"/><circle cx="360" cy="145" r="8"/><circle cx="434" cy="88" r="8"/><circle cx="404" cy="157" r="8"/><circle cx="519" cy="131" r="8"/><circle cx="512" cy="200" r="8"/><circle cx="388" cy="100" r="8"/><circle cx="386" cy="80" r="8"/><circle cx="415" cy="168" r="8"/><circle cx="472" cy="185" r="8"/><circle cx="443" cy="167" r="8"/><circle cx="510" cy="197" r="8"/><circle cx="414" cy="125" r="8"/><circle cx="411" cy="137" r="8"/><circle cx="416" cy="94" r="8"/><circle cx="456" cy="235" r="8"/><circle cx="384" cy="178" r="8"/><circle cx="409" cy="111" r="8"/><circle cx="373" cy="89" r="8"/><circle cx="504" cy="209" r="8"/><circle cx="474" cy="126" r="8"/><circle cx="464" cy="167" r="8"/><circle cx="506" cy="160" r="8"/><circle cx="380" cy="181" r="8"/><circle cx="484" cy="136" r="8"/><circle cx="477" cy="139" r="8"/><circle cx="440" cy="178" r="8"/><circle cx="470" cy="126" r="8"/><circle cx="460" cy="166" r="8"/><circle cx="378" cy="178" r="8"/><circle cx="429" cy="198" r="8"/><circle cx="439" cy="154" r="8"/><circle cx="377" cy="93" r="8"/><circle cx="521" cy="163" r="8"/><circle cx="439" cy="163" r="8"/><circle cx="498" cy="111" r="8"/><circle cx="426" cy="183" r="8"/><circle cx="499" cy="90" r="8"/><circle cx="364" cy="113" r="8"/><circle cx="353" cy="132" r="8"/></g></g><g id="g_band"><path d="M287 181C316 176 385 179 412 189C440 200 457 220 454 244C451 268 419 304 394 332C369 361 333 389 303 417C272 444 236 469 211 495C187 521 175 557 156 573C138 590 115 599 101 593C88 587 76 561 74 538C72 515 78 484 88 456C97 428 118 397 133 370C149 342 162 316 179 291C196 266 216 239 234 221C252 202 257 187 287 181Z" opacity="0.68"/><g opacity="0.6"><circle cx="246" cy="218" r="8"/><circle cx="338" cy="366" r="8"/><circle cx="362" cy="243" r="8"/><circle cx="332" cy="332" r="8"/><circle cx="272" cy="279" r="8"/><circle cx="215" cy="321" r="8"/><circle cx="150" cy="416" r="8"/><circle cx="347" cy="294" r="8"/><circle cx="197" cy="281" r="8"/><circle cx="391" cy="219" r="8"/><circle cx="150" cy="356" r="8"/><circle cx="242" cy="333" r="8"/><circle cx="344" cy="303" r="8"/><circle cx="229" cy="448" r="8"/><circle cx="382" cy="326" r="8"/><circle cx="220" cy="420" r="8"/><circle cx="425" cy="260" r="8"/><circle cx="215" cy="455" r="8"/><circle cx="361" cy="338" r="8"/><circle cx="274" cy="386" r="8"/><circle cx="250" cy="372" r="8"/><circle cx="241" cy="384" r="8"/><circle cx="103" cy="518" r="8"/><circle cx="95" cy="462" r="8"/><circle cx="95" cy="466" r="8"/><circle cx="233" cy="422" r="8"/><circle cx="405" cy="241" r="8"/><circle cx="201" cy="395" r="8"/><circle cx="193" cy="286" r="8"/><circle cx="268" cy="354" r="8"/><circle cx="399" cy="287" r="8"/><circle cx="278" cy="335" r="8"/><circle cx="250" cy="383" r="8"/><circle cx="296" cy="332" r="8"/><circle cx="378" cy="264" r="8"/><circle cx="276" cy="350" r="8"/><circle cx="288" cy="315" r="8"/><circle cx="178" cy="509" r="8"/><circle cx="185" cy="474" r="8"/><circle cx="317" cy="202" r="8"/><circle cx="401" cy="211" r="8"/><circle cx="300" cy="256" r="8"/><circle cx="392" cy="241" r="8"/><circle cx="422" cy="267" r="8"/><circle cx="231" cy="453" r="8"/><circle cx="334" cy="245" r="8"/><circle cx="95" cy="468" r="8"/><circle cx="90" cy="526" r="8"/><circle cx="295" cy="313" r="8"/><circle cx="287" cy="245" r="8"/><circle cx="393" cy="244" r="8"/><circle cx="218" cy="445" r="8"/><circle cx="159" cy="406" r="8"/><circle cx="350" cy="358" r="8"/><circle cx="332" cy="228" r="8"/><circle cx="388" cy="232" r="8"/><circle cx="184" cy="325" r="8"/><circle cx="427" cy="220" r="8"/><circle cx="301" cy="404" r="8"/><circle cx="395" cy="275" r="8"/><circle cx="323" cy="202" r="8"/><circle cx="200" cy="366" r="8"/><circle cx="168" cy="487" r="8"/><circle cx="142" cy="506" r="8"/><circle cx="286" cy="221" r="8"/><circle cx="300" cy="371" r="8"/><circle cx="111" cy="448" r="8"/><circle cx="124" cy="419" r="8"/><circle cx="208" cy="336" r="8"/><circle cx="326" cy="249" r="8"/><circle cx="138" cy="569" r="8"/><circle cx="408" cy="230" r="8"/><circle cx="262" cy="402" r="8"/><circle cx="136" cy="402" r="8"/><circle cx="266" cy="332" r="8"/><circle cx="149" cy="348" r="8"/><circle cx="165" cy="540" r="8"/><circle cx="161" cy="490" r="8"/><circle cx="271" cy="302" r="8"/><circle cx="412" cy="216" r="8"/><circle cx="294" cy="278" r="8"/><circle cx="344" cy="207" r="8"/><circle cx="167" cy="428" r="8"/><circle cx="383" cy="322" r="8"/><circle cx="167" cy="483" r="8"/><circle cx="332" cy="244" r="8"/><circle cx="256" cy="386" r="8"/><circle cx="149" cy="439" r="8"/><circle cx="109" cy="477" r="8"/><circle cx="357" cy="237" r="8"/><circle cx="298" cy="361" r="8"/><circle cx="405" cy="304" r="8"/><circle cx="433" cy="229" r="8"/><circle cx="170" cy="526" r="8"/><circle cx="248" cy="279" r="8"/><circle cx="203" cy="426" r="8"/><circle cx="304" cy="370" r="8"/><circle cx="201" cy="269" r="8"/><circle cx="309" cy="302" r="8"/><circle cx="340" cy="363" r="8"/><circle cx="120" cy="462" r="8"/><circle cx="90" cy="520" r="8"/><circle cx="159" cy="548" r="8"/><circle cx="224" cy="387" r="8"/><circle cx="389" cy="248" r="8"/><circle cx="140" cy="570" r="8"/><circle cx="169" cy="326" r="8"/><circle cx="103" cy="438" r="8"/><circle cx="211" cy="454" r="8"/><circle cx="314" cy="336" r="8"/><circle cx="95" cy="525" r="8"/><circle cx="359" cy="196" r="8"/><circle cx="129" cy="423" r="8"/><circle cx="293" cy="201" r="8"/><circle cx="317" cy="297" r="8"/><circle cx="363" cy="301" r="8"/><circle cx="281" cy="355" r="8"/><circle cx="375" cy="324" r="8"/><circle cx="127" cy="394" r="8"/><circle cx="407" cy="248" r="8"/><circle cx="354" cy="252" r="8"/><circle cx="187" cy="339" r="8"/><circle cx="432" cy="263" r="8"/><circle cx="196" cy="362" r="8"/><circle cx="223" cy="340" r="8"/><circle cx="151" cy="555" r="8"/><circle cx="360" cy="295" r="8"/><circle cx="275" cy="300" r="8"/><circle cx="313" cy="288" r="8"/><circle cx="367" cy="198" r="8"/><circle cx="368" cy="344" r="8"/><circle cx="204" cy="343" r="8"/><circle cx="380" cy="325" r="8"/><circle cx="144" cy="540" r="8"/><circle cx="276" cy="396" r="8"/><circle cx="227" cy="418" r="8"/><circle cx="178" cy="529" r="8"/><circle cx="131" cy="458" r="8"/><circle cx="124" cy="471" r="8"/><circle cx="378" cy="329" r="8"/><circle cx="339" cy="211" r="8"/><circle cx="392" cy="315" r="8"/><circle cx="89" cy="522" r="8"/><circle cx="313" cy="321" r="8"/><circle cx="200" cy="415" r="8"/><circle cx="157" cy="508" r="8"/><circle cx="153" cy="527" r="8"/><circle cx="85" cy="502" r="8"/><circle cx="296" cy="346" r="8"/><circle cx="268" cy="424" r="8"/><circle cx="160" cy="538" r="8"/><circle cx="255" cy="236" r="8"/><circle cx="246" cy="462" r="8"/><circle cx="343" cy="369" r="8"/><circle cx="227" cy="298" r="8"/><circle cx="148" cy="484" r="8"/><circle cx="270" cy="362" r="8"/><circle cx="149" cy="471" r="8"/><circle cx="79" cy="537" r="8"/><circle cx="174" cy="328" r="8"/><circle cx="136" cy="442" r="8"/><circle cx="132" cy="501" r="8"/><circle cx="288" cy="390" r="8"/><circle cx="352" cy="339" r="8"/><circle cx="155" cy="422" r="8"/><circle cx="258" cy="445" r="8"/><circle cx="113" cy="425" r="8"/><circle cx="247" cy="422" r="8"/><circle cx="349" cy="204" r="8"/><circle cx="253" cy="346" r="8"/><circle cx="165" cy="449" r="8"/><circle cx="337" cy="376" r="8"/><circle cx="128" cy="556" r="8"/><circle cx="301" cy="207" r="8"/><circle cx="161" cy="343" r="8"/><circle cx="157" cy="458" r="8"/><circle cx="361" cy="224" r="8"/><circle cx="145" cy="514" r="8"/><circle cx="136" cy="392" r="8"/><circle cx="114" cy="505" r="8"/><circle cx="265" cy="437" r="8"/><circle cx="281" cy="301" r="8"/><circle cx="357" cy="191" r="8"/><circle cx="248" cy="232" r="8"/><circle cx="321" cy="267" r="8"/><circle cx="237" cy="227" r="8"/><circle cx="396" cy="223" r="8"/><circle cx="213" cy="306" r="8"/><circle cx="363" cy="242" r="8"/><circle cx="271" cy="369" r="8"/><circle cx="229" cy="433" r="8"/><circle cx="346" cy="194" r="8"/><circle cx="142" cy="569" r="8"/><circle cx="206" cy="315" r="8"/><circle cx="360" cy="294" r="8"/><circle cx="169" cy="351" r="8"/><circle cx="199" cy="498" r="8"/><circle cx="114" cy="521" r="8"/><circle cx="193" cy="439" r="8"/><circle cx="213" cy="403" r="8"/><circle cx="441" cy="248" r="8"/><circle cx="141" cy="362" r="8"/><circle cx="178" cy="498" r="8"/><circle cx="189" cy="350" r="8"/><circle cx="336" cy="365" r="8"/><circle cx="350" cy="220" r="8"/><circle cx="390" cy="194" r="8"/><circle cx="389" cy="275" r="8"/></g></g><g id="g_ctr"><path d="M378 260C401 238 476 230 504 240C532 251 543 292 545 323C547 353 538 404 518 424C497 445 449 453 424 444C399 435 374 402 367 371C359 341 355 282 378 260Z" opacity="0.43"/><g opacity="0.6"><circle cx="519" cy="404" r="8"/><circle cx="486" cy="297" r="8"/><circle cx="484" cy="360" r="8"/><circle cx="485" cy="277" r="8"/><circle cx="392" cy="260" r="8"/><circle cx="542" cy="318" r="8"/><circle cx="483" cy="356" r="8"/><circle cx="432" cy="387" r="8"/><circle cx="391" cy="401" r="8"/><circle cx="412" cy="315" r="8"/><circle cx="460" cy="263" r="8"/><circle cx="411" cy="402" r="8"/><circle cx="418" cy="318" r="8"/><circle cx="503" cy="286" r="8"/><circle cx="401" cy="285" r="8"/><circle cx="435" cy="315" r="8"/><circle cx="481" cy="336" r="8"/><circle cx="485" cy="411" r="8"/><circle cx="445" cy="264" r="8"/><circle cx="449" cy="385" r="8"/><circle cx="383" cy="264" r="8"/><circle cx="452" cy="276" r="8"/><circle cx="408" cy="330" r="8"/><circle cx="431" cy="336" r="8"/><circle cx="534" cy="353" r="8"/><circle cx="379" cy="286" r="8"/><circle cx="499" cy="355" r="8"/><circle cx="535" cy="347" r="8"/><circle cx="409" cy="275" r="8"/><circle cx="521" cy="283" r="8"/><circle cx="381" cy="294" r="8"/><circle cx="532" cy="334" r="8"/><circle cx="497" cy="255" r="8"/><circle cx="448" cy="305" r="8"/><circle cx="403" cy="375" r="8"/><circle cx="431" cy="265" r="8"/><circle cx="483" cy="345" r="8"/><circle cx="371" cy="336" r="8"/><circle cx="499" cy="350" r="8"/><circle cx="408" cy="342" r="8"/><circle cx="475" cy="373" r="8"/><circle cx="393" cy="404" r="8"/><circle cx="520" cy="315" r="8"/><circle cx="407" cy="362" r="8"/><circle cx="445" cy="269" r="8"/><circle cx="401" cy="393" r="8"/><circle cx="471" cy="432" r="8"/><circle cx="438" cy="379" r="8"/><circle cx="408" cy="337" r="8"/><circle cx="458" cy="433" r="8"/></g></g><g id="g_right"><path d="M756 244C777 223 818 190 847 177C876 165 901 162 927 170C953 177 989 199 1003 225C1017 250 1018 291 1012 323C1006 354 986 397 966 413C946 428 915 423 893 417C871 410 857 385 836 373C815 362 786 358 767 346C748 334 721 320 719 303C717 286 734 265 756 244Z" opacity="0.65"/><g opacity="0.6"><circle cx="901" cy="223" r="8"/><circle cx="963" cy="219" r="8"/><circle cx="813" cy="270" r="8"/><circle cx="819" cy="335" r="8"/><circle cx="794" cy="282" r="8"/><circle cx="884" cy="345" r="8"/><circle cx="872" cy="313" r="8"/><circle cx="890" cy="281" r="8"/><circle cx="913" cy="382" r="8"/><circle cx="999" cy="236" r="8"/><circle cx="995" cy="270" r="8"/><circle cx="804" cy="241" r="8"/><circle cx="842" cy="300" r="8"/><circle cx="968" cy="369" r="8"/><circle cx="910" cy="296" r="8"/><circle cx="912" cy="314" r="8"/><circle cx="954" cy="392" r="8"/><circle cx="886" cy="214" r="8"/><circle cx="922" cy="233" r="8"/><circle cx="788" cy="260" r="8"/><circle cx="872" cy="337" r="8"/><circle cx="902" cy="286" r="8"/><circle cx="916" cy="367" r="8"/><circle cx="917" cy="345" r="8"/><circle cx="909" cy="214" r="8"/><circle cx="787" cy="276" r="8"/><circle cx="983" cy="227" r="8"/><circle cx="934" cy="258" r="8"/><circle cx="913" cy="359" r="8"/><circle cx="782" cy="235" r="8"/><circle cx="838" cy="274" r="8"/><circle cx="742" cy="313" r="8"/><circle cx="995" cy="312" r="8"/><circle cx="823" cy="344" r="8"/><circle cx="847" cy="213" r="8"/><circle cx="917" cy="209" r="8"/><circle cx="944" cy="376" r="8"/><circle cx="907" cy="326" r="8"/><circle cx="925" cy="408" r="8"/><circle cx="807" cy="233" r="8"/><circle cx="960" cy="318" r="8"/><circle cx="968" cy="386" r="8"/><circle cx="891" cy="219" r="8"/><circle cx="723" cy="302" r="8"/><circle cx="931" cy="237" r="8"/><circle cx="770" cy="341" r="8"/><circle cx="797" cy="345" r="8"/><circle cx="817" cy="299" r="8"/><circle cx="813" cy="273" r="8"/><circle cx="859" cy="233" r="8"/><circle cx="902" cy="342" r="8"/><circle cx="932" cy="254" r="8"/><circle cx="863" cy="216" r="8"/><circle cx="991" cy="308" r="8"/><circle cx="922" cy="265" r="8"/><circle cx="929" cy="226" r="8"/><circle cx="952" cy="368" r="8"/><circle cx="747" cy="314" r="8"/><circle cx="775" cy="344" r="8"/><circle cx="954" cy="365" r="8"/><circle cx="913" cy="309" r="8"/><circle cx="890" cy="196" r="8"/><circle cx="905" cy="229" r="8"/><circle cx="795" cy="274" r="8"/><circle cx="875" cy="349" r="8"/><circle cx="784" cy="241" r="8"/><circle cx="906" cy="340" r="8"/><circle cx="899" cy="392" r="8"/><circle cx="779" cy="246" r="8"/><circle cx="913" cy="234" r="8"/><circle cx="945" cy="374" r="8"/><circle cx="929" cy="406" r="8"/><circle cx="952" cy="246" r="8"/><circle cx="811" cy="348" r="8"/><circle cx="869" cy="207" r="8"/><circle cx="854" cy="218" r="8"/><circle cx="754" cy="295" r="8"/><circle cx="872" cy="259" r="8"/><circle cx="929" cy="300" r="8"/><circle cx="946" cy="196" r="8"/><circle cx="861" cy="232" r="8"/><circle cx="915" cy="224" r="8"/><circle cx="812" cy="287" r="8"/><circle cx="928" cy="360" r="8"/><circle cx="828" cy="280" r="8"/><circle cx="900" cy="196" r="8"/><circle cx="852" cy="327" r="8"/><circle cx="757" cy="285" r="8"/><circle cx="900" cy="244" r="8"/><circle cx="945" cy="278" r="8"/><circle cx="744" cy="267" r="8"/><circle cx="944" cy="203" r="8"/><circle cx="767" cy="301" r="8"/><circle cx="963" cy="211" r="8"/><circle cx="844" cy="253" r="8"/><circle cx="795" cy="353" r="8"/><circle cx="896" cy="241" r="8"/><circle cx="855" cy="346" r="8"/><circle cx="934" cy="202" r="8"/><circle cx="818" cy="231" r="8"/><circle cx="794" cy="286" r="8"/><circle cx="969" cy="249" r="8"/><circle cx="819" cy="216" r="8"/><circle cx="841" cy="373" r="8"/><circle cx="972" cy="312" r="8"/><circle cx="897" cy="392" r="8"/><circle cx="998" cy="250" r="8"/><circle cx="967" cy="372" r="8"/><circle cx="797" cy="260" r="8"/><circle cx="829" cy="257" r="8"/><circle cx="830" cy="197" r="8"/><circle cx="839" cy="327" r="8"/><circle cx="979" cy="356" r="8"/><circle cx="932" cy="356" r="8"/><circle cx="957" cy="232" r="8"/><circle cx="911" cy="264" r="8"/><circle cx="965" cy="203" r="8"/><circle cx="877" cy="253" r="8"/><circle cx="959" cy="255" r="8"/><circle cx="966" cy="379" r="8"/><circle cx="994" cy="353" r="8"/><circle cx="917" cy="331" r="8"/><circle cx="879" cy="282" r="8"/><circle cx="818" cy="363" r="8"/><circle cx="948" cy="384" r="8"/><circle cx="782" cy="254" r="8"/><circle cx="952" cy="226" r="8"/><circle cx="936" cy="219" r="8"/><circle cx="854" cy="269" r="8"/><circle cx="954" cy="405" r="8"/><circle cx="810" cy="326" r="8"/><circle cx="981" cy="286" r="8"/><circle cx="982" cy="351" r="8"/><circle cx="887" cy="196" r="8"/><circle cx="891" cy="374" r="8"/></g></g><g id="g_stream"><path d="M504 554C518 540 554 527 573 534C591 541 608 564 614 597C620 630 616 701 609 734C602 767 588 786 573 797C557 807 529 814 515 797C502 780 494 725 490 695C486 665 488 640 490 616C492 593 490 567 504 554Z" opacity="0.43"/><g opacity="0.6"><circle cx="554" cy="661" r="8"/><circle cx="542" cy="765" r="8"/><circle cx="572" cy="589" r="8"/><circle cx="535" cy="630" r="8"/><circle cx="609" cy="717" r="8"/><circle cx="495" cy="689" r="8"/><circle cx="544" cy="723" r="8"/><circle cx="543" cy="558" r="8"/><circle cx="555" cy="750" r="8"/><circle cx="588" cy="628" r="8"/><circle cx="518" cy="730" r="8"/><circle cx="589" cy="592" r="8"/><circle cx="544" cy="634" r="8"/><circle cx="578" cy="778" r="8"/><circle cx="515" cy="613" r="8"/><circle cx="531" cy="726" r="8"/><circle cx="513" cy="678" r="8"/><circle cx="552" cy="710" r="8"/><circle cx="588" cy="582" r="8"/><circle cx="603" cy="679" r="8"/><circle cx="584" cy="762" r="8"/><circle cx="535" cy="777" r="8"/><circle cx="552" cy="770" r="8"/><circle cx="553" cy="779" r="8"/><circle cx="559" cy="572" r="8"/><circle cx="568" cy="745" r="8"/><circle cx="543" cy="692" r="8"/><circle cx="522" cy="607" r="8"/><circle cx="542" cy="669" r="8"/><circle cx="548" cy="558" r="8"/><circle cx="491" cy="624" r="8"/><circle cx="579" cy="731" r="8"/><circle cx="519" cy="601" r="8"/><circle cx="554" cy="580" r="8"/><circle cx="565" cy="772" r="8"/><circle cx="515" cy="688" r="8"/><circle cx="579" cy="731" r="8"/><circle cx="578" cy="721" r="8"/><circle cx="524" cy="754" r="8"/><circle cx="607" cy="650" r="8"/><circle cx="589" cy="712" r="8"/><circle cx="508" cy="655" r="8"/><circle cx="569" cy="796" r="8"/><circle cx="532" cy="735" r="8"/><circle cx="520" cy="586" r="8"/><circle cx="510" cy="642" r="8"/><circle cx="567" cy="614" r="8"/><circle cx="510" cy="592" r="8"/></g></g><g id="g_mono"><path d="M504 769C522 754 569 751 600 758C631 764 669 790 692 809C714 827 733 852 737 871C741 890 734 912 714 922C695 933 650 935 618 934C587 933 548 928 527 914C505 901 494 876 490 852C486 827 486 785 504 769Z" opacity="0.72"/><g opacity="0.6"><circle cx="511" cy="792" r="8"/><circle cx="568" cy="847" r="8"/><circle cx="536" cy="842" r="8"/><circle cx="599" cy="929" r="8"/><circle cx="610" cy="924" r="8"/><circle cx="607" cy="793" r="8"/><circle cx="636" cy="783" r="8"/><circle cx="532" cy="771" r="8"/><circle cx="663" cy="928" r="8"/><circle cx="590" cy="820" r="8"/><circle cx="595" cy="820" r="8"/><circle cx="661" cy="827" r="8"/><circle cx="528" cy="910" r="8"/><circle cx="700" cy="886" r="8"/><circle cx="578" cy="869" r="8"/><circle cx="597" cy="810" r="8"/><circle cx="627" cy="874" r="8"/><circle cx="672" cy="925" r="8"/><circle cx="526" cy="822" r="8"/><circle cx="701" cy="897" r="8"/><circle cx="636" cy="877" r="8"/><circle cx="574" cy="924" r="8"/><circle cx="626" cy="829" r="8"/><circle cx="535" cy="778" r="8"/><circle cx="712" cy="899" r="8"/><circle cx="497" cy="815" r="8"/><circle cx="609" cy="845" r="8"/><circle cx="580" cy="915" r="8"/><circle cx="577" cy="851" r="8"/><circle cx="720" cy="870" r="8"/><circle cx="608" cy="816" r="8"/><circle cx="586" cy="865" r="8"/><circle cx="582" cy="826" r="8"/><circle cx="580" cy="919" r="8"/><circle cx="623" cy="806" r="8"/><circle cx="572" cy="902" r="8"/><circle cx="530" cy="879" r="8"/><circle cx="526" cy="798" r="8"/><circle cx="504" cy="804" r="8"/><circle cx="671" cy="885" r="8"/><circle cx="626" cy="920" r="8"/><circle cx="597" cy="792" r="8"/><circle cx="675" cy="909" r="8"/><circle cx="586" cy="774" r="8"/><circle cx="706" cy="890" r="8"/><circle cx="638" cy="930" r="8"/><circle cx="665" cy="869" r="8"/><circle cx="518" cy="786" r="8"/><circle cx="535" cy="865" r="8"/><circle cx="656" cy="929" r="8"/><circle cx="598" cy="827" r="8"/><circle cx="553" cy="799" r="8"/><circle cx="535" cy="784" r="8"/><circle cx="577" cy="888" r="8"/><circle cx="505" cy="851" r="8"/><circle cx="599" cy="897" r="8"/><circle cx="632" cy="837" r="8"/><circle cx="708" cy="864" r="8"/><circle cx="573" cy="827" r="8"/><circle cx="716" cy="857" r="8"/><circle cx="525" cy="788" r="8"/><circle cx="585" cy="879" r="8"/><circle cx="684" cy="848" r="8"/><circle cx="593" cy="876" r="8"/><circle cx="631" cy="886" r="8"/><circle cx="591" cy="927" r="8"/><circle cx="642" cy="813" r="8"/><circle cx="583" cy="805" r="8"/><circle cx="714" cy="897" r="8"/><circle cx="685" cy="902" r="8"/><circle cx="569" cy="891" r="8"/><circle cx="555" cy="865" r="8"/><circle cx="529" cy="909" r="8"/><circle cx="611" cy="806" r="8"/><circle cx="720" cy="891" r="8"/><circle cx="527" cy="892" r="8"/><circle cx="632" cy="918" r="8"/><circle cx="635" cy="833" r="8"/><circle cx="559" cy="778" r="8"/><circle cx="705" cy="836" r="8"/><circle cx="670" cy="803" r="8"/><circle cx="671" cy="872" r="8"/><circle cx="514" cy="845" r="8"/><circle cx="652" cy="807" r="8"/><circle cx="582" cy="920" r="8"/><circle cx="596" cy="858" r="8"/><circle cx="690" cy="891" r="8"/><circle cx="603" cy="910" r="8"/><circle cx="589" cy="925" r="8"/><circle cx="607" cy="779" r="8"/><circle cx="648" cy="824" r="8"/><circle cx="552" cy="901" r="8"/><circle cx="498" cy="842" r="8"/><circle cx="605" cy="840" r="8"/><circle cx="668" cy="886" r="8"/><circle cx="575" cy="922" r="8"/><circle cx="536" cy="782" r="8"/></g></g><g id="g_bl1"><path d="M110 848C120 837 170 843 184 852C197 861 203 892 193 903C183 913 138 924 124 914C110 905 101 858 110 848Z" opacity="0.58"/><g opacity="0.6"><circle cx="178" cy="856" r="8"/><circle cx="126" cy="881" r="8"/><circle cx="138" cy="859" r="8"/><circle cx="187" cy="879" r="8"/><circle cx="175" cy="864" r="8"/><circle cx="185" cy="889" r="8"/><circle cx="190" cy="899" r="8"/><circle cx="162" cy="883" r="8"/><circle cx="181" cy="877" r="8"/><circle cx="177" cy="893" r="8"/></g></g><g id="g_bl2"><path d="M248 887C261 880 320 883 335 891C349 899 348 927 335 934C321 941 267 942 252 934C238 926 234 894 248 887Z" opacity="0.58"/><g opacity="0.6"><circle cx="312" cy="898" r="8"/><circle cx="288" cy="926" r="8"/><circle cx="331" cy="930" r="8"/><circle cx="262" cy="919" r="8"/><circle cx="296" cy="906" r="8"/><circle cx="262" cy="893" r="8"/><circle cx="289" cy="910" r="8"/><circle cx="271" cy="904" r="8"/><circle cx="296" cy="923" r="8"/></g></g><g id="g_net"><path d="M527 483C541 461 606 458 641 464C676 469 723 493 737 518C752 544 744 599 728 616C712 634 670 630 641 626C612 623 573 621 554 597C535 573 512 505 527 483Z" opacity="0.25"/><g opacity="0.6"><circle cx="651" cy="490" r="8"/><circle cx="713" cy="523" r="8"/><circle cx="556" cy="558" r="8"/><circle cx="730" cy="526" r="8"/><circle cx="642" cy="515" r="8"/><circle cx="533" cy="497" r="8"/><circle cx="553" cy="510" r="8"/><circle cx="659" cy="555" r="8"/><circle cx="726" cy="575" r="8"/><circle cx="660" cy="552" r="8"/><circle cx="708" cy="573" r="8"/><circle cx="603" cy="562" r="8"/><circle cx="643" cy="497" r="8"/><circle cx="634" cy="483" r="8"/><circle cx="703" cy="572" r="8"/><circle cx="671" cy="614" r="8"/><circle cx="614" cy="610" r="8"/><circle cx="651" cy="598" r="8"/><circle cx="565" cy="599" r="8"/><circle cx="635" cy="516" r="8"/><circle cx="730" cy="530" r="8"/><circle cx="584" cy="488" r="8"/><circle cx="603" cy="571" r="8"/><circle cx="664" cy="490" r="8"/><circle cx="680" cy="553" r="8"/><circle cx="602" cy="610" r="8"/><circle cx="580" cy="487" r="8"/></g></g><g id="stray" opacity="0.5"><circle cx="371" cy="352" r="6"/><circle cx="564" cy="580" r="6"/><circle cx="372" cy="475" r="6"/><circle cx="558" cy="496" r="6"/><circle cx="485" cy="490" r="6"/><circle cx="306" cy="320" r="6"/><circle cx="490" cy="382" r="6"/><circle cx="640" cy="384" r="6"/><circle cx="670" cy="384" r="6"/><circle cx="341" cy="467" r="6"/><circle cx="474" cy="417" r="6"/><circle cx="644" cy="377" r="6"/><circle cx="601" cy="592" r="6"/><circle cx="503" cy="476" r="6"/><circle cx="715" cy="511" r="6"/><circle cx="381" cy="324" r="6"/><circle cx="336" cy="416" r="6"/><circle cx="339" cy="527" r="6"/><circle cx="490" cy="407" r="6"/><circle cx="530" cy="627" r="6"/><circle cx="409" cy="354" r="6"/><circle cx="437" cy="413" r="6"/><circle cx="709" cy="547" r="6"/><circle cx="492" cy="358" r="6"/><circle cx="320" cy="342" r="6"/><circle cx="681" cy="526" r="6"/><circle cx="370" cy="518" r="6"/><circle cx="326" cy="477" r="6"/><circle cx="450" cy="335" r="6"/><circle cx="634" cy="550" r="6"/><circle cx="529" cy="358" r="6"/><circle cx="601" cy="451" r="6"/><circle cx="597" cy="332" r="6"/><circle cx="706" cy="301" r="6"/><circle cx="400" cy="439" r="6"/><circle cx="389" cy="330" r="6"/><circle cx="609" cy="647" r="6"/><circle cx="450" cy="393" r="6"/><circle cx="601" cy="377" r="6"/><circle cx="480" cy="540" r="6"/><circle cx="493" cy="354" r="6"/><circle cx="331" cy="490" r="6"/><circle cx="745" cy="621" r="6"/><circle cx="344" cy="475" r="6"/><circle cx="519" cy="367" r="6"/><circle cx="601" cy="473" r="6"/><circle cx="663" cy="402" r="6"/><circle cx="720" cy="585" r="6"/><circle cx="513" cy="349" r="6"/><circle cx="517" cy="344" r="6"/><circle cx="608" cy="544" r="6"/><circle cx="560" cy="641" r="6"/><circle cx="320" cy="550" r="6"/><circle cx="660" cy="339" r="6"/><circle cx="444" cy="318" r="6"/><circle cx="562" cy="553" r="6"/><circle cx="456" cy="543" r="6"/><circle cx="465" cy="549" r="6"/><circle cx="424" cy="642" r="6"/><circle cx="497" cy="301" r="6"/></g></defs>
<g transform="matrix(0.05500 0 0 0.06780 30.7 470.5)" filter="url(#soft)"><use href="#cd4" fill="#ef6672"/><use href="#cd8" fill="#f39236"/><use href="#hspc" fill="#e3aa22"/><use href="#lymph" fill="#5ec0dc"/><use href="#gc" fill="#86c466"/><use href="#nk" fill="#8db94a"/><use href="#net" fill="#b6bef2"/><use href="#myel" fill="#a2d6f4"/><use href="#mono" fill="#d6ac28"/><use href="#plasma" fill="#6aaa4e"/><use href="#bcell" fill="#5cb0ec"/><use href="#stray" fill="#b8c4e8"/></g>
<line x1="30.5" y1="470.5" x2="30.5" y2="539.17" stroke="#1e1e1e" stroke-width="1.35"/>
<line x1="28.2" y1="482.1" x2="30.5" y2="482.1" stroke="#1e1e1e" stroke-width="1"/>
<text x="25.2" y="484.26" font-size="6" text-anchor="end" fill="#111" stroke="#111" stroke-width="0.16">5</text>
<line x1="28.2" y1="499" x2="30.5" y2="499" stroke="#1e1e1e" stroke-width="1"/>
<text x="25.2" y="501.16" font-size="6" text-anchor="end" fill="#111" stroke="#111" stroke-width="0.16">0</text>
<line x1="28.2" y1="515.7" x2="30.5" y2="515.7" stroke="#1e1e1e" stroke-width="1"/>
<text x="25.2" y="517.86" font-size="6" text-anchor="end" fill="#111" stroke="#111" stroke-width="0.16">−5</text>
<line x1="28.2" y1="532.2" x2="30.5" y2="532.2" stroke="#1e1e1e" stroke-width="1"/>
<text x="25.2" y="534.36" font-size="6" text-anchor="end" fill="#111" stroke="#111" stroke-width="0.16">−10</text>
<line x1="29.82" y1="538.5" x2="85.7" y2="538.5" stroke="#1e1e1e" stroke-width="1.35"/>
<line x1="42.3" y1="538.3" x2="42.3" y2="540.5" stroke="#1e1e1e" stroke-width="0.8"/>
<text x="42.3" y="547.16" font-size="6" text-anchor="middle" fill="#111" stroke="#111" stroke-width="0.16">−5</text>
<line x1="55.4" y1="538.3" x2="55.4" y2="540.5" stroke="#1e1e1e" stroke-width="0.8"/>
<text x="55.4" y="547.16" font-size="6" text-anchor="middle" fill="#111" stroke="#111" stroke-width="0.16">0</text>
<line x1="68.8" y1="538.3" x2="68.8" y2="540.5" stroke="#1e1e1e" stroke-width="0.8"/>
<text x="68.8" y="547.16" font-size="6" text-anchor="middle" fill="#111" stroke="#111" stroke-width="0.16">5</text>
<line x1="82.9" y1="538.3" x2="82.9" y2="540.5" stroke="#1e1e1e" stroke-width="0.8"/>
<text x="82.9" y="547.16" font-size="6" text-anchor="middle" fill="#111" stroke="#111" stroke-width="0.16">10</text>
<text x="59.1" y="556.26" font-size="7.4" text-anchor="middle" font-weight="bold" fill="#111" stroke="#111" stroke-width="0.16" textLength="22.2" lengthAdjust="spacingAndGlyphs">UMAP_1</text>
<text transform="translate(14.04 504.15) rotate(-90)" x="0" y="0" font-size="7.4" font-weight="bold" text-anchor="middle" fill="#111" textLength="22.3" lengthAdjust="spacingAndGlyphs">UMAP_2</text>
<text x="52.8" y="474.34" font-size="2.6" text-anchor="middle" fill="#606060" stroke="#606060" stroke-width="0">CD4+ T Cells</text>
<text x="40.6" y="486.34" font-size="2.6" text-anchor="middle" fill="#606060" stroke="#606060" stroke-width="0">CD8+ T Cells</text>
<text x="75.8" y="480.34" font-size="2.6" text-anchor="middle" fill="#606060" stroke="#606060" stroke-width="0">HSPC</text>
<text x="63.2" y="490.14" font-size="2.6" text-anchor="middle" fill="#606060" stroke="#606060" stroke-width="0">Lymphoid</text>
<text x="63.2" y="492.64" font-size="2.6" text-anchor="middle" fill="#606060" stroke="#606060" stroke-width="0">Progenitors</text>
<text x="74.5" y="499.54" font-size="2.6" text-anchor="middle" fill="#606060" stroke="#606060" stroke-width="0">pDC</text>
<text x="44.3" y="507.54" font-size="2.6" text-anchor="middle" fill="#606060" stroke="#606060" stroke-width="0">NK Cells</text>
<text x="62.9" y="505.04" font-size="2.6" text-anchor="middle" fill="#606060" stroke="#606060" stroke-width="0">T Progenitors</text>
<text x="50.8" y="511.04" font-size="2.6" text-anchor="middle" fill="#606060" stroke="#606060" stroke-width="0">Mast Cells</text>
<text x="75.5" y="511.04" font-size="2.6" text-anchor="middle" fill="#606060" stroke="#606060" stroke-width="0">Neutrophils</text>
<text x="50.5" y="516.84" font-size="2.6" text-anchor="middle" fill="#606060" stroke="#606060" stroke-width="0">Myeloid</text>
<text x="50.5" y="519.64" font-size="2.6" text-anchor="middle" fill="#606060" stroke="#606060" stroke-width="0">Progenitors</text>
<text x="72.4" y="517.74" font-size="2.6" text-anchor="middle" fill="#606060" stroke="#606060" stroke-width="0">Dendritic</text>
<text x="72.4" y="520.64" font-size="2.6" text-anchor="middle" fill="#606060" stroke="#606060" stroke-width="0">Cells</text>
<text x="43.8" y="526.24" font-size="2.6" text-anchor="middle" fill="#606060" stroke="#606060" stroke-width="0">Plasma Cells</text>
<text x="76.4" y="531.84" font-size="2.6" text-anchor="middle" fill="#606060" stroke="#606060" stroke-width="0">Monocytes</text>
<text x="39.2" y="535.24" font-size="2.6" text-anchor="middle" fill="#606060" stroke="#606060" stroke-width="0">B Cells</text>
<line x1="36.9" y1="522" x2="36.9" y2="529.6" stroke="#777" stroke-width="0.3"/>
<g transform="matrix(0.05500 0 0 0.06280 129.3 475.1)" filter="url(#soft2)"><use href="#g_cd4" fill="#c8c8d2"/><use href="#g_band" fill="#c8c8d2"/><use href="#g_ctr" fill="#c8c8d2"/><use href="#g_right" fill="#c6c6d8"/><use href="#g_stream" fill="#c8c8d2"/><use href="#g_mono" fill="#bcbcdc"/><use href="#g_bl1" fill="#c8c8d2"/><use href="#g_bl2" fill="#c8c8d2"/><use href="#g_net" fill="#c8c8d2"/></g>
<line x1="129.5" y1="475.1" x2="129.5" y2="538.57" stroke="#1e1e1e" stroke-width="1.35"/>
<line x1="127.2" y1="486.7" x2="129.5" y2="486.7" stroke="#1e1e1e" stroke-width="1"/>
<text x="124.2" y="488.86" font-size="6" text-anchor="end" fill="#111" stroke="#111" stroke-width="0.16">5</text>
<line x1="127.2" y1="501.5" x2="129.5" y2="501.5" stroke="#1e1e1e" stroke-width="1"/>
<text x="124.2" y="503.66" font-size="6" text-anchor="end" fill="#111" stroke="#111" stroke-width="0.16">0</text>
<line x1="127.2" y1="516.8" x2="129.5" y2="516.8" stroke="#1e1e1e" stroke-width="1"/>
<text x="124.2" y="518.96" font-size="6" text-anchor="end" fill="#111" stroke="#111" stroke-width="0.16">−5</text>
<line x1="127.2" y1="531.6" x2="129.5" y2="531.6" stroke="#1e1e1e" stroke-width="1"/>
<text x="124.2" y="533.76" font-size="6" text-anchor="end" fill="#111" stroke="#111" stroke-width="0.16">−10</text>
<line x1="128.82" y1="537.9" x2="184.3" y2="537.9" stroke="#1e1e1e" stroke-width="1.35"/>
<line x1="129.9" y1="537.9" x2="129.9" y2="540.1" stroke="#1e1e1e" stroke-width="0.8"/>
<text x="129.9" y="547.06" font-size="6" text-anchor="middle" fill="#111" stroke="#111" stroke-width="0.16">−10</text>
<line x1="143.2" y1="537.9" x2="143.2" y2="540.1" stroke="#1e1e1e" stroke-width="0.8"/>
<text x="143.2" y="547.06" font-size="6" text-anchor="middle" fill="#111" stroke="#111" stroke-width="0.16">−5</text>
<line x1="156.3" y1="537.9" x2="156.3" y2="540.1" stroke="#1e1e1e" stroke-width="0.8"/>
<text x="156.3" y="547.06" font-size="6" text-anchor="middle" fill="#111" stroke="#111" stroke-width="0.16">0</text>
<line x1="169.5" y1="537.9" x2="169.5" y2="540.1" stroke="#1e1e1e" stroke-width="0.8"/>
<text x="169.5" y="547.06" font-size="6" text-anchor="middle" fill="#111" stroke="#111" stroke-width="0.16">5</text>
<line x1="182.2" y1="537.9" x2="182.2" y2="540.1" stroke="#1e1e1e" stroke-width="0.8"/>
<text x="182.2" y="547.06" font-size="6" text-anchor="middle" fill="#111" stroke="#111" stroke-width="0.16">10</text>
<text x="158.45" y="556.06" font-size="7.4" text-anchor="middle" font-weight="bold" fill="#111" stroke="#111" stroke-width="0.16" textLength="23.3" lengthAdjust="spacingAndGlyphs">UMAP_1</text>
<text transform="translate(111.84 504.65) rotate(-90)" x="0" y="0" font-size="7.4" font-weight="bold" text-anchor="middle" fill="#111" textLength="23.3" lengthAdjust="spacingAndGlyphs">UMAP_2</text>
<text x="156.75" y="471.82" font-size="8.4" text-anchor="middle" fill="#111" stroke="#111" stroke-width="0.16" textLength="33.9" lengthAdjust="spacingAndGlyphs">SLC27A1</text>
<rect x="190.3" y="500.5" width="2.8" height="11.6" fill="url(#cb)"/>
<text x="193.9" y="502.51" font-size="2.8" text-anchor="start" fill="#666" stroke="#666" stroke-width="0">3</text>
<text x="193.9" y="505.71" font-size="2.8" text-anchor="start" fill="#666" stroke="#666" stroke-width="0">2</text>
<text x="193.9" y="508.91" font-size="2.8" text-anchor="start" fill="#666" stroke="#666" stroke-width="0">1</text>
<text x="193.9" y="512.11" font-size="2.8" text-anchor="start" fill="#666" stroke="#666" stroke-width="0">0</text>
<g transform="matrix(0.05380 0 0 0.06280 228.4 475.1)" filter="url(#soft2)"><use href="#g_cd4" fill="#c9c9c9"/><use href="#g_band" fill="#c9c9c9"/><use href="#g_ctr" fill="#c9c9c9"/><use href="#g_right" fill="#c9c9c9"/><use href="#g_stream" fill="#c9c9c9"/><use href="#g_mono" fill="#c9c9c9"/><use href="#g_bl1" fill="#c9c9c9"/><use href="#g_bl2" fill="#c9c9c9"/><use href="#g_net" fill="#c9c9c9"/></g>
<line x1="228.5" y1="475.1" x2="228.5" y2="538.57" stroke="#1e1e1e" stroke-width="1.35"/>
<line x1="226.2" y1="486.7" x2="228.5" y2="486.7" stroke="#1e1e1e" stroke-width="1"/>
<text x="223.2" y="488.86" font-size="6" text-anchor="end" fill="#111" stroke="#111" stroke-width="0.16">5</text>
<line x1="226.2" y1="502" x2="228.5" y2="502" stroke="#1e1e1e" stroke-width="1"/>
<text x="223.2" y="504.16" font-size="6" text-anchor="end" fill="#111" stroke="#111" stroke-width="0.16">0</text>
<line x1="226.2" y1="516.8" x2="228.5" y2="516.8" stroke="#1e1e1e" stroke-width="1"/>
<text x="223.2" y="518.96" font-size="6" text-anchor="end" fill="#111" stroke="#111" stroke-width="0.16">−5</text>
<line x1="226.2" y1="531.6" x2="228.5" y2="531.6" stroke="#1e1e1e" stroke-width="1"/>
<text x="223.2" y="533.76" font-size="6" text-anchor="end" fill="#111" stroke="#111" stroke-width="0.16">−10</text>
<line x1="227.82" y1="537.9" x2="282.2" y2="537.9" stroke="#1e1e1e" stroke-width="1.35"/>
<line x1="228.8" y1="537.9" x2="228.8" y2="540.1" stroke="#1e1e1e" stroke-width="0.8"/>
<text x="228.8" y="547.06" font-size="6" text-anchor="middle" fill="#111" stroke="#111" stroke-width="0.16">−10</text>
<line x1="242" y1="537.9" x2="242" y2="540.1" stroke="#1e1e1e" stroke-width="0.8"/>
<text x="242" y="547.06" font-size="6" text-anchor="middle" fill="#111" stroke="#111" stroke-width="0.16">−5</text>
<line x1="254.2" y1="537.9" x2="254.2" y2="540.1" stroke="#1e1e1e" stroke-width="0.8"/>
<text x="254.2" y="547.06" font-size="6" text-anchor="middle" fill="#111" stroke="#111" stroke-width="0.16">0</text>
<line x1="266.9" y1="537.9" x2="266.9" y2="540.1" stroke="#1e1e1e" stroke-width="0.8"/>
<text x="266.9" y="547.06" font-size="6" text-anchor="middle" fill="#111" stroke="#111" stroke-width="0.16">5</text>
<line x1="279.6" y1="537.9" x2="279.6" y2="540.1" stroke="#1e1e1e" stroke-width="0.8"/>
<text x="279.6" y="547.06" font-size="6" text-anchor="middle" fill="#111" stroke="#111" stroke-width="0.16">10</text>
<text x="255.6" y="556.06" font-size="7.4" text-anchor="middle" font-weight="bold" fill="#111" stroke="#111" stroke-width="0.16" textLength="21.8" lengthAdjust="spacingAndGlyphs">UMAP_1</text>
<text transform="translate(211.24 504.65) rotate(-90)" x="0" y="0" font-size="7.4" font-weight="bold" text-anchor="middle" fill="#111" textLength="23.3" lengthAdjust="spacingAndGlyphs">UMAP_2</text>
<text x="255.3" y="470.72" font-size="8.4" text-anchor="middle" fill="#111" stroke="#111" stroke-width="0.16" textLength="33.8" lengthAdjust="spacingAndGlyphs">SLC27A2</text>
<rect x="287.7" y="500.5" width="2.8" height="11.6" fill="url(#cb)"/>
<text x="291.3" y="502.51" font-size="2.8" text-anchor="start" fill="#666" stroke="#666" stroke-width="0">3</text>
<text x="291.3" y="505.71" font-size="2.8" text-anchor="start" fill="#666" stroke="#666" stroke-width="0">2</text>
<text x="291.3" y="508.91" font-size="2.8" text-anchor="start" fill="#666" stroke="#666" stroke-width="0">1</text>
<text x="291.3" y="512.11" font-size="2.8" text-anchor="start" fill="#666" stroke="#666" stroke-width="0">0</text>
<g transform="matrix(0.05510 0 0 0.06310 30.6 577.4)" filter="url(#soft2)"><use href="#g_cd4" fill="#cbcbcd"/><use href="#g_band" fill="#cbcbcd"/><use href="#g_ctr" fill="#cbcbcd"/><use href="#g_right" fill="#c4c0dc"/><use href="#g_stream" fill="#cbcbcd"/><use href="#g_mono" fill="#cbcbcd"/><use href="#g_bl1" fill="#cbcbcd"/><use href="#g_bl2" fill="#cbcbcd"/><use href="#g_net" fill="#cbcbcd"/></g>
<line x1="30.5" y1="577.4" x2="30.5" y2="641.17" stroke="#1e1e1e" stroke-width="1.35"/>
<line x1="28.2" y1="584.6" x2="30.5" y2="584.6" stroke="#1e1e1e" stroke-width="1"/>
<text x="25.2" y="586.76" font-size="6" text-anchor="end" fill="#111" stroke="#111" stroke-width="0.16">5</text>
<line x1="28.2" y1="601.4" x2="30.5" y2="601.4" stroke="#1e1e1e" stroke-width="1"/>
<text x="25.2" y="603.56" font-size="6" text-anchor="end" fill="#111" stroke="#111" stroke-width="0.16">0</text>
<line x1="28.2" y1="618.2" x2="30.5" y2="618.2" stroke="#1e1e1e" stroke-width="1"/>
<text x="25.2" y="620.36" font-size="6" text-anchor="end" fill="#111" stroke="#111" stroke-width="0.16">−5</text>
<line x1="28.2" y1="635.1" x2="30.5" y2="635.1" stroke="#1e1e1e" stroke-width="1"/>
<text x="25.2" y="637.26" font-size="6" text-anchor="end" fill="#111" stroke="#111" stroke-width="0.16">−10</text>
<line x1="29.82" y1="640.5" x2="85.7" y2="640.5" stroke="#1e1e1e" stroke-width="1.35"/>
<line x1="30.7" y1="640.5" x2="30.7" y2="642.7" stroke="#1e1e1e" stroke-width="0.8"/>
<text x="30.7" y="651.96" font-size="6" text-anchor="middle" fill="#111" stroke="#111" stroke-width="0.16">−10</text>
<line x1="42.3" y1="640.5" x2="42.3" y2="642.7" stroke="#1e1e1e" stroke-width="0.8"/>
<text x="42.3" y="651.96" font-size="6" text-anchor="middle" fill="#111" stroke="#111" stroke-width="0.16">−5</text>
<line x1="55.4" y1="640.5" x2="55.4" y2="642.7" stroke="#1e1e1e" stroke-width="0.8"/>
<text x="55.4" y="651.96" font-size="6" text-anchor="middle" fill="#111" stroke="#111" stroke-width="0.16">0</text>
<line x1="69.4" y1="640.5" x2="69.4" y2="642.7" stroke="#1e1e1e" stroke-width="0.8"/>
<text x="69.4" y="651.96" font-size="6" text-anchor="middle" fill="#111" stroke="#111" stroke-width="0.16">5</text>
<line x1="84.6" y1="640.5" x2="84.6" y2="642.7" stroke="#1e1e1e" stroke-width="0.8"/>
<text x="84.6" y="651.96" font-size="6" text-anchor="middle" fill="#111" stroke="#111" stroke-width="0.16">10</text>
<text x="60.25" y="660.86" font-size="7.4" text-anchor="middle" font-weight="bold" fill="#111" stroke="#111" stroke-width="0.16" textLength="22.5" lengthAdjust="spacingAndGlyphs">UMAP_1</text>
<text transform="translate(14.04 607.4) rotate(-90)" x="0" y="0" font-size="7.4" font-weight="bold" text-anchor="middle" fill="#111" textLength="22.2" lengthAdjust="spacingAndGlyphs">UMAP_2</text>
<text x="58.2" y="573.92" font-size="8.4" text-anchor="middle" fill="#111" stroke="#111" stroke-width="0.16" textLength="33.8" lengthAdjust="spacingAndGlyphs">SLC27A4</text>
<rect x="91.9" y="605.6" width="2.8" height="12.6" fill="url(#cb)"/>
<text x="95.5" y="607.61" font-size="2.8" text-anchor="start" fill="#666" stroke="#666" stroke-width="0">3</text>
<text x="95.5" y="611.14" font-size="2.8" text-anchor="start" fill="#666" stroke="#666" stroke-width="0">2</text>
<text x="95.5" y="614.67" font-size="2.8" text-anchor="start" fill="#666" stroke="#666" stroke-width="0">1</text>
<text x="95.5" y="618.21" font-size="2.8" text-anchor="start" fill="#666" stroke="#666" stroke-width="0">0</text>
<g transform="matrix(0.05500 0 0 0.06350 129.3 577.2)" filter="url(#soft2)"><use href="#g_cd4" fill="#c4c4d6"/><use href="#g_band" fill="#c4c4d6"/><use href="#g_ctr" fill="#c4c4d6"/><use href="#g_right" fill="#bcbcdc"/><use href="#g_stream" fill="#c4c4d6"/><use href="#g_mono" fill="#babadc"/><use href="#g_bl1" fill="#c4c4d6"/><use href="#g_bl2" fill="#c4c4d6"/><use href="#g_net" fill="#c4c4d6"/></g>
<line x1="129.5" y1="577.2" x2="129.5" y2="641.17" stroke="#1e1e1e" stroke-width="1.35"/>
<line x1="127.2" y1="588.8" x2="129.5" y2="588.8" stroke="#1e1e1e" stroke-width="1"/>
<text x="124.2" y="590.96" font-size="6" text-anchor="end" fill="#111" stroke="#111" stroke-width="0.16">5</text>
<line x1="127.2" y1="604.7" x2="129.5" y2="604.7" stroke="#1e1e1e" stroke-width="1"/>
<text x="124.2" y="606.86" font-size="6" text-anchor="end" fill="#111" stroke="#111" stroke-width="0.16">0</text>
<line x1="127.2" y1="619.5" x2="129.5" y2="619.5" stroke="#1e1e1e" stroke-width="1"/>
<text x="124.2" y="621.66" font-size="6" text-anchor="end" fill="#111" stroke="#111" stroke-width="0.16">−5</text>
<line x1="127.2" y1="634.3" x2="129.5" y2="634.3" stroke="#1e1e1e" stroke-width="1"/>
<text x="124.2" y="636.46" font-size="6" text-anchor="end" fill="#111" stroke="#111" stroke-width="0.16">−10</text>
<line x1="128.82" y1="640.5" x2="184.3" y2="640.5" stroke="#1e1e1e" stroke-width="1.35"/>
<line x1="129.9" y1="640.7" x2="129.9" y2="642.9" stroke="#1e1e1e" stroke-width="0.8"/>
<text x="129.9" y="649.86" font-size="6" text-anchor="middle" fill="#111" stroke="#111" stroke-width="0.16">−10</text>
<line x1="143.2" y1="640.7" x2="143.2" y2="642.9" stroke="#1e1e1e" stroke-width="0.8"/>
<text x="143.2" y="649.86" font-size="6" text-anchor="middle" fill="#111" stroke="#111" stroke-width="0.16">−5</text>
<line x1="156.3" y1="640.7" x2="156.3" y2="642.9" stroke="#1e1e1e" stroke-width="0.8"/>
<text x="156.3" y="649.86" font-size="6" text-anchor="middle" fill="#111" stroke="#111" stroke-width="0.16">0</text>
<line x1="169.5" y1="640.7" x2="169.5" y2="642.9" stroke="#1e1e1e" stroke-width="0.8"/>
<text x="169.5" y="649.86" font-size="6" text-anchor="middle" fill="#111" stroke="#111" stroke-width="0.16">5</text>
<line x1="182.2" y1="640.7" x2="182.2" y2="642.9" stroke="#1e1e1e" stroke-width="0.8"/>
<text x="182.2" y="649.86" font-size="6" text-anchor="middle" fill="#111" stroke="#111" stroke-width="0.16">10</text>
<text x="158.45" y="660.86" font-size="7.4" text-anchor="middle" font-weight="bold" fill="#111" stroke="#111" stroke-width="0.16" textLength="23.3" lengthAdjust="spacingAndGlyphs">UMAP_1</text>
<text transform="translate(111.84 607.4) rotate(-90)" x="0" y="0" font-size="7.4" font-weight="bold" text-anchor="middle" fill="#111" textLength="22.2" lengthAdjust="spacingAndGlyphs">UMAP_2</text>
<text x="157.05" y="573.92" font-size="8.4" text-anchor="middle" fill="#111" stroke="#111" stroke-width="0.16" textLength="34.5" lengthAdjust="spacingAndGlyphs">SLC27A5</text>
<rect x="190.3" y="603.2" width="2.8" height="12.1" fill="url(#cb)"/>
<text x="193.9" y="605.21" font-size="2.8" text-anchor="start" fill="#666" stroke="#666" stroke-width="0">3</text>
<text x="193.9" y="608.57" font-size="2.8" text-anchor="start" fill="#666" stroke="#666" stroke-width="0">2</text>
<text x="193.9" y="611.94" font-size="2.8" text-anchor="start" fill="#666" stroke="#666" stroke-width="0">1</text>
<text x="193.9" y="615.31" font-size="2.8" text-anchor="start" fill="#666" stroke="#666" stroke-width="0">0</text>
<g transform="matrix(0.05330 0 0 0.06410 228.4 577.2)" filter="url(#soft2)"><use href="#g_cd4" fill="#cacaca"/><use href="#g_band" fill="#cacaca"/><use href="#g_ctr" fill="#cacaca"/><use href="#g_right" fill="#cacaca"/><use href="#g_stream" fill="#cacaca"/><use href="#g_mono" fill="#cacaca"/><use href="#g_bl1" fill="#cacaca"/><use href="#g_bl2" fill="#cacaca"/><use href="#g_net" fill="#cacaca"/></g>
<line x1="228.5" y1="577.2" x2="228.5" y2="642.17" stroke="#1e1e1e" stroke-width="1.35"/>
<line x1="226.2" y1="589.3" x2="228.5" y2="589.3" stroke="#1e1e1e" stroke-width="1"/>
<text x="223.2" y="591.46" font-size="6" text-anchor="end" fill="#111" stroke="#111" stroke-width="0.16">5</text>
<line x1="226.2" y1="604.1" x2="228.5" y2="604.1" stroke="#1e1e1e" stroke-width="1"/>
<text x="223.2" y="606.26" font-size="6" text-anchor="end" fill="#111" stroke="#111" stroke-width="0.16">0</text>
<line x1="226.2" y1="619.5" x2="228.5" y2="619.5" stroke="#1e1e1e" stroke-width="1"/>
<text x="223.2" y="621.66" font-size="6" text-anchor="end" fill="#111" stroke="#111" stroke-width="0.16">−5</text>
<line x1="226.2" y1="634.3" x2="228.5" y2="634.3" stroke="#1e1e1e" stroke-width="1"/>
<text x="223.2" y="636.46" font-size="6" text-anchor="end" fill="#111" stroke="#111" stroke-width="0.16">−10</text>
<line x1="227.82" y1="641.5" x2="281.7" y2="641.5" stroke="#1e1e1e" stroke-width="1.35"/>
<line x1="227.8" y1="641.3" x2="227.8" y2="643.5" stroke="#1e1e1e" stroke-width="0.8"/>
<text x="227.8" y="649.86" font-size="6" text-anchor="middle" fill="#111" stroke="#111" stroke-width="0.16">−10</text>
<line x1="240.5" y1="641.3" x2="240.5" y2="643.5" stroke="#1e1e1e" stroke-width="0.8"/>
<text x="240.5" y="649.86" font-size="6" text-anchor="middle" fill="#111" stroke="#111" stroke-width="0.16">−5</text>
<line x1="254.2" y1="641.3" x2="254.2" y2="643.5" stroke="#1e1e1e" stroke-width="0.8"/>
<text x="254.2" y="649.86" font-size="6" text-anchor="middle" fill="#111" stroke="#111" stroke-width="0.16">0</text>
<line x1="266.9" y1="641.3" x2="266.9" y2="643.5" stroke="#1e1e1e" stroke-width="0.8"/>
<text x="266.9" y="649.86" font-size="6" text-anchor="middle" fill="#111" stroke="#111" stroke-width="0.16">5</text>
<line x1="279.6" y1="641.3" x2="279.6" y2="643.5" stroke="#1e1e1e" stroke-width="0.8"/>
<text x="279.6" y="649.86" font-size="6" text-anchor="middle" fill="#111" stroke="#111" stroke-width="0.16">10</text>
<text x="255.6" y="660.86" font-size="7.4" text-anchor="middle" font-weight="bold" fill="#111" stroke="#111" stroke-width="0.16" textLength="21.8" lengthAdjust="spacingAndGlyphs">UMAP_1</text>
<text transform="translate(211.24 607.4) rotate(-90)" x="0" y="0" font-size="7.4" font-weight="bold" text-anchor="middle" fill="#111" textLength="22.2" lengthAdjust="spacingAndGlyphs">UMAP_2</text>
<text x="254.75" y="573.92" font-size="8.4" text-anchor="middle" fill="#111" stroke="#111" stroke-width="0.16" textLength="34.9" lengthAdjust="spacingAndGlyphs">SLC27A6</text>
<rect x="286.7" y="603.2" width="2.8" height="12.1" fill="url(#cb)"/>
<text x="290.3" y="605.21" font-size="2.8" text-anchor="start" fill="#666" stroke="#666" stroke-width="0">3</text>
<text x="290.3" y="608.57" font-size="2.8" text-anchor="start" fill="#666" stroke="#666" stroke-width="0">2</text>
<text x="290.3" y="611.94" font-size="2.8" text-anchor="start" fill="#666" stroke="#666" stroke-width="0">1</text>
<text x="290.3" y="615.31" font-size="2.8" text-anchor="start" fill="#666" stroke="#666" stroke-width="0">0</text>
<rect x="0.5" y="0.5" width="519" height="665" fill="none" stroke="#6a6a6a" stroke-width="1"/>
</g>
</svg>
</body></html>
